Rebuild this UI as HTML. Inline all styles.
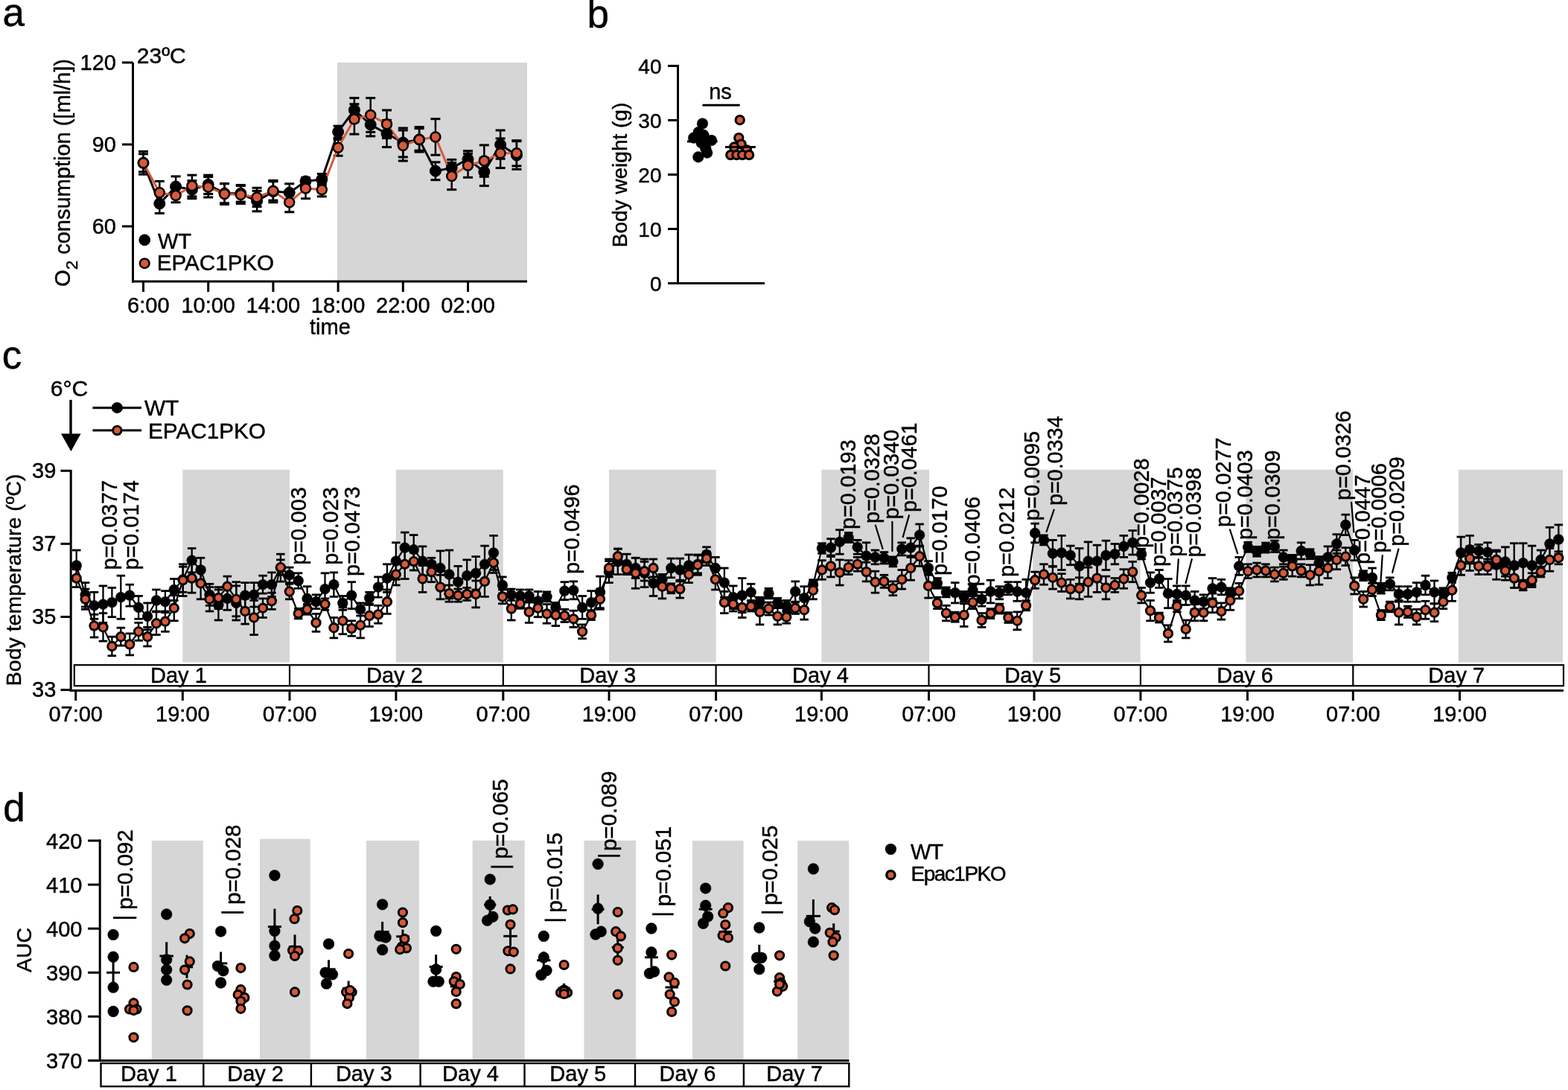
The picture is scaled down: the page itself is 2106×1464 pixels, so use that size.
<!DOCTYPE html>
<html><head><meta charset="utf-8"><title>Figure</title>
<style>
html,body{margin:0;padding:0;background:#fff;}
body{width:2106px;height:1464px;overflow:hidden;}
svg{display:block;}
svg text{font-family:'Liberation Sans', Arial, Helvetica, sans-serif;fill:#000;stroke:#000;stroke-width:0.45px;}
</style></head><body>
<svg width="2106" height="1464" viewBox="0 0 2106 1464">
<rect x="0" y="0" width="2106" height="1464" fill="#fff"/>
<text x="3.6" y="35.2" font-size="53" text-anchor="start">a</text>
<rect x="453.0" y="84.0" width="255.0" height="294.0" fill="#d6d6d6" stroke="none" stroke-width="0"/>
<line x1="178.5" y1="84.0" x2="178.5" y2="379.5" stroke="#000" stroke-width="3" stroke-linecap="butt"/>
<line x1="177.0" y1="378.0" x2="708.0" y2="378.0" stroke="#000" stroke-width="3" stroke-linecap="butt"/>
<line x1="164.0" y1="84.0" x2="178.5" y2="84.0" stroke="#000" stroke-width="3" stroke-linecap="butt"/>
<text x="156.0" y="94.0" font-size="29" text-anchor="end">120</text>
<line x1="164.0" y1="194.0" x2="178.5" y2="194.0" stroke="#000" stroke-width="3" stroke-linecap="butt"/>
<text x="156.0" y="204.0" font-size="29" text-anchor="end">90</text>
<line x1="164.0" y1="304.0" x2="178.5" y2="304.0" stroke="#000" stroke-width="3" stroke-linecap="butt"/>
<text x="156.0" y="314.0" font-size="29" text-anchor="end">60</text>
<line x1="192.5" y1="378.0" x2="192.5" y2="392.0" stroke="#000" stroke-width="3" stroke-linecap="butt"/>
<text x="199.3" y="420.0" font-size="29" text-anchor="middle">6:00</text>
<line x1="279.7" y1="378.0" x2="279.7" y2="392.0" stroke="#000" stroke-width="3" stroke-linecap="butt"/>
<text x="279.7" y="420.0" font-size="29" text-anchor="middle">10:00</text>
<line x1="366.9" y1="378.0" x2="366.9" y2="392.0" stroke="#000" stroke-width="3" stroke-linecap="butt"/>
<text x="366.9" y="420.0" font-size="29" text-anchor="middle">14:00</text>
<line x1="454.1" y1="378.0" x2="454.1" y2="392.0" stroke="#000" stroke-width="3" stroke-linecap="butt"/>
<text x="454.1" y="420.0" font-size="29" text-anchor="middle">18:00</text>
<line x1="541.3" y1="378.0" x2="541.3" y2="392.0" stroke="#000" stroke-width="3" stroke-linecap="butt"/>
<text x="541.3" y="420.0" font-size="29" text-anchor="middle">22:00</text>
<line x1="628.5" y1="378.0" x2="628.5" y2="392.0" stroke="#000" stroke-width="3" stroke-linecap="butt"/>
<text x="628.5" y="420.0" font-size="29" text-anchor="middle">02:00</text>
<text x="443.4" y="448.5" font-size="29" text-anchor="middle">time</text>
<text x="183.8" y="85.0" font-size="30" text-anchor="start">23ºC</text>
<text x="93.5" y="232" font-size="29" text-anchor="middle" transform="rotate(-90 93.5 232)">O<tspan font-size="22.5" dy="10">2</tspan><tspan dy="-10"> consumption ([ml/h])</tspan></text>
<line x1="192.5" y1="206.8" x2="192.5" y2="230.8" stroke="#000" stroke-width="2.5" stroke-linecap="butt"/><line x1="186.0" y1="206.8" x2="199.0" y2="206.8" stroke="#000" stroke-width="3.0" stroke-linecap="butt"/><line x1="186.0" y1="230.8" x2="199.0" y2="230.8" stroke="#000" stroke-width="3.0" stroke-linecap="butt"/>
<line x1="192.5" y1="203.4" x2="192.5" y2="234.2" stroke="#000" stroke-width="2.5" stroke-linecap="butt"/><line x1="186.0" y1="203.4" x2="199.0" y2="203.4" stroke="#000" stroke-width="3.0" stroke-linecap="butt"/><line x1="186.0" y1="234.2" x2="199.0" y2="234.2" stroke="#000" stroke-width="3.0" stroke-linecap="butt"/>
<line x1="214.3" y1="260.5" x2="214.3" y2="286.5" stroke="#000" stroke-width="2.5" stroke-linecap="butt"/><line x1="207.8" y1="260.5" x2="220.8" y2="260.5" stroke="#000" stroke-width="3.0" stroke-linecap="butt"/><line x1="207.8" y1="286.5" x2="220.8" y2="286.5" stroke="#000" stroke-width="3.0" stroke-linecap="butt"/>
<line x1="214.3" y1="243.4" x2="214.3" y2="274.2" stroke="#000" stroke-width="2.5" stroke-linecap="butt"/><line x1="207.8" y1="243.4" x2="220.8" y2="243.4" stroke="#000" stroke-width="3.0" stroke-linecap="butt"/><line x1="207.8" y1="274.2" x2="220.8" y2="274.2" stroke="#000" stroke-width="3.0" stroke-linecap="butt"/>
<line x1="236.1" y1="236.9" x2="236.1" y2="264.3" stroke="#000" stroke-width="2.5" stroke-linecap="butt"/><line x1="229.6" y1="236.9" x2="242.6" y2="236.9" stroke="#000" stroke-width="3.0" stroke-linecap="butt"/><line x1="229.6" y1="264.3" x2="242.6" y2="264.3" stroke="#000" stroke-width="3.0" stroke-linecap="butt"/>
<line x1="236.1" y1="253.3" x2="236.1" y2="271.8" stroke="#000" stroke-width="2.5" stroke-linecap="butt"/><line x1="229.6" y1="253.3" x2="242.6" y2="253.3" stroke="#000" stroke-width="3.0" stroke-linecap="butt"/><line x1="229.6" y1="271.8" x2="242.6" y2="271.8" stroke="#000" stroke-width="3.0" stroke-linecap="butt"/>
<line x1="257.9" y1="242.7" x2="257.9" y2="266.7" stroke="#000" stroke-width="2.5" stroke-linecap="butt"/><line x1="251.4" y1="242.7" x2="264.4" y2="242.7" stroke="#000" stroke-width="3.0" stroke-linecap="butt"/><line x1="251.4" y1="266.7" x2="264.4" y2="266.7" stroke="#000" stroke-width="3.0" stroke-linecap="butt"/>
<line x1="257.9" y1="235.2" x2="257.9" y2="263.9" stroke="#000" stroke-width="2.5" stroke-linecap="butt"/><line x1="251.4" y1="235.2" x2="264.4" y2="235.2" stroke="#000" stroke-width="3.0" stroke-linecap="butt"/><line x1="251.4" y1="263.9" x2="264.4" y2="263.9" stroke="#000" stroke-width="3.0" stroke-linecap="butt"/>
<line x1="279.7" y1="235.2" x2="279.7" y2="260.5" stroke="#000" stroke-width="2.5" stroke-linecap="butt"/><line x1="273.2" y1="235.2" x2="286.2" y2="235.2" stroke="#000" stroke-width="3.0" stroke-linecap="butt"/><line x1="273.2" y1="260.5" x2="286.2" y2="260.5" stroke="#000" stroke-width="3.0" stroke-linecap="butt"/>
<line x1="279.7" y1="237.6" x2="279.7" y2="265.0" stroke="#000" stroke-width="2.5" stroke-linecap="butt"/><line x1="273.2" y1="237.6" x2="286.2" y2="237.6" stroke="#000" stroke-width="3.0" stroke-linecap="butt"/><line x1="273.2" y1="265.0" x2="286.2" y2="265.0" stroke="#000" stroke-width="3.0" stroke-linecap="butt"/>
<line x1="301.5" y1="246.8" x2="301.5" y2="272.8" stroke="#000" stroke-width="2.5" stroke-linecap="butt"/><line x1="295.0" y1="246.8" x2="308.0" y2="246.8" stroke="#000" stroke-width="3.0" stroke-linecap="butt"/><line x1="295.0" y1="272.8" x2="308.0" y2="272.8" stroke="#000" stroke-width="3.0" stroke-linecap="butt"/>
<line x1="301.5" y1="246.5" x2="301.5" y2="274.5" stroke="#000" stroke-width="2.5" stroke-linecap="butt"/><line x1="295.0" y1="246.5" x2="308.0" y2="246.5" stroke="#000" stroke-width="3.0" stroke-linecap="butt"/><line x1="295.0" y1="274.5" x2="308.0" y2="274.5" stroke="#000" stroke-width="3.0" stroke-linecap="butt"/>
<line x1="323.3" y1="248.5" x2="323.3" y2="271.1" stroke="#000" stroke-width="2.5" stroke-linecap="butt"/><line x1="316.8" y1="248.5" x2="329.8" y2="248.5" stroke="#000" stroke-width="3.0" stroke-linecap="butt"/><line x1="316.8" y1="271.1" x2="329.8" y2="271.1" stroke="#000" stroke-width="3.0" stroke-linecap="butt"/>
<line x1="323.3" y1="249.6" x2="323.3" y2="273.5" stroke="#000" stroke-width="2.5" stroke-linecap="butt"/><line x1="316.8" y1="249.6" x2="329.8" y2="249.6" stroke="#000" stroke-width="3.0" stroke-linecap="butt"/><line x1="316.8" y1="273.5" x2="329.8" y2="273.5" stroke="#000" stroke-width="3.0" stroke-linecap="butt"/>
<line x1="345.1" y1="256.4" x2="345.1" y2="283.8" stroke="#000" stroke-width="2.5" stroke-linecap="butt"/><line x1="338.6" y1="256.4" x2="351.6" y2="256.4" stroke="#000" stroke-width="3.0" stroke-linecap="butt"/><line x1="338.6" y1="283.8" x2="351.6" y2="283.8" stroke="#000" stroke-width="3.0" stroke-linecap="butt"/>
<line x1="345.1" y1="252.3" x2="345.1" y2="277.6" stroke="#000" stroke-width="2.5" stroke-linecap="butt"/><line x1="338.6" y1="252.3" x2="351.6" y2="252.3" stroke="#000" stroke-width="3.0" stroke-linecap="butt"/><line x1="338.6" y1="277.6" x2="351.6" y2="277.6" stroke="#000" stroke-width="3.0" stroke-linecap="butt"/>
<line x1="366.9" y1="242.4" x2="366.9" y2="271.8" stroke="#000" stroke-width="2.5" stroke-linecap="butt"/><line x1="360.4" y1="242.4" x2="373.4" y2="242.4" stroke="#000" stroke-width="3.0" stroke-linecap="butt"/><line x1="360.4" y1="271.8" x2="373.4" y2="271.8" stroke="#000" stroke-width="3.0" stroke-linecap="butt"/>
<line x1="366.9" y1="243.8" x2="366.9" y2="269.1" stroke="#000" stroke-width="2.5" stroke-linecap="butt"/><line x1="360.4" y1="243.8" x2="373.4" y2="243.8" stroke="#000" stroke-width="3.0" stroke-linecap="butt"/><line x1="360.4" y1="269.1" x2="373.4" y2="269.1" stroke="#000" stroke-width="3.0" stroke-linecap="butt"/>
<line x1="388.7" y1="246.8" x2="388.7" y2="270.8" stroke="#000" stroke-width="2.5" stroke-linecap="butt"/><line x1="382.2" y1="246.8" x2="395.2" y2="246.8" stroke="#000" stroke-width="3.0" stroke-linecap="butt"/><line x1="382.2" y1="270.8" x2="395.2" y2="270.8" stroke="#000" stroke-width="3.0" stroke-linecap="butt"/>
<line x1="388.7" y1="258.8" x2="388.7" y2="284.8" stroke="#000" stroke-width="2.5" stroke-linecap="butt"/><line x1="382.2" y1="258.8" x2="395.2" y2="258.8" stroke="#000" stroke-width="3.0" stroke-linecap="butt"/><line x1="382.2" y1="284.8" x2="395.2" y2="284.8" stroke="#000" stroke-width="3.0" stroke-linecap="butt"/>
<line x1="410.5" y1="238.6" x2="410.5" y2="248.2" stroke="#000" stroke-width="2.5" stroke-linecap="butt"/><line x1="404.0" y1="238.6" x2="417.0" y2="238.6" stroke="#000" stroke-width="3.0" stroke-linecap="butt"/><line x1="404.0" y1="248.2" x2="417.0" y2="248.2" stroke="#000" stroke-width="3.0" stroke-linecap="butt"/>
<line x1="410.5" y1="239.3" x2="410.5" y2="266.7" stroke="#000" stroke-width="2.5" stroke-linecap="butt"/><line x1="404.0" y1="239.3" x2="417.0" y2="239.3" stroke="#000" stroke-width="3.0" stroke-linecap="butt"/><line x1="404.0" y1="266.7" x2="417.0" y2="266.7" stroke="#000" stroke-width="3.0" stroke-linecap="butt"/>
<line x1="432.3" y1="233.5" x2="432.3" y2="248.5" stroke="#000" stroke-width="2.5" stroke-linecap="butt"/><line x1="425.8" y1="233.5" x2="438.8" y2="233.5" stroke="#000" stroke-width="3.0" stroke-linecap="butt"/><line x1="425.8" y1="248.5" x2="438.8" y2="248.5" stroke="#000" stroke-width="3.0" stroke-linecap="butt"/>
<line x1="432.3" y1="245.5" x2="432.3" y2="263.9" stroke="#000" stroke-width="2.5" stroke-linecap="butt"/><line x1="425.8" y1="245.5" x2="438.8" y2="245.5" stroke="#000" stroke-width="3.0" stroke-linecap="butt"/><line x1="425.8" y1="263.9" x2="438.8" y2="263.9" stroke="#000" stroke-width="3.0" stroke-linecap="butt"/>
<line x1="454.1" y1="169.2" x2="454.1" y2="185.0" stroke="#000" stroke-width="2.5" stroke-linecap="butt"/><line x1="447.6" y1="169.2" x2="460.6" y2="169.2" stroke="#000" stroke-width="3.0" stroke-linecap="butt"/><line x1="447.6" y1="185.0" x2="460.6" y2="185.0" stroke="#000" stroke-width="3.0" stroke-linecap="butt"/>
<line x1="454.1" y1="187.4" x2="454.1" y2="209.2" stroke="#000" stroke-width="2.5" stroke-linecap="butt"/><line x1="447.6" y1="187.4" x2="460.6" y2="187.4" stroke="#000" stroke-width="3.0" stroke-linecap="butt"/><line x1="447.6" y1="209.2" x2="460.6" y2="209.2" stroke="#000" stroke-width="3.0" stroke-linecap="butt"/>
<line x1="475.9" y1="131.6" x2="475.9" y2="163.8" stroke="#000" stroke-width="2.5" stroke-linecap="butt"/><line x1="469.4" y1="131.6" x2="482.4" y2="131.6" stroke="#000" stroke-width="3.0" stroke-linecap="butt"/><line x1="469.4" y1="163.8" x2="482.4" y2="163.8" stroke="#000" stroke-width="3.0" stroke-linecap="butt"/>
<line x1="475.9" y1="139.8" x2="475.9" y2="180.2" stroke="#000" stroke-width="2.5" stroke-linecap="butt"/><line x1="469.4" y1="139.8" x2="482.4" y2="139.8" stroke="#000" stroke-width="3.0" stroke-linecap="butt"/><line x1="469.4" y1="180.2" x2="482.4" y2="180.2" stroke="#000" stroke-width="3.0" stroke-linecap="butt"/>
<line x1="497.7" y1="152.1" x2="497.7" y2="182.9" stroke="#000" stroke-width="2.5" stroke-linecap="butt"/><line x1="491.2" y1="152.1" x2="504.2" y2="152.1" stroke="#000" stroke-width="3.0" stroke-linecap="butt"/><line x1="491.2" y1="182.9" x2="504.2" y2="182.9" stroke="#000" stroke-width="3.0" stroke-linecap="butt"/>
<line x1="497.7" y1="131.6" x2="497.7" y2="177.4" stroke="#000" stroke-width="2.5" stroke-linecap="butt"/><line x1="491.2" y1="131.6" x2="504.2" y2="131.6" stroke="#000" stroke-width="3.0" stroke-linecap="butt"/><line x1="491.2" y1="177.4" x2="504.2" y2="177.4" stroke="#000" stroke-width="3.0" stroke-linecap="butt"/>
<line x1="519.5" y1="161.4" x2="519.5" y2="197.6" stroke="#000" stroke-width="2.5" stroke-linecap="butt"/><line x1="513.0" y1="161.4" x2="526.0" y2="161.4" stroke="#000" stroke-width="3.0" stroke-linecap="butt"/><line x1="513.0" y1="197.6" x2="526.0" y2="197.6" stroke="#000" stroke-width="3.0" stroke-linecap="butt"/>
<line x1="519.5" y1="148.0" x2="519.5" y2="185.6" stroke="#000" stroke-width="2.5" stroke-linecap="butt"/><line x1="513.0" y1="148.0" x2="526.0" y2="148.0" stroke="#000" stroke-width="3.0" stroke-linecap="butt"/><line x1="513.0" y1="185.6" x2="526.0" y2="185.6" stroke="#000" stroke-width="3.0" stroke-linecap="butt"/>
<line x1="541.3" y1="172.0" x2="541.3" y2="210.9" stroke="#000" stroke-width="2.5" stroke-linecap="butt"/><line x1="534.8" y1="172.0" x2="547.8" y2="172.0" stroke="#000" stroke-width="3.0" stroke-linecap="butt"/><line x1="534.8" y1="210.9" x2="547.8" y2="210.9" stroke="#000" stroke-width="3.0" stroke-linecap="butt"/>
<line x1="541.3" y1="175.0" x2="541.3" y2="216.1" stroke="#000" stroke-width="2.5" stroke-linecap="butt"/><line x1="534.8" y1="175.0" x2="547.8" y2="175.0" stroke="#000" stroke-width="3.0" stroke-linecap="butt"/><line x1="534.8" y1="216.1" x2="547.8" y2="216.1" stroke="#000" stroke-width="3.0" stroke-linecap="butt"/>
<line x1="563.1" y1="172.6" x2="563.1" y2="202.1" stroke="#000" stroke-width="2.5" stroke-linecap="butt"/><line x1="556.6" y1="172.6" x2="569.6" y2="172.6" stroke="#000" stroke-width="3.0" stroke-linecap="butt"/><line x1="556.6" y1="202.1" x2="569.6" y2="202.1" stroke="#000" stroke-width="3.0" stroke-linecap="butt"/>
<line x1="563.1" y1="170.6" x2="563.1" y2="204.1" stroke="#000" stroke-width="2.5" stroke-linecap="butt"/><line x1="556.6" y1="170.6" x2="569.6" y2="170.6" stroke="#000" stroke-width="3.0" stroke-linecap="butt"/><line x1="556.6" y1="204.1" x2="569.6" y2="204.1" stroke="#000" stroke-width="3.0" stroke-linecap="butt"/>
<line x1="584.9" y1="217.8" x2="584.9" y2="241.7" stroke="#000" stroke-width="2.5" stroke-linecap="butt"/><line x1="578.4" y1="217.8" x2="591.4" y2="217.8" stroke="#000" stroke-width="3.0" stroke-linecap="butt"/><line x1="578.4" y1="241.7" x2="591.4" y2="241.7" stroke="#000" stroke-width="3.0" stroke-linecap="butt"/>
<line x1="584.9" y1="159.7" x2="584.9" y2="208.2" stroke="#000" stroke-width="2.5" stroke-linecap="butt"/><line x1="578.4" y1="159.7" x2="591.4" y2="159.7" stroke="#000" stroke-width="3.0" stroke-linecap="butt"/><line x1="578.4" y1="208.2" x2="591.4" y2="208.2" stroke="#000" stroke-width="3.0" stroke-linecap="butt"/>
<line x1="606.7" y1="214.4" x2="606.7" y2="236.9" stroke="#000" stroke-width="2.5" stroke-linecap="butt"/><line x1="600.2" y1="214.4" x2="613.2" y2="214.4" stroke="#000" stroke-width="3.0" stroke-linecap="butt"/><line x1="600.2" y1="236.9" x2="613.2" y2="236.9" stroke="#000" stroke-width="3.0" stroke-linecap="butt"/>
<line x1="606.7" y1="218.5" x2="606.7" y2="254.7" stroke="#000" stroke-width="2.5" stroke-linecap="butt"/><line x1="600.2" y1="218.5" x2="613.2" y2="218.5" stroke="#000" stroke-width="3.0" stroke-linecap="butt"/><line x1="600.2" y1="254.7" x2="613.2" y2="254.7" stroke="#000" stroke-width="3.0" stroke-linecap="butt"/>
<line x1="628.5" y1="202.7" x2="628.5" y2="224.6" stroke="#000" stroke-width="2.5" stroke-linecap="butt"/><line x1="622.0" y1="202.7" x2="635.0" y2="202.7" stroke="#000" stroke-width="3.0" stroke-linecap="butt"/><line x1="622.0" y1="224.6" x2="635.0" y2="224.6" stroke="#000" stroke-width="3.0" stroke-linecap="butt"/>
<line x1="628.5" y1="206.2" x2="628.5" y2="238.3" stroke="#000" stroke-width="2.5" stroke-linecap="butt"/><line x1="622.0" y1="206.2" x2="635.0" y2="206.2" stroke="#000" stroke-width="3.0" stroke-linecap="butt"/><line x1="622.0" y1="238.3" x2="635.0" y2="238.3" stroke="#000" stroke-width="3.0" stroke-linecap="butt"/>
<line x1="650.3" y1="212.0" x2="650.3" y2="249.6" stroke="#000" stroke-width="2.5" stroke-linecap="butt"/><line x1="643.8" y1="212.0" x2="656.8" y2="212.0" stroke="#000" stroke-width="3.0" stroke-linecap="butt"/><line x1="643.8" y1="249.6" x2="656.8" y2="249.6" stroke="#000" stroke-width="3.0" stroke-linecap="butt"/>
<line x1="650.3" y1="194.9" x2="650.3" y2="237.3" stroke="#000" stroke-width="2.5" stroke-linecap="butt"/><line x1="643.8" y1="194.9" x2="656.8" y2="194.9" stroke="#000" stroke-width="3.0" stroke-linecap="butt"/><line x1="643.8" y1="237.3" x2="656.8" y2="237.3" stroke="#000" stroke-width="3.0" stroke-linecap="butt"/>
<line x1="672.1" y1="175.0" x2="672.1" y2="213.3" stroke="#000" stroke-width="2.5" stroke-linecap="butt"/><line x1="665.6" y1="175.0" x2="678.6" y2="175.0" stroke="#000" stroke-width="3.0" stroke-linecap="butt"/><line x1="665.6" y1="213.3" x2="678.6" y2="213.3" stroke="#000" stroke-width="3.0" stroke-linecap="butt"/>
<line x1="672.1" y1="186.0" x2="672.1" y2="225.6" stroke="#000" stroke-width="2.5" stroke-linecap="butt"/><line x1="665.6" y1="186.0" x2="678.6" y2="186.0" stroke="#000" stroke-width="3.0" stroke-linecap="butt"/><line x1="665.6" y1="225.6" x2="678.6" y2="225.6" stroke="#000" stroke-width="3.0" stroke-linecap="butt"/>
<line x1="693.9" y1="189.7" x2="693.9" y2="227.4" stroke="#000" stroke-width="2.5" stroke-linecap="butt"/><line x1="687.4" y1="189.7" x2="700.4" y2="189.7" stroke="#000" stroke-width="3.0" stroke-linecap="butt"/><line x1="687.4" y1="227.4" x2="700.4" y2="227.4" stroke="#000" stroke-width="3.0" stroke-linecap="butt"/>
<line x1="693.9" y1="188.7" x2="693.9" y2="222.9" stroke="#000" stroke-width="2.5" stroke-linecap="butt"/><line x1="687.4" y1="188.7" x2="700.4" y2="188.7" stroke="#000" stroke-width="3.0" stroke-linecap="butt"/><line x1="687.4" y1="222.9" x2="700.4" y2="222.9" stroke="#000" stroke-width="3.0" stroke-linecap="butt"/>
<polyline points="192.5,218.8 214.3,273.5 236.1,250.6 257.9,254.7 279.7,247.9 301.5,259.8 323.3,259.8 345.1,270.1 366.9,257.1 388.7,258.8 410.5,243.4 432.3,241.0 454.1,177.1 475.9,147.7 497.7,167.5 519.5,179.5 541.3,191.5 563.1,187.4 584.9,229.7 606.7,225.6 628.5,213.7 650.3,230.8 672.1,194.2 693.9,208.5" fill="none" stroke="#000" stroke-width="3" stroke-linejoin="round"/>
<polyline points="192.5,218.8 214.3,258.8 236.1,262.6 257.9,249.6 279.7,251.3 301.5,260.5 323.3,261.5 345.1,265.0 366.9,256.4 388.7,271.8 410.5,253.0 432.3,254.7 454.1,198.3 475.9,160.0 497.7,154.5 519.5,166.8 541.3,195.6 563.1,187.4 584.9,183.9 606.7,236.6 628.5,222.2 650.3,216.1 672.1,205.8 693.9,205.8" fill="none" stroke="#d65a3a" stroke-width="3" stroke-linejoin="round"/>
<circle cx="192.5" cy="218.8" r="7.5" fill="#000" stroke="#000" stroke-width="1"/>
<circle cx="214.3" cy="273.5" r="7.5" fill="#000" stroke="#000" stroke-width="1"/>
<circle cx="236.1" cy="250.6" r="7.5" fill="#000" stroke="#000" stroke-width="1"/>
<circle cx="257.9" cy="254.7" r="7.5" fill="#000" stroke="#000" stroke-width="1"/>
<circle cx="279.7" cy="247.9" r="7.5" fill="#000" stroke="#000" stroke-width="1"/>
<circle cx="301.5" cy="259.8" r="7.5" fill="#000" stroke="#000" stroke-width="1"/>
<circle cx="323.3" cy="259.8" r="7.5" fill="#000" stroke="#000" stroke-width="1"/>
<circle cx="345.1" cy="270.1" r="7.5" fill="#000" stroke="#000" stroke-width="1"/>
<circle cx="366.9" cy="257.1" r="7.5" fill="#000" stroke="#000" stroke-width="1"/>
<circle cx="388.7" cy="258.8" r="7.5" fill="#000" stroke="#000" stroke-width="1"/>
<circle cx="410.5" cy="243.4" r="7.5" fill="#000" stroke="#000" stroke-width="1"/>
<circle cx="432.3" cy="241.0" r="7.5" fill="#000" stroke="#000" stroke-width="1"/>
<circle cx="454.1" cy="177.1" r="7.5" fill="#000" stroke="#000" stroke-width="1"/>
<circle cx="475.9" cy="147.7" r="7.5" fill="#000" stroke="#000" stroke-width="1"/>
<circle cx="497.7" cy="167.5" r="7.5" fill="#000" stroke="#000" stroke-width="1"/>
<circle cx="519.5" cy="179.5" r="7.5" fill="#000" stroke="#000" stroke-width="1"/>
<circle cx="541.3" cy="191.5" r="7.5" fill="#000" stroke="#000" stroke-width="1"/>
<circle cx="563.1" cy="187.4" r="7.5" fill="#000" stroke="#000" stroke-width="1"/>
<circle cx="584.9" cy="229.7" r="7.5" fill="#000" stroke="#000" stroke-width="1"/>
<circle cx="606.7" cy="225.6" r="7.5" fill="#000" stroke="#000" stroke-width="1"/>
<circle cx="628.5" cy="213.7" r="7.5" fill="#000" stroke="#000" stroke-width="1"/>
<circle cx="650.3" cy="230.8" r="7.5" fill="#000" stroke="#000" stroke-width="1"/>
<circle cx="672.1" cy="194.2" r="7.5" fill="#000" stroke="#000" stroke-width="1"/>
<circle cx="693.9" cy="208.5" r="7.5" fill="#000" stroke="#000" stroke-width="1"/>
<circle cx="192.5" cy="218.8" r="6.5" fill="#d65a3a" stroke="#000" stroke-width="2.5"/>
<circle cx="214.3" cy="258.8" r="6.5" fill="#d65a3a" stroke="#000" stroke-width="2.5"/>
<circle cx="236.1" cy="262.6" r="6.5" fill="#d65a3a" stroke="#000" stroke-width="2.5"/>
<circle cx="257.9" cy="249.6" r="6.5" fill="#d65a3a" stroke="#000" stroke-width="2.5"/>
<circle cx="279.7" cy="251.3" r="6.5" fill="#d65a3a" stroke="#000" stroke-width="2.5"/>
<circle cx="301.5" cy="260.5" r="6.5" fill="#d65a3a" stroke="#000" stroke-width="2.5"/>
<circle cx="323.3" cy="261.5" r="6.5" fill="#d65a3a" stroke="#000" stroke-width="2.5"/>
<circle cx="345.1" cy="265.0" r="6.5" fill="#d65a3a" stroke="#000" stroke-width="2.5"/>
<circle cx="366.9" cy="256.4" r="6.5" fill="#d65a3a" stroke="#000" stroke-width="2.5"/>
<circle cx="388.7" cy="271.8" r="6.5" fill="#d65a3a" stroke="#000" stroke-width="2.5"/>
<circle cx="410.5" cy="253.0" r="6.5" fill="#d65a3a" stroke="#000" stroke-width="2.5"/>
<circle cx="432.3" cy="254.7" r="6.5" fill="#d65a3a" stroke="#000" stroke-width="2.5"/>
<circle cx="454.1" cy="198.3" r="6.5" fill="#d65a3a" stroke="#000" stroke-width="2.5"/>
<circle cx="475.9" cy="160.0" r="6.5" fill="#d65a3a" stroke="#000" stroke-width="2.5"/>
<circle cx="497.7" cy="154.5" r="6.5" fill="#d65a3a" stroke="#000" stroke-width="2.5"/>
<circle cx="519.5" cy="166.8" r="6.5" fill="#d65a3a" stroke="#000" stroke-width="2.5"/>
<circle cx="541.3" cy="195.6" r="6.5" fill="#d65a3a" stroke="#000" stroke-width="2.5"/>
<circle cx="563.1" cy="187.4" r="6.5" fill="#d65a3a" stroke="#000" stroke-width="2.5"/>
<circle cx="584.9" cy="183.9" r="6.5" fill="#d65a3a" stroke="#000" stroke-width="2.5"/>
<circle cx="606.7" cy="236.6" r="6.5" fill="#d65a3a" stroke="#000" stroke-width="2.5"/>
<circle cx="628.5" cy="222.2" r="6.5" fill="#d65a3a" stroke="#000" stroke-width="2.5"/>
<circle cx="650.3" cy="216.1" r="6.5" fill="#d65a3a" stroke="#000" stroke-width="2.5"/>
<circle cx="672.1" cy="205.8" r="6.5" fill="#d65a3a" stroke="#000" stroke-width="2.5"/>
<circle cx="693.9" cy="205.8" r="6.5" fill="#d65a3a" stroke="#000" stroke-width="2.5"/>
<circle cx="194.2" cy="322.3" r="7.4" fill="#000" stroke="#000" stroke-width="1"/>
<text x="212.0" y="333.7" font-size="29" text-anchor="start">WT</text>
<circle cx="194.2" cy="353.7" r="6.3" fill="#d65a3a" stroke="#000" stroke-width="2.5"/>
<text x="210.8" y="362.7" font-size="29.6" text-anchor="start">EPAC1PKO</text>
<text x="788.5" y="36.5" font-size="53" text-anchor="start">b</text>
<line x1="910.5" y1="87.0" x2="910.5" y2="381.5" stroke="#000" stroke-width="3" stroke-linecap="butt"/>
<line x1="909.0" y1="380.5" x2="1027.0" y2="380.5" stroke="#000" stroke-width="3" stroke-linecap="butt"/>
<line x1="897.0" y1="88.5" x2="910.5" y2="88.5" stroke="#000" stroke-width="3" stroke-linecap="butt"/>
<text x="888.5" y="98.5" font-size="28" text-anchor="end">40</text>
<line x1="897.0" y1="161.5" x2="910.5" y2="161.5" stroke="#000" stroke-width="3" stroke-linecap="butt"/>
<text x="888.5" y="171.5" font-size="28" text-anchor="end">30</text>
<line x1="897.0" y1="234.5" x2="910.5" y2="234.5" stroke="#000" stroke-width="3" stroke-linecap="butt"/>
<text x="888.5" y="244.5" font-size="28" text-anchor="end">20</text>
<line x1="897.0" y1="307.5" x2="910.5" y2="307.5" stroke="#000" stroke-width="3" stroke-linecap="butt"/>
<text x="888.5" y="317.5" font-size="28" text-anchor="end">10</text>
<line x1="897.0" y1="380.5" x2="910.5" y2="380.5" stroke="#000" stroke-width="3" stroke-linecap="butt"/>
<text x="888.5" y="390.5" font-size="28" text-anchor="end">0</text>
<text x="841.5" y="235.0" font-size="28" text-anchor="middle" transform="rotate(-90 841.5 235.0)">Body weight (g)</text>
<text x="967.5" y="133.0" font-size="29" text-anchor="middle">ns</text>
<line x1="943.5" y1="141.3" x2="993.7" y2="141.3" stroke="#000" stroke-width="3" stroke-linecap="butt"/>
<circle cx="943.5" cy="166.0" r="7.3" fill="#000" stroke="#000" stroke-width="0.5"/>
<circle cx="938.3" cy="177.5" r="7.3" fill="#000" stroke="#000" stroke-width="0.5"/>
<circle cx="944.9" cy="181.3" r="7.3" fill="#000" stroke="#000" stroke-width="0.5"/>
<circle cx="931.6" cy="185.1" r="7.3" fill="#000" stroke="#000" stroke-width="0.5"/>
<circle cx="955.5" cy="188.5" r="7.3" fill="#000" stroke="#000" stroke-width="0.5"/>
<circle cx="942.1" cy="191.8" r="7.3" fill="#000" stroke="#000" stroke-width="0.5"/>
<circle cx="947.8" cy="199.5" r="7.3" fill="#000" stroke="#000" stroke-width="0.5"/>
<circle cx="949.7" cy="205.2" r="7.3" fill="#000" stroke="#000" stroke-width="0.5"/>
<circle cx="937.8" cy="210.9" r="7.3" fill="#000" stroke="#000" stroke-width="0.5"/>
<line x1="923.0" y1="189.9" x2="963.6" y2="189.9" stroke="#000" stroke-width="3" stroke-linecap="butt"/>
<circle cx="993.7" cy="161.2" r="5.7" fill="#d65a3a" stroke="#000" stroke-width="3.0"/>
<circle cx="992.3" cy="185.1" r="5.7" fill="#d65a3a" stroke="#000" stroke-width="3.0"/>
<circle cx="995.6" cy="193.7" r="5.7" fill="#d65a3a" stroke="#000" stroke-width="3.0"/>
<circle cx="986.1" cy="197.5" r="5.7" fill="#d65a3a" stroke="#000" stroke-width="3.0"/>
<circle cx="1002.8" cy="201.4" r="5.7" fill="#d65a3a" stroke="#000" stroke-width="3.0"/>
<circle cx="981.3" cy="208.1" r="5.7" fill="#d65a3a" stroke="#000" stroke-width="3.0"/>
<circle cx="989.4" cy="208.1" r="5.7" fill="#d65a3a" stroke="#000" stroke-width="3.0"/>
<circle cx="997.1" cy="208.1" r="5.7" fill="#d65a3a" stroke="#000" stroke-width="3.0"/>
<circle cx="1006.1" cy="208.1" r="5.7" fill="#d65a3a" stroke="#000" stroke-width="3.0"/>
<line x1="974.0" y1="197.4" x2="1014.8" y2="197.4" stroke="#000" stroke-width="3" stroke-linecap="butt"/>
<text x="2.8" y="495.0" font-size="53" text-anchor="start">c</text>
<rect x="245.3" y="630.8" width="143.7" height="258.7" fill="#d6d6d6" stroke="none" stroke-width="0"/>
<rect x="531.9" y="630.8" width="143.9" height="258.7" fill="#d6d6d6" stroke="none" stroke-width="0"/>
<rect x="818.0" y="630.8" width="143.6" height="258.7" fill="#d6d6d6" stroke="none" stroke-width="0"/>
<rect x="1103.4" y="630.8" width="144.6" height="258.7" fill="#d6d6d6" stroke="none" stroke-width="0"/>
<rect x="1387.2" y="630.8" width="144.5" height="258.7" fill="#d6d6d6" stroke="none" stroke-width="0"/>
<rect x="1673.4" y="630.8" width="143.7" height="258.7" fill="#d6d6d6" stroke="none" stroke-width="0"/>
<rect x="1958.9" y="630.8" width="140.1" height="258.7" fill="#d6d6d6" stroke="none" stroke-width="0"/>
<line x1="95.2" y1="631.0" x2="95.2" y2="928.5" stroke="#000" stroke-width="3" stroke-linecap="butt"/>
<line x1="93.7" y1="927.4" x2="2100.0" y2="927.4" stroke="#000" stroke-width="3" stroke-linecap="butt"/>
<line x1="81.4" y1="632.3" x2="95.2" y2="632.3" stroke="#000" stroke-width="3" stroke-linecap="butt"/>
<text x="75.3" y="641.5" font-size="29" text-anchor="end">39</text>
<line x1="81.4" y1="730.4" x2="95.2" y2="730.4" stroke="#000" stroke-width="3" stroke-linecap="butt"/>
<text x="75.3" y="739.6" font-size="29" text-anchor="end">37</text>
<line x1="81.4" y1="828.5" x2="95.2" y2="828.5" stroke="#000" stroke-width="3" stroke-linecap="butt"/>
<text x="75.3" y="837.7" font-size="29" text-anchor="end">35</text>
<line x1="81.4" y1="926.6" x2="95.2" y2="926.6" stroke="#000" stroke-width="3" stroke-linecap="butt"/>
<text x="75.3" y="935.8" font-size="29" text-anchor="end">33</text>
<line x1="101.7" y1="927.4" x2="101.7" y2="941.0" stroke="#000" stroke-width="3" stroke-linecap="butt"/>
<text x="101.7" y="968.6" font-size="29" text-anchor="middle">07:00</text>
<line x1="245.3" y1="927.4" x2="245.3" y2="941.0" stroke="#000" stroke-width="3" stroke-linecap="butt"/>
<text x="245.3" y="968.6" font-size="29" text-anchor="middle">19:00</text>
<line x1="389.0" y1="927.4" x2="389.0" y2="941.0" stroke="#000" stroke-width="3" stroke-linecap="butt"/>
<text x="389.0" y="968.6" font-size="29" text-anchor="middle">07:00</text>
<line x1="531.9" y1="927.4" x2="531.9" y2="941.0" stroke="#000" stroke-width="3" stroke-linecap="butt"/>
<text x="531.9" y="968.6" font-size="29" text-anchor="middle">19:00</text>
<line x1="675.8" y1="927.4" x2="675.8" y2="941.0" stroke="#000" stroke-width="3" stroke-linecap="butt"/>
<text x="675.8" y="968.6" font-size="29" text-anchor="middle">07:00</text>
<line x1="818.0" y1="927.4" x2="818.0" y2="941.0" stroke="#000" stroke-width="3" stroke-linecap="butt"/>
<text x="818.0" y="968.6" font-size="29" text-anchor="middle">19:00</text>
<line x1="961.6" y1="927.4" x2="961.6" y2="941.0" stroke="#000" stroke-width="3" stroke-linecap="butt"/>
<text x="961.6" y="968.6" font-size="29" text-anchor="middle">07:00</text>
<line x1="1103.4" y1="927.4" x2="1103.4" y2="941.0" stroke="#000" stroke-width="3" stroke-linecap="butt"/>
<text x="1103.4" y="968.6" font-size="29" text-anchor="middle">19:00</text>
<line x1="1247.5" y1="927.4" x2="1247.5" y2="941.0" stroke="#000" stroke-width="3" stroke-linecap="butt"/>
<text x="1247.5" y="968.6" font-size="29" text-anchor="middle">07:00</text>
<line x1="1389.0" y1="927.4" x2="1389.0" y2="941.0" stroke="#000" stroke-width="3" stroke-linecap="butt"/>
<text x="1389.0" y="968.6" font-size="29" text-anchor="middle">19:00</text>
<line x1="1531.9" y1="927.4" x2="1531.9" y2="941.0" stroke="#000" stroke-width="3" stroke-linecap="butt"/>
<text x="1531.9" y="968.6" font-size="29" text-anchor="middle">07:00</text>
<line x1="1675.5" y1="927.4" x2="1675.5" y2="941.0" stroke="#000" stroke-width="3" stroke-linecap="butt"/>
<text x="1675.5" y="968.6" font-size="29" text-anchor="middle">19:00</text>
<line x1="1817.3" y1="927.4" x2="1817.3" y2="941.0" stroke="#000" stroke-width="3" stroke-linecap="butt"/>
<text x="1817.3" y="968.6" font-size="29" text-anchor="middle">07:00</text>
<line x1="1960.5" y1="927.4" x2="1960.5" y2="941.0" stroke="#000" stroke-width="3" stroke-linecap="butt"/>
<text x="1960.5" y="968.6" font-size="29" text-anchor="middle">19:00</text>
<rect x="99.8" y="893.2" width="2000.2" height="28" fill="#fff" stroke="#000" stroke-width="2.2"/>
<line x1="389.0" y1="893.2" x2="389.0" y2="921.2" stroke="#000" stroke-width="2.2" stroke-linecap="butt"/>
<line x1="675.8" y1="893.2" x2="675.8" y2="921.2" stroke="#000" stroke-width="2.2" stroke-linecap="butt"/>
<line x1="961.6" y1="893.2" x2="961.6" y2="921.2" stroke="#000" stroke-width="2.2" stroke-linecap="butt"/>
<line x1="1247.5" y1="893.2" x2="1247.5" y2="921.2" stroke="#000" stroke-width="2.2" stroke-linecap="butt"/>
<line x1="1531.9" y1="893.2" x2="1531.9" y2="921.2" stroke="#000" stroke-width="2.2" stroke-linecap="butt"/>
<line x1="1817.3" y1="893.2" x2="1817.3" y2="921.2" stroke="#000" stroke-width="2.2" stroke-linecap="butt"/>
<text x="239.9" y="916.6" font-size="29" text-anchor="middle">Day 1</text>
<text x="529.9" y="916.6" font-size="29" text-anchor="middle">Day 2</text>
<text x="816.2" y="916.6" font-size="29" text-anchor="middle">Day 3</text>
<text x="1102.0" y="916.6" font-size="29" text-anchor="middle">Day 4</text>
<text x="1387.2" y="916.6" font-size="29" text-anchor="middle">Day 5</text>
<text x="1672.1" y="916.6" font-size="29" text-anchor="middle">Day 6</text>
<text x="1956.2" y="916.6" font-size="29" text-anchor="middle">Day 7</text>
<text x="27.5" y="779.0" font-size="28.5" text-anchor="middle" transform="rotate(-90 27.5 779.0)">Body temperature (ºC)</text>
<text x="92.9" y="532.2" font-size="30" text-anchor="middle">6°C</text>
<line x1="95.0" y1="537.0" x2="95.0" y2="585.0" stroke="#000" stroke-width="3.4" stroke-linecap="butt"/>
<polygon points="82,582.5 108.6,582.5 95.3,606.2" fill="#000"/>
<line x1="124.4" y1="547.7" x2="190.0" y2="547.7" stroke="#000" stroke-width="3" stroke-linecap="butt"/>
<circle cx="157.3" cy="547.7" r="7.3" fill="#000" stroke="#000" stroke-width="0.5"/>
<text x="194.0" y="558.4" font-size="29.8" text-anchor="start">WT</text>
<line x1="124.4" y1="578.1" x2="190.0" y2="578.1" stroke="#000" stroke-width="3" stroke-linecap="butt"/>
<circle cx="157.3" cy="578.1" r="5.7" fill="#d65a3a" stroke="#000" stroke-width="2.9"/>
<text x="199.0" y="589.2" font-size="29.7" text-anchor="start">EPAC1PKO</text>
<line x1="102.7" y1="739.0" x2="102.7" y2="780.0" stroke="#000" stroke-width="2.3" stroke-linecap="butt"/><line x1="97.0" y1="739.0" x2="108.5" y2="739.0" stroke="#000" stroke-width="2.8" stroke-linecap="butt"/><line x1="97.0" y1="780.0" x2="108.5" y2="780.0" stroke="#000" stroke-width="2.8" stroke-linecap="butt"/><line x1="114.6" y1="782.6" x2="114.6" y2="815.0" stroke="#000" stroke-width="2.3" stroke-linecap="butt"/><line x1="108.9" y1="782.6" x2="120.4" y2="782.6" stroke="#000" stroke-width="2.8" stroke-linecap="butt"/><line x1="108.9" y1="815.0" x2="120.4" y2="815.0" stroke="#000" stroke-width="2.8" stroke-linecap="butt"/><line x1="126.5" y1="795.4" x2="126.5" y2="831.3" stroke="#000" stroke-width="2.3" stroke-linecap="butt"/><line x1="120.8" y1="795.4" x2="132.3" y2="795.4" stroke="#000" stroke-width="2.8" stroke-linecap="butt"/><line x1="120.8" y1="831.3" x2="132.3" y2="831.3" stroke="#000" stroke-width="2.8" stroke-linecap="butt"/><line x1="138.5" y1="786.9" x2="138.5" y2="836.4" stroke="#000" stroke-width="2.3" stroke-linecap="butt"/><line x1="132.7" y1="786.9" x2="144.2" y2="786.9" stroke="#000" stroke-width="2.8" stroke-linecap="butt"/><line x1="132.7" y1="836.4" x2="144.2" y2="836.4" stroke="#000" stroke-width="2.8" stroke-linecap="butt"/><line x1="150.4" y1="789.4" x2="150.4" y2="828.7" stroke="#000" stroke-width="2.3" stroke-linecap="butt"/><line x1="144.6" y1="789.4" x2="156.1" y2="789.4" stroke="#000" stroke-width="2.8" stroke-linecap="butt"/><line x1="144.6" y1="828.7" x2="156.1" y2="828.7" stroke="#000" stroke-width="2.8" stroke-linecap="butt"/><line x1="162.3" y1="773.2" x2="162.3" y2="831.3" stroke="#000" stroke-width="2.3" stroke-linecap="butt"/><line x1="156.6" y1="773.2" x2="168.1" y2="773.2" stroke="#000" stroke-width="2.8" stroke-linecap="butt"/><line x1="156.6" y1="831.3" x2="168.1" y2="831.3" stroke="#000" stroke-width="2.8" stroke-linecap="butt"/><line x1="174.2" y1="785.2" x2="174.2" y2="814.2" stroke="#000" stroke-width="2.3" stroke-linecap="butt"/><line x1="168.5" y1="785.2" x2="180.0" y2="785.2" stroke="#000" stroke-width="2.8" stroke-linecap="butt"/><line x1="168.5" y1="814.2" x2="180.0" y2="814.2" stroke="#000" stroke-width="2.8" stroke-linecap="butt"/><line x1="186.1" y1="800.5" x2="186.1" y2="831.3" stroke="#000" stroke-width="2.3" stroke-linecap="butt"/><line x1="180.4" y1="800.5" x2="191.9" y2="800.5" stroke="#000" stroke-width="2.8" stroke-linecap="butt"/><line x1="180.4" y1="831.3" x2="191.9" y2="831.3" stroke="#000" stroke-width="2.8" stroke-linecap="butt"/><line x1="198.1" y1="809.9" x2="198.1" y2="845.8" stroke="#000" stroke-width="2.3" stroke-linecap="butt"/><line x1="192.3" y1="809.9" x2="203.8" y2="809.9" stroke="#000" stroke-width="2.8" stroke-linecap="butt"/><line x1="192.3" y1="845.8" x2="203.8" y2="845.8" stroke="#000" stroke-width="2.8" stroke-linecap="butt"/><line x1="210.0" y1="792.0" x2="210.0" y2="821.0" stroke="#000" stroke-width="2.3" stroke-linecap="butt"/><line x1="204.2" y1="792.0" x2="215.7" y2="792.0" stroke="#000" stroke-width="2.8" stroke-linecap="butt"/><line x1="204.2" y1="821.0" x2="215.7" y2="821.0" stroke="#000" stroke-width="2.8" stroke-linecap="butt"/><line x1="221.9" y1="793.7" x2="221.9" y2="822.7" stroke="#000" stroke-width="2.3" stroke-linecap="butt"/><line x1="216.2" y1="793.7" x2="227.7" y2="793.7" stroke="#000" stroke-width="2.8" stroke-linecap="butt"/><line x1="216.2" y1="822.7" x2="227.7" y2="822.7" stroke="#000" stroke-width="2.8" stroke-linecap="butt"/><line x1="233.8" y1="777.5" x2="233.8" y2="806.5" stroke="#000" stroke-width="2.3" stroke-linecap="butt"/><line x1="228.1" y1="777.5" x2="239.6" y2="777.5" stroke="#000" stroke-width="2.8" stroke-linecap="butt"/><line x1="228.1" y1="806.5" x2="239.6" y2="806.5" stroke="#000" stroke-width="2.8" stroke-linecap="butt"/><line x1="245.7" y1="761.2" x2="245.7" y2="795.4" stroke="#000" stroke-width="2.3" stroke-linecap="butt"/><line x1="240.0" y1="761.2" x2="251.5" y2="761.2" stroke="#000" stroke-width="2.8" stroke-linecap="butt"/><line x1="240.0" y1="795.4" x2="251.5" y2="795.4" stroke="#000" stroke-width="2.8" stroke-linecap="butt"/><line x1="257.7" y1="736.5" x2="257.7" y2="768.9" stroke="#000" stroke-width="2.3" stroke-linecap="butt"/><line x1="251.9" y1="736.5" x2="263.4" y2="736.5" stroke="#000" stroke-width="2.8" stroke-linecap="butt"/><line x1="251.9" y1="768.9" x2="263.4" y2="768.9" stroke="#000" stroke-width="2.8" stroke-linecap="butt"/><line x1="269.6" y1="749.3" x2="269.6" y2="781.7" stroke="#000" stroke-width="2.3" stroke-linecap="butt"/><line x1="263.8" y1="749.3" x2="275.3" y2="749.3" stroke="#000" stroke-width="2.8" stroke-linecap="butt"/><line x1="263.8" y1="781.7" x2="275.3" y2="781.7" stroke="#000" stroke-width="2.8" stroke-linecap="butt"/><line x1="281.5" y1="784.3" x2="281.5" y2="813.3" stroke="#000" stroke-width="2.3" stroke-linecap="butt"/><line x1="275.8" y1="784.3" x2="287.2" y2="784.3" stroke="#000" stroke-width="2.8" stroke-linecap="butt"/><line x1="275.8" y1="813.3" x2="287.2" y2="813.3" stroke="#000" stroke-width="2.8" stroke-linecap="butt"/><line x1="293.4" y1="792.0" x2="293.4" y2="833.0" stroke="#000" stroke-width="2.3" stroke-linecap="butt"/><line x1="287.7" y1="792.0" x2="299.2" y2="792.0" stroke="#000" stroke-width="2.8" stroke-linecap="butt"/><line x1="287.7" y1="833.0" x2="299.2" y2="833.0" stroke="#000" stroke-width="2.8" stroke-linecap="butt"/><line x1="305.3" y1="788.6" x2="305.3" y2="819.3" stroke="#000" stroke-width="2.3" stroke-linecap="butt"/><line x1="299.6" y1="788.6" x2="311.1" y2="788.6" stroke="#000" stroke-width="2.8" stroke-linecap="butt"/><line x1="299.6" y1="819.3" x2="311.1" y2="819.3" stroke="#000" stroke-width="2.8" stroke-linecap="butt"/><line x1="317.3" y1="786.9" x2="317.3" y2="833.0" stroke="#000" stroke-width="2.3" stroke-linecap="butt"/><line x1="311.5" y1="786.9" x2="323.0" y2="786.9" stroke="#000" stroke-width="2.8" stroke-linecap="butt"/><line x1="311.5" y1="833.0" x2="323.0" y2="833.0" stroke="#000" stroke-width="2.8" stroke-linecap="butt"/><line x1="329.2" y1="782.6" x2="329.2" y2="816.7" stroke="#000" stroke-width="2.3" stroke-linecap="butt"/><line x1="323.4" y1="782.6" x2="334.9" y2="782.6" stroke="#000" stroke-width="2.8" stroke-linecap="butt"/><line x1="323.4" y1="816.7" x2="334.9" y2="816.7" stroke="#000" stroke-width="2.8" stroke-linecap="butt"/><line x1="341.1" y1="782.6" x2="341.1" y2="815.0" stroke="#000" stroke-width="2.3" stroke-linecap="butt"/><line x1="335.4" y1="782.6" x2="346.9" y2="782.6" stroke="#000" stroke-width="2.8" stroke-linecap="butt"/><line x1="335.4" y1="815.0" x2="346.9" y2="815.0" stroke="#000" stroke-width="2.8" stroke-linecap="butt"/><line x1="353.0" y1="773.2" x2="353.0" y2="797.1" stroke="#000" stroke-width="2.3" stroke-linecap="butt"/><line x1="347.3" y1="773.2" x2="358.8" y2="773.2" stroke="#000" stroke-width="2.8" stroke-linecap="butt"/><line x1="347.3" y1="797.1" x2="358.8" y2="797.1" stroke="#000" stroke-width="2.8" stroke-linecap="butt"/><line x1="364.9" y1="768.9" x2="364.9" y2="801.4" stroke="#000" stroke-width="2.3" stroke-linecap="butt"/><line x1="359.2" y1="768.9" x2="370.7" y2="768.9" stroke="#000" stroke-width="2.8" stroke-linecap="butt"/><line x1="359.2" y1="801.4" x2="370.7" y2="801.4" stroke="#000" stroke-width="2.8" stroke-linecap="butt"/><line x1="376.9" y1="744.2" x2="376.9" y2="781.1" stroke="#000" stroke-width="2.3" stroke-linecap="butt"/><line x1="371.1" y1="744.2" x2="382.6" y2="744.2" stroke="#000" stroke-width="2.8" stroke-linecap="butt"/><line x1="371.1" y1="781.1" x2="382.6" y2="781.1" stroke="#000" stroke-width="2.8" stroke-linecap="butt"/><line x1="388.8" y1="762.1" x2="388.8" y2="782.6" stroke="#000" stroke-width="2.3" stroke-linecap="butt"/><line x1="383.0" y1="762.1" x2="394.5" y2="762.1" stroke="#000" stroke-width="2.8" stroke-linecap="butt"/><line x1="383.0" y1="782.6" x2="394.5" y2="782.6" stroke="#000" stroke-width="2.8" stroke-linecap="butt"/><line x1="400.7" y1="769.8" x2="400.7" y2="790.3" stroke="#000" stroke-width="2.3" stroke-linecap="butt"/><line x1="394.9" y1="769.8" x2="406.4" y2="769.8" stroke="#000" stroke-width="2.8" stroke-linecap="butt"/><line x1="394.9" y1="790.3" x2="406.4" y2="790.3" stroke="#000" stroke-width="2.8" stroke-linecap="butt"/><line x1="412.6" y1="787.7" x2="412.6" y2="820.2" stroke="#000" stroke-width="2.3" stroke-linecap="butt"/><line x1="406.9" y1="787.7" x2="418.4" y2="787.7" stroke="#000" stroke-width="2.8" stroke-linecap="butt"/><line x1="406.9" y1="820.2" x2="418.4" y2="820.2" stroke="#000" stroke-width="2.8" stroke-linecap="butt"/><line x1="424.5" y1="798.8" x2="424.5" y2="817.6" stroke="#000" stroke-width="2.3" stroke-linecap="butt"/><line x1="418.8" y1="798.8" x2="430.3" y2="798.8" stroke="#000" stroke-width="2.8" stroke-linecap="butt"/><line x1="418.8" y1="817.6" x2="430.3" y2="817.6" stroke="#000" stroke-width="2.8" stroke-linecap="butt"/><line x1="436.5" y1="769.8" x2="436.5" y2="812.5" stroke="#000" stroke-width="2.3" stroke-linecap="butt"/><line x1="430.7" y1="769.8" x2="442.2" y2="769.8" stroke="#000" stroke-width="2.8" stroke-linecap="butt"/><line x1="430.7" y1="812.5" x2="442.2" y2="812.5" stroke="#000" stroke-width="2.8" stroke-linecap="butt"/><line x1="448.4" y1="768.9" x2="448.4" y2="801.4" stroke="#000" stroke-width="2.3" stroke-linecap="butt"/><line x1="442.6" y1="768.9" x2="454.1" y2="768.9" stroke="#000" stroke-width="2.8" stroke-linecap="butt"/><line x1="442.6" y1="801.4" x2="454.1" y2="801.4" stroke="#000" stroke-width="2.8" stroke-linecap="butt"/><line x1="460.3" y1="800.5" x2="460.3" y2="819.3" stroke="#000" stroke-width="2.3" stroke-linecap="butt"/><line x1="454.6" y1="800.5" x2="466.1" y2="800.5" stroke="#000" stroke-width="2.8" stroke-linecap="butt"/><line x1="454.6" y1="819.3" x2="466.1" y2="819.3" stroke="#000" stroke-width="2.8" stroke-linecap="butt"/><line x1="472.2" y1="781.7" x2="472.2" y2="817.6" stroke="#000" stroke-width="2.3" stroke-linecap="butt"/><line x1="466.5" y1="781.7" x2="478.0" y2="781.7" stroke="#000" stroke-width="2.8" stroke-linecap="butt"/><line x1="466.5" y1="817.6" x2="478.0" y2="817.6" stroke="#000" stroke-width="2.8" stroke-linecap="butt"/><line x1="484.1" y1="809.9" x2="484.1" y2="827.0" stroke="#000" stroke-width="2.3" stroke-linecap="butt"/><line x1="478.4" y1="809.9" x2="489.9" y2="809.9" stroke="#000" stroke-width="2.8" stroke-linecap="butt"/><line x1="478.4" y1="827.0" x2="489.9" y2="827.0" stroke="#000" stroke-width="2.8" stroke-linecap="butt"/><line x1="496.1" y1="795.4" x2="496.1" y2="810.8" stroke="#000" stroke-width="2.3" stroke-linecap="butt"/><line x1="490.3" y1="795.4" x2="501.8" y2="795.4" stroke="#000" stroke-width="2.8" stroke-linecap="butt"/><line x1="490.3" y1="810.8" x2="501.8" y2="810.8" stroke="#000" stroke-width="2.8" stroke-linecap="butt"/><line x1="508.0" y1="774.9" x2="508.0" y2="802.2" stroke="#000" stroke-width="2.3" stroke-linecap="butt"/><line x1="502.2" y1="774.9" x2="513.7" y2="774.9" stroke="#000" stroke-width="2.8" stroke-linecap="butt"/><line x1="502.2" y1="802.2" x2="513.7" y2="802.2" stroke="#000" stroke-width="2.8" stroke-linecap="butt"/><line x1="519.9" y1="757.8" x2="519.9" y2="795.4" stroke="#000" stroke-width="2.3" stroke-linecap="butt"/><line x1="514.1" y1="757.8" x2="525.6" y2="757.8" stroke="#000" stroke-width="2.8" stroke-linecap="butt"/><line x1="514.1" y1="795.4" x2="525.6" y2="795.4" stroke="#000" stroke-width="2.8" stroke-linecap="butt"/><line x1="531.8" y1="728.8" x2="531.8" y2="778.3" stroke="#000" stroke-width="2.3" stroke-linecap="butt"/><line x1="526.1" y1="728.8" x2="537.6" y2="728.8" stroke="#000" stroke-width="2.8" stroke-linecap="butt"/><line x1="526.1" y1="778.3" x2="537.6" y2="778.3" stroke="#000" stroke-width="2.8" stroke-linecap="butt"/><line x1="543.7" y1="715.1" x2="543.7" y2="756.1" stroke="#000" stroke-width="2.3" stroke-linecap="butt"/><line x1="538.0" y1="715.1" x2="549.5" y2="715.1" stroke="#000" stroke-width="2.8" stroke-linecap="butt"/><line x1="538.0" y1="756.1" x2="549.5" y2="756.1" stroke="#000" stroke-width="2.8" stroke-linecap="butt"/><line x1="555.7" y1="718.6" x2="555.7" y2="757.8" stroke="#000" stroke-width="2.3" stroke-linecap="butt"/><line x1="549.9" y1="718.6" x2="561.4" y2="718.6" stroke="#000" stroke-width="2.8" stroke-linecap="butt"/><line x1="549.9" y1="757.8" x2="561.4" y2="757.8" stroke="#000" stroke-width="2.8" stroke-linecap="butt"/><line x1="567.6" y1="733.9" x2="567.6" y2="773.2" stroke="#000" stroke-width="2.3" stroke-linecap="butt"/><line x1="561.8" y1="733.9" x2="573.3" y2="733.9" stroke="#000" stroke-width="2.8" stroke-linecap="butt"/><line x1="561.8" y1="773.2" x2="573.3" y2="773.2" stroke="#000" stroke-width="2.8" stroke-linecap="butt"/><line x1="579.5" y1="749.3" x2="579.5" y2="766.4" stroke="#000" stroke-width="2.3" stroke-linecap="butt"/><line x1="573.8" y1="749.3" x2="585.2" y2="749.3" stroke="#000" stroke-width="2.8" stroke-linecap="butt"/><line x1="573.8" y1="766.4" x2="585.2" y2="766.4" stroke="#000" stroke-width="2.8" stroke-linecap="butt"/><line x1="591.4" y1="739.9" x2="591.4" y2="786.0" stroke="#000" stroke-width="2.3" stroke-linecap="butt"/><line x1="585.7" y1="739.9" x2="597.2" y2="739.9" stroke="#000" stroke-width="2.8" stroke-linecap="butt"/><line x1="585.7" y1="786.0" x2="597.2" y2="786.0" stroke="#000" stroke-width="2.8" stroke-linecap="butt"/><line x1="603.3" y1="739.0" x2="603.3" y2="803.9" stroke="#000" stroke-width="2.3" stroke-linecap="butt"/><line x1="597.6" y1="739.0" x2="609.1" y2="739.0" stroke="#000" stroke-width="2.8" stroke-linecap="butt"/><line x1="597.6" y1="803.9" x2="609.1" y2="803.9" stroke="#000" stroke-width="2.8" stroke-linecap="butt"/><line x1="615.3" y1="760.4" x2="615.3" y2="803.1" stroke="#000" stroke-width="2.3" stroke-linecap="butt"/><line x1="609.5" y1="760.4" x2="621.0" y2="760.4" stroke="#000" stroke-width="2.8" stroke-linecap="butt"/><line x1="609.5" y1="803.1" x2="621.0" y2="803.1" stroke="#000" stroke-width="2.8" stroke-linecap="butt"/><line x1="627.2" y1="751.9" x2="627.2" y2="794.5" stroke="#000" stroke-width="2.3" stroke-linecap="butt"/><line x1="621.4" y1="751.9" x2="632.9" y2="751.9" stroke="#000" stroke-width="2.8" stroke-linecap="butt"/><line x1="621.4" y1="794.5" x2="632.9" y2="794.5" stroke="#000" stroke-width="2.8" stroke-linecap="butt"/><line x1="639.1" y1="747.6" x2="639.1" y2="792.0" stroke="#000" stroke-width="2.3" stroke-linecap="butt"/><line x1="633.4" y1="747.6" x2="644.9" y2="747.6" stroke="#000" stroke-width="2.8" stroke-linecap="butt"/><line x1="633.4" y1="792.0" x2="644.9" y2="792.0" stroke="#000" stroke-width="2.8" stroke-linecap="butt"/><line x1="651.0" y1="733.1" x2="651.0" y2="782.6" stroke="#000" stroke-width="2.3" stroke-linecap="butt"/><line x1="645.3" y1="733.1" x2="656.8" y2="733.1" stroke="#000" stroke-width="2.8" stroke-linecap="butt"/><line x1="645.3" y1="782.6" x2="656.8" y2="782.6" stroke="#000" stroke-width="2.8" stroke-linecap="butt"/><line x1="662.9" y1="719.4" x2="662.9" y2="765.5" stroke="#000" stroke-width="2.3" stroke-linecap="butt"/><line x1="657.2" y1="719.4" x2="668.7" y2="719.4" stroke="#000" stroke-width="2.8" stroke-linecap="butt"/><line x1="657.2" y1="765.5" x2="668.7" y2="765.5" stroke="#000" stroke-width="2.8" stroke-linecap="butt"/><line x1="674.9" y1="774.9" x2="674.9" y2="797.1" stroke="#000" stroke-width="2.3" stroke-linecap="butt"/><line x1="669.1" y1="774.9" x2="680.6" y2="774.9" stroke="#000" stroke-width="2.8" stroke-linecap="butt"/><line x1="669.1" y1="797.1" x2="680.6" y2="797.1" stroke="#000" stroke-width="2.8" stroke-linecap="butt"/><line x1="686.8" y1="791.1" x2="686.8" y2="806.5" stroke="#000" stroke-width="2.3" stroke-linecap="butt"/><line x1="681.0" y1="791.1" x2="692.5" y2="791.1" stroke="#000" stroke-width="2.8" stroke-linecap="butt"/><line x1="681.0" y1="806.5" x2="692.5" y2="806.5" stroke="#000" stroke-width="2.8" stroke-linecap="butt"/><line x1="698.7" y1="792.0" x2="698.7" y2="809.1" stroke="#000" stroke-width="2.3" stroke-linecap="butt"/><line x1="693.0" y1="792.0" x2="704.5" y2="792.0" stroke="#000" stroke-width="2.8" stroke-linecap="butt"/><line x1="693.0" y1="809.1" x2="704.5" y2="809.1" stroke="#000" stroke-width="2.8" stroke-linecap="butt"/><line x1="710.6" y1="792.0" x2="710.6" y2="809.1" stroke="#000" stroke-width="2.3" stroke-linecap="butt"/><line x1="704.9" y1="792.0" x2="716.4" y2="792.0" stroke="#000" stroke-width="2.8" stroke-linecap="butt"/><line x1="704.9" y1="809.1" x2="716.4" y2="809.1" stroke="#000" stroke-width="2.8" stroke-linecap="butt"/><line x1="722.5" y1="794.5" x2="722.5" y2="820.2" stroke="#000" stroke-width="2.3" stroke-linecap="butt"/><line x1="716.8" y1="794.5" x2="728.3" y2="794.5" stroke="#000" stroke-width="2.8" stroke-linecap="butt"/><line x1="716.8" y1="820.2" x2="728.3" y2="820.2" stroke="#000" stroke-width="2.8" stroke-linecap="butt"/><line x1="734.5" y1="794.9" x2="734.5" y2="807.9" stroke="#000" stroke-width="2.3" stroke-linecap="butt"/><line x1="728.7" y1="794.9" x2="740.2" y2="794.9" stroke="#000" stroke-width="2.8" stroke-linecap="butt"/><line x1="728.7" y1="807.9" x2="740.2" y2="807.9" stroke="#000" stroke-width="2.8" stroke-linecap="butt"/><line x1="746.4" y1="809.4" x2="746.4" y2="822.4" stroke="#000" stroke-width="2.3" stroke-linecap="butt"/><line x1="740.6" y1="809.4" x2="752.1" y2="809.4" stroke="#000" stroke-width="2.8" stroke-linecap="butt"/><line x1="740.6" y1="822.4" x2="752.1" y2="822.4" stroke="#000" stroke-width="2.8" stroke-linecap="butt"/><line x1="758.3" y1="781.7" x2="758.3" y2="805.6" stroke="#000" stroke-width="2.3" stroke-linecap="butt"/><line x1="752.6" y1="781.7" x2="764.1" y2="781.7" stroke="#000" stroke-width="2.8" stroke-linecap="butt"/><line x1="752.6" y1="805.6" x2="764.1" y2="805.6" stroke="#000" stroke-width="2.8" stroke-linecap="butt"/><line x1="770.2" y1="780.9" x2="770.2" y2="804.8" stroke="#000" stroke-width="2.3" stroke-linecap="butt"/><line x1="764.5" y1="780.9" x2="776.0" y2="780.9" stroke="#000" stroke-width="2.8" stroke-linecap="butt"/><line x1="764.5" y1="804.8" x2="776.0" y2="804.8" stroke="#000" stroke-width="2.8" stroke-linecap="butt"/><line x1="782.1" y1="800.5" x2="782.1" y2="831.3" stroke="#000" stroke-width="2.3" stroke-linecap="butt"/><line x1="776.4" y1="800.5" x2="787.9" y2="800.5" stroke="#000" stroke-width="2.8" stroke-linecap="butt"/><line x1="776.4" y1="831.3" x2="787.9" y2="831.3" stroke="#000" stroke-width="2.8" stroke-linecap="butt"/><line x1="794.1" y1="793.7" x2="794.1" y2="824.4" stroke="#000" stroke-width="2.3" stroke-linecap="butt"/><line x1="788.3" y1="793.7" x2="799.8" y2="793.7" stroke="#000" stroke-width="2.8" stroke-linecap="butt"/><line x1="788.3" y1="824.4" x2="799.8" y2="824.4" stroke="#000" stroke-width="2.8" stroke-linecap="butt"/><line x1="806.0" y1="774.1" x2="806.0" y2="816.7" stroke="#000" stroke-width="2.3" stroke-linecap="butt"/><line x1="800.2" y1="774.1" x2="811.7" y2="774.1" stroke="#000" stroke-width="2.8" stroke-linecap="butt"/><line x1="800.2" y1="816.7" x2="811.7" y2="816.7" stroke="#000" stroke-width="2.8" stroke-linecap="butt"/><line x1="817.9" y1="753.6" x2="817.9" y2="782.6" stroke="#000" stroke-width="2.3" stroke-linecap="butt"/><line x1="812.2" y1="753.6" x2="823.7" y2="753.6" stroke="#000" stroke-width="2.8" stroke-linecap="butt"/><line x1="812.2" y1="782.6" x2="823.7" y2="782.6" stroke="#000" stroke-width="2.8" stroke-linecap="butt"/><line x1="829.8" y1="737.3" x2="829.8" y2="771.5" stroke="#000" stroke-width="2.3" stroke-linecap="butt"/><line x1="824.1" y1="737.3" x2="835.6" y2="737.3" stroke="#000" stroke-width="2.8" stroke-linecap="butt"/><line x1="824.1" y1="771.5" x2="835.6" y2="771.5" stroke="#000" stroke-width="2.8" stroke-linecap="butt"/><line x1="841.7" y1="744.2" x2="841.7" y2="771.5" stroke="#000" stroke-width="2.3" stroke-linecap="butt"/><line x1="836.0" y1="744.2" x2="847.5" y2="744.2" stroke="#000" stroke-width="2.8" stroke-linecap="butt"/><line x1="836.0" y1="771.5" x2="847.5" y2="771.5" stroke="#000" stroke-width="2.8" stroke-linecap="butt"/><line x1="853.7" y1="749.3" x2="853.7" y2="776.6" stroke="#000" stroke-width="2.3" stroke-linecap="butt"/><line x1="847.9" y1="749.3" x2="859.4" y2="749.3" stroke="#000" stroke-width="2.8" stroke-linecap="butt"/><line x1="847.9" y1="776.6" x2="859.4" y2="776.6" stroke="#000" stroke-width="2.8" stroke-linecap="butt"/><line x1="865.6" y1="751.0" x2="865.6" y2="788.6" stroke="#000" stroke-width="2.3" stroke-linecap="butt"/><line x1="859.8" y1="751.0" x2="871.3" y2="751.0" stroke="#000" stroke-width="2.8" stroke-linecap="butt"/><line x1="859.8" y1="788.6" x2="871.3" y2="788.6" stroke="#000" stroke-width="2.8" stroke-linecap="butt"/><line x1="877.5" y1="766.4" x2="877.5" y2="800.5" stroke="#000" stroke-width="2.3" stroke-linecap="butt"/><line x1="871.8" y1="766.4" x2="883.2" y2="766.4" stroke="#000" stroke-width="2.8" stroke-linecap="butt"/><line x1="871.8" y1="800.5" x2="883.2" y2="800.5" stroke="#000" stroke-width="2.8" stroke-linecap="butt"/><line x1="889.4" y1="771.5" x2="889.4" y2="785.2" stroke="#000" stroke-width="2.3" stroke-linecap="butt"/><line x1="883.7" y1="771.5" x2="895.2" y2="771.5" stroke="#000" stroke-width="2.8" stroke-linecap="butt"/><line x1="883.7" y1="785.2" x2="895.2" y2="785.2" stroke="#000" stroke-width="2.8" stroke-linecap="butt"/><line x1="901.3" y1="750.1" x2="901.3" y2="775.8" stroke="#000" stroke-width="2.3" stroke-linecap="butt"/><line x1="895.6" y1="750.1" x2="907.1" y2="750.1" stroke="#000" stroke-width="2.8" stroke-linecap="butt"/><line x1="895.6" y1="775.8" x2="907.1" y2="775.8" stroke="#000" stroke-width="2.8" stroke-linecap="butt"/><line x1="913.3" y1="750.1" x2="913.3" y2="780.9" stroke="#000" stroke-width="2.3" stroke-linecap="butt"/><line x1="907.5" y1="750.1" x2="919.0" y2="750.1" stroke="#000" stroke-width="2.8" stroke-linecap="butt"/><line x1="907.5" y1="780.9" x2="919.0" y2="780.9" stroke="#000" stroke-width="2.8" stroke-linecap="butt"/><line x1="925.2" y1="745.0" x2="925.2" y2="774.1" stroke="#000" stroke-width="2.3" stroke-linecap="butt"/><line x1="919.4" y1="745.0" x2="930.9" y2="745.0" stroke="#000" stroke-width="2.8" stroke-linecap="butt"/><line x1="919.4" y1="774.1" x2="930.9" y2="774.1" stroke="#000" stroke-width="2.8" stroke-linecap="butt"/><line x1="937.1" y1="745.9" x2="937.1" y2="769.8" stroke="#000" stroke-width="2.3" stroke-linecap="butt"/><line x1="931.4" y1="745.9" x2="942.9" y2="745.9" stroke="#000" stroke-width="2.8" stroke-linecap="butt"/><line x1="931.4" y1="769.8" x2="942.9" y2="769.8" stroke="#000" stroke-width="2.8" stroke-linecap="butt"/><line x1="949.0" y1="734.8" x2="949.0" y2="755.3" stroke="#000" stroke-width="2.3" stroke-linecap="butt"/><line x1="943.3" y1="734.8" x2="954.8" y2="734.8" stroke="#000" stroke-width="2.8" stroke-linecap="butt"/><line x1="943.3" y1="755.3" x2="954.8" y2="755.3" stroke="#000" stroke-width="2.8" stroke-linecap="butt"/><line x1="960.9" y1="748.4" x2="960.9" y2="777.5" stroke="#000" stroke-width="2.3" stroke-linecap="butt"/><line x1="955.2" y1="748.4" x2="966.7" y2="748.4" stroke="#000" stroke-width="2.8" stroke-linecap="butt"/><line x1="955.2" y1="777.5" x2="966.7" y2="777.5" stroke="#000" stroke-width="2.8" stroke-linecap="butt"/><line x1="972.9" y1="763.0" x2="972.9" y2="802.2" stroke="#000" stroke-width="2.3" stroke-linecap="butt"/><line x1="967.1" y1="763.0" x2="978.6" y2="763.0" stroke="#000" stroke-width="2.8" stroke-linecap="butt"/><line x1="967.1" y1="802.2" x2="978.6" y2="802.2" stroke="#000" stroke-width="2.8" stroke-linecap="butt"/><line x1="984.8" y1="786.9" x2="984.8" y2="817.6" stroke="#000" stroke-width="2.3" stroke-linecap="butt"/><line x1="979.0" y1="786.9" x2="990.5" y2="786.9" stroke="#000" stroke-width="2.8" stroke-linecap="butt"/><line x1="979.0" y1="817.6" x2="990.5" y2="817.6" stroke="#000" stroke-width="2.8" stroke-linecap="butt"/><line x1="996.7" y1="776.6" x2="996.7" y2="822.7" stroke="#000" stroke-width="2.3" stroke-linecap="butt"/><line x1="991.0" y1="776.6" x2="1002.5" y2="776.6" stroke="#000" stroke-width="2.8" stroke-linecap="butt"/><line x1="991.0" y1="822.7" x2="1002.5" y2="822.7" stroke="#000" stroke-width="2.8" stroke-linecap="butt"/><line x1="1008.6" y1="784.3" x2="1008.6" y2="806.5" stroke="#000" stroke-width="2.3" stroke-linecap="butt"/><line x1="1002.9" y1="784.3" x2="1014.4" y2="784.3" stroke="#000" stroke-width="2.8" stroke-linecap="butt"/><line x1="1002.9" y1="806.5" x2="1014.4" y2="806.5" stroke="#000" stroke-width="2.8" stroke-linecap="butt"/><line x1="1020.5" y1="802.2" x2="1020.5" y2="815.9" stroke="#000" stroke-width="2.3" stroke-linecap="butt"/><line x1="1014.8" y1="802.2" x2="1026.3" y2="802.2" stroke="#000" stroke-width="2.8" stroke-linecap="butt"/><line x1="1014.8" y1="815.9" x2="1026.3" y2="815.9" stroke="#000" stroke-width="2.8" stroke-linecap="butt"/><line x1="1032.5" y1="790.3" x2="1032.5" y2="803.9" stroke="#000" stroke-width="2.3" stroke-linecap="butt"/><line x1="1026.7" y1="790.3" x2="1038.2" y2="790.3" stroke="#000" stroke-width="2.8" stroke-linecap="butt"/><line x1="1026.7" y1="803.9" x2="1038.2" y2="803.9" stroke="#000" stroke-width="2.8" stroke-linecap="butt"/><line x1="1044.4" y1="803.4" x2="1044.4" y2="816.4" stroke="#000" stroke-width="2.3" stroke-linecap="butt"/><line x1="1038.6" y1="803.4" x2="1050.1" y2="803.4" stroke="#000" stroke-width="2.8" stroke-linecap="butt"/><line x1="1038.6" y1="816.4" x2="1050.1" y2="816.4" stroke="#000" stroke-width="2.8" stroke-linecap="butt"/><line x1="1056.3" y1="806.5" x2="1056.3" y2="821.9" stroke="#000" stroke-width="2.3" stroke-linecap="butt"/><line x1="1050.5" y1="806.5" x2="1062.0" y2="806.5" stroke="#000" stroke-width="2.8" stroke-linecap="butt"/><line x1="1050.5" y1="821.9" x2="1062.0" y2="821.9" stroke="#000" stroke-width="2.8" stroke-linecap="butt"/><line x1="1068.2" y1="780.9" x2="1068.2" y2="808.2" stroke="#000" stroke-width="2.3" stroke-linecap="butt"/><line x1="1062.5" y1="780.9" x2="1074.0" y2="780.9" stroke="#000" stroke-width="2.8" stroke-linecap="butt"/><line x1="1062.5" y1="808.2" x2="1074.0" y2="808.2" stroke="#000" stroke-width="2.8" stroke-linecap="butt"/><line x1="1080.1" y1="787.7" x2="1080.1" y2="818.4" stroke="#000" stroke-width="2.3" stroke-linecap="butt"/><line x1="1074.4" y1="787.7" x2="1085.9" y2="787.7" stroke="#000" stroke-width="2.8" stroke-linecap="butt"/><line x1="1074.4" y1="818.4" x2="1085.9" y2="818.4" stroke="#000" stroke-width="2.8" stroke-linecap="butt"/><line x1="1092.1" y1="778.7" x2="1092.1" y2="791.6" stroke="#000" stroke-width="2.3" stroke-linecap="butt"/><line x1="1086.3" y1="778.7" x2="1097.8" y2="778.7" stroke="#000" stroke-width="2.8" stroke-linecap="butt"/><line x1="1086.3" y1="791.6" x2="1097.8" y2="791.6" stroke="#000" stroke-width="2.8" stroke-linecap="butt"/><line x1="1104.0" y1="729.7" x2="1104.0" y2="743.3" stroke="#000" stroke-width="2.3" stroke-linecap="butt"/><line x1="1098.2" y1="729.7" x2="1109.7" y2="729.7" stroke="#000" stroke-width="2.8" stroke-linecap="butt"/><line x1="1098.2" y1="743.3" x2="1109.7" y2="743.3" stroke="#000" stroke-width="2.8" stroke-linecap="butt"/><line x1="1115.9" y1="723.7" x2="1115.9" y2="747.6" stroke="#000" stroke-width="2.3" stroke-linecap="butt"/><line x1="1110.2" y1="723.7" x2="1121.7" y2="723.7" stroke="#000" stroke-width="2.8" stroke-linecap="butt"/><line x1="1110.2" y1="747.6" x2="1121.7" y2="747.6" stroke="#000" stroke-width="2.8" stroke-linecap="butt"/><line x1="1127.8" y1="711.7" x2="1127.8" y2="744.2" stroke="#000" stroke-width="2.3" stroke-linecap="butt"/><line x1="1122.1" y1="711.7" x2="1133.6" y2="711.7" stroke="#000" stroke-width="2.8" stroke-linecap="butt"/><line x1="1122.1" y1="744.2" x2="1133.6" y2="744.2" stroke="#000" stroke-width="2.8" stroke-linecap="butt"/><line x1="1139.7" y1="715.5" x2="1139.7" y2="728.5" stroke="#000" stroke-width="2.3" stroke-linecap="butt"/><line x1="1134.0" y1="715.5" x2="1145.5" y2="715.5" stroke="#000" stroke-width="2.8" stroke-linecap="butt"/><line x1="1134.0" y1="728.5" x2="1145.5" y2="728.5" stroke="#000" stroke-width="2.8" stroke-linecap="butt"/><line x1="1151.7" y1="725.4" x2="1151.7" y2="744.2" stroke="#000" stroke-width="2.3" stroke-linecap="butt"/><line x1="1145.9" y1="725.4" x2="1157.4" y2="725.4" stroke="#000" stroke-width="2.8" stroke-linecap="butt"/><line x1="1145.9" y1="744.2" x2="1157.4" y2="744.2" stroke="#000" stroke-width="2.8" stroke-linecap="butt"/><line x1="1163.6" y1="728.8" x2="1163.6" y2="764.7" stroke="#000" stroke-width="2.3" stroke-linecap="butt"/><line x1="1157.8" y1="728.8" x2="1169.3" y2="728.8" stroke="#000" stroke-width="2.8" stroke-linecap="butt"/><line x1="1157.8" y1="764.7" x2="1169.3" y2="764.7" stroke="#000" stroke-width="2.8" stroke-linecap="butt"/><line x1="1175.5" y1="739.0" x2="1175.5" y2="757.8" stroke="#000" stroke-width="2.3" stroke-linecap="butt"/><line x1="1169.8" y1="739.0" x2="1181.2" y2="739.0" stroke="#000" stroke-width="2.8" stroke-linecap="butt"/><line x1="1169.8" y1="757.8" x2="1181.2" y2="757.8" stroke="#000" stroke-width="2.8" stroke-linecap="butt"/><line x1="1187.4" y1="741.6" x2="1187.4" y2="757.0" stroke="#000" stroke-width="2.3" stroke-linecap="butt"/><line x1="1181.7" y1="741.6" x2="1193.2" y2="741.6" stroke="#000" stroke-width="2.8" stroke-linecap="butt"/><line x1="1181.7" y1="757.0" x2="1193.2" y2="757.0" stroke="#000" stroke-width="2.8" stroke-linecap="butt"/><line x1="1199.3" y1="747.9" x2="1199.3" y2="760.9" stroke="#000" stroke-width="2.3" stroke-linecap="butt"/><line x1="1193.6" y1="747.9" x2="1205.1" y2="747.9" stroke="#000" stroke-width="2.8" stroke-linecap="butt"/><line x1="1193.6" y1="760.9" x2="1205.1" y2="760.9" stroke="#000" stroke-width="2.8" stroke-linecap="butt"/><line x1="1211.3" y1="728.8" x2="1211.3" y2="745.9" stroke="#000" stroke-width="2.3" stroke-linecap="butt"/><line x1="1205.5" y1="728.8" x2="1217.0" y2="728.8" stroke="#000" stroke-width="2.8" stroke-linecap="butt"/><line x1="1205.5" y1="745.9" x2="1217.0" y2="745.9" stroke="#000" stroke-width="2.8" stroke-linecap="butt"/><line x1="1223.2" y1="722.8" x2="1223.2" y2="748.4" stroke="#000" stroke-width="2.3" stroke-linecap="butt"/><line x1="1217.4" y1="722.8" x2="1228.9" y2="722.8" stroke="#000" stroke-width="2.8" stroke-linecap="butt"/><line x1="1217.4" y1="748.4" x2="1228.9" y2="748.4" stroke="#000" stroke-width="2.8" stroke-linecap="butt"/><line x1="1235.1" y1="704.0" x2="1235.1" y2="733.1" stroke="#000" stroke-width="2.3" stroke-linecap="butt"/><line x1="1229.4" y1="704.0" x2="1240.9" y2="704.0" stroke="#000" stroke-width="2.8" stroke-linecap="butt"/><line x1="1229.4" y1="733.1" x2="1240.9" y2="733.1" stroke="#000" stroke-width="2.8" stroke-linecap="butt"/><line x1="1247.0" y1="753.6" x2="1247.0" y2="772.3" stroke="#000" stroke-width="2.3" stroke-linecap="butt"/><line x1="1241.3" y1="753.6" x2="1252.8" y2="753.6" stroke="#000" stroke-width="2.8" stroke-linecap="butt"/><line x1="1241.3" y1="772.3" x2="1252.8" y2="772.3" stroke="#000" stroke-width="2.8" stroke-linecap="butt"/><line x1="1258.9" y1="776.6" x2="1258.9" y2="790.3" stroke="#000" stroke-width="2.3" stroke-linecap="butt"/><line x1="1253.2" y1="776.6" x2="1264.7" y2="776.6" stroke="#000" stroke-width="2.8" stroke-linecap="butt"/><line x1="1253.2" y1="790.3" x2="1264.7" y2="790.3" stroke="#000" stroke-width="2.8" stroke-linecap="butt"/><line x1="1270.9" y1="788.9" x2="1270.9" y2="801.9" stroke="#000" stroke-width="2.3" stroke-linecap="butt"/><line x1="1265.1" y1="788.9" x2="1276.6" y2="788.9" stroke="#000" stroke-width="2.8" stroke-linecap="butt"/><line x1="1265.1" y1="801.9" x2="1276.6" y2="801.9" stroke="#000" stroke-width="2.8" stroke-linecap="butt"/><line x1="1282.8" y1="782.6" x2="1282.8" y2="809.9" stroke="#000" stroke-width="2.3" stroke-linecap="butt"/><line x1="1277.0" y1="782.6" x2="1288.5" y2="782.6" stroke="#000" stroke-width="2.8" stroke-linecap="butt"/><line x1="1277.0" y1="809.9" x2="1288.5" y2="809.9" stroke="#000" stroke-width="2.8" stroke-linecap="butt"/><line x1="1294.7" y1="794.5" x2="1294.7" y2="808.2" stroke="#000" stroke-width="2.3" stroke-linecap="butt"/><line x1="1289.0" y1="794.5" x2="1300.5" y2="794.5" stroke="#000" stroke-width="2.8" stroke-linecap="butt"/><line x1="1289.0" y1="808.2" x2="1300.5" y2="808.2" stroke="#000" stroke-width="2.8" stroke-linecap="butt"/><line x1="1306.6" y1="786.3" x2="1306.6" y2="799.3" stroke="#000" stroke-width="2.3" stroke-linecap="butt"/><line x1="1300.9" y1="786.3" x2="1312.4" y2="786.3" stroke="#000" stroke-width="2.8" stroke-linecap="butt"/><line x1="1300.9" y1="799.3" x2="1312.4" y2="799.3" stroke="#000" stroke-width="2.8" stroke-linecap="butt"/><line x1="1318.5" y1="795.4" x2="1318.5" y2="814.2" stroke="#000" stroke-width="2.3" stroke-linecap="butt"/><line x1="1312.8" y1="795.4" x2="1324.3" y2="795.4" stroke="#000" stroke-width="2.8" stroke-linecap="butt"/><line x1="1312.8" y1="814.2" x2="1324.3" y2="814.2" stroke="#000" stroke-width="2.8" stroke-linecap="butt"/><line x1="1330.5" y1="779.2" x2="1330.5" y2="809.9" stroke="#000" stroke-width="2.3" stroke-linecap="butt"/><line x1="1324.7" y1="779.2" x2="1336.2" y2="779.2" stroke="#000" stroke-width="2.8" stroke-linecap="butt"/><line x1="1324.7" y1="809.9" x2="1336.2" y2="809.9" stroke="#000" stroke-width="2.8" stroke-linecap="butt"/><line x1="1342.4" y1="787.7" x2="1342.4" y2="804.8" stroke="#000" stroke-width="2.3" stroke-linecap="butt"/><line x1="1336.6" y1="787.7" x2="1348.1" y2="787.7" stroke="#000" stroke-width="2.8" stroke-linecap="butt"/><line x1="1336.6" y1="804.8" x2="1348.1" y2="804.8" stroke="#000" stroke-width="2.8" stroke-linecap="butt"/><line x1="1354.3" y1="781.7" x2="1354.3" y2="798.8" stroke="#000" stroke-width="2.3" stroke-linecap="butt"/><line x1="1348.5" y1="781.7" x2="1360.0" y2="781.7" stroke="#000" stroke-width="2.8" stroke-linecap="butt"/><line x1="1348.5" y1="798.8" x2="1360.0" y2="798.8" stroke="#000" stroke-width="2.8" stroke-linecap="butt"/><line x1="1366.2" y1="781.7" x2="1366.2" y2="807.3" stroke="#000" stroke-width="2.3" stroke-linecap="butt"/><line x1="1360.5" y1="781.7" x2="1372.0" y2="781.7" stroke="#000" stroke-width="2.8" stroke-linecap="butt"/><line x1="1360.5" y1="807.3" x2="1372.0" y2="807.3" stroke="#000" stroke-width="2.8" stroke-linecap="butt"/><line x1="1378.1" y1="778.3" x2="1378.1" y2="814.2" stroke="#000" stroke-width="2.3" stroke-linecap="butt"/><line x1="1372.4" y1="778.3" x2="1383.9" y2="778.3" stroke="#000" stroke-width="2.8" stroke-linecap="butt"/><line x1="1372.4" y1="814.2" x2="1383.9" y2="814.2" stroke="#000" stroke-width="2.8" stroke-linecap="butt"/><line x1="1390.1" y1="703.2" x2="1390.1" y2="728.8" stroke="#000" stroke-width="2.3" stroke-linecap="butt"/><line x1="1384.3" y1="703.2" x2="1395.8" y2="703.2" stroke="#000" stroke-width="2.8" stroke-linecap="butt"/><line x1="1384.3" y1="728.8" x2="1395.8" y2="728.8" stroke="#000" stroke-width="2.8" stroke-linecap="butt"/><line x1="1402.0" y1="718.9" x2="1402.0" y2="731.9" stroke="#000" stroke-width="2.3" stroke-linecap="butt"/><line x1="1396.2" y1="718.9" x2="1407.7" y2="718.9" stroke="#000" stroke-width="2.8" stroke-linecap="butt"/><line x1="1396.2" y1="731.9" x2="1407.7" y2="731.9" stroke="#000" stroke-width="2.8" stroke-linecap="butt"/><line x1="1413.9" y1="725.4" x2="1413.9" y2="761.2" stroke="#000" stroke-width="2.3" stroke-linecap="butt"/><line x1="1408.2" y1="725.4" x2="1419.7" y2="725.4" stroke="#000" stroke-width="2.8" stroke-linecap="butt"/><line x1="1408.2" y1="761.2" x2="1419.7" y2="761.2" stroke="#000" stroke-width="2.8" stroke-linecap="butt"/><line x1="1425.8" y1="719.4" x2="1425.8" y2="765.5" stroke="#000" stroke-width="2.3" stroke-linecap="butt"/><line x1="1420.1" y1="719.4" x2="1431.6" y2="719.4" stroke="#000" stroke-width="2.8" stroke-linecap="butt"/><line x1="1420.1" y1="765.5" x2="1431.6" y2="765.5" stroke="#000" stroke-width="2.8" stroke-linecap="butt"/><line x1="1437.7" y1="733.1" x2="1437.7" y2="758.7" stroke="#000" stroke-width="2.3" stroke-linecap="butt"/><line x1="1432.0" y1="733.1" x2="1443.5" y2="733.1" stroke="#000" stroke-width="2.8" stroke-linecap="butt"/><line x1="1432.0" y1="758.7" x2="1443.5" y2="758.7" stroke="#000" stroke-width="2.8" stroke-linecap="butt"/><line x1="1449.7" y1="736.5" x2="1449.7" y2="784.3" stroke="#000" stroke-width="2.3" stroke-linecap="butt"/><line x1="1443.9" y1="736.5" x2="1455.4" y2="736.5" stroke="#000" stroke-width="2.8" stroke-linecap="butt"/><line x1="1443.9" y1="784.3" x2="1455.4" y2="784.3" stroke="#000" stroke-width="2.8" stroke-linecap="butt"/><line x1="1461.6" y1="727.9" x2="1461.6" y2="779.2" stroke="#000" stroke-width="2.3" stroke-linecap="butt"/><line x1="1455.8" y1="727.9" x2="1467.3" y2="727.9" stroke="#000" stroke-width="2.8" stroke-linecap="butt"/><line x1="1455.8" y1="779.2" x2="1467.3" y2="779.2" stroke="#000" stroke-width="2.8" stroke-linecap="butt"/><line x1="1473.5" y1="732.2" x2="1473.5" y2="774.9" stroke="#000" stroke-width="2.3" stroke-linecap="butt"/><line x1="1467.8" y1="732.2" x2="1479.2" y2="732.2" stroke="#000" stroke-width="2.8" stroke-linecap="butt"/><line x1="1467.8" y1="774.9" x2="1479.2" y2="774.9" stroke="#000" stroke-width="2.8" stroke-linecap="butt"/><line x1="1485.4" y1="726.2" x2="1485.4" y2="765.5" stroke="#000" stroke-width="2.3" stroke-linecap="butt"/><line x1="1479.7" y1="726.2" x2="1491.2" y2="726.2" stroke="#000" stroke-width="2.8" stroke-linecap="butt"/><line x1="1479.7" y1="765.5" x2="1491.2" y2="765.5" stroke="#000" stroke-width="2.8" stroke-linecap="butt"/><line x1="1497.3" y1="730.5" x2="1497.3" y2="757.8" stroke="#000" stroke-width="2.3" stroke-linecap="butt"/><line x1="1491.6" y1="730.5" x2="1503.1" y2="730.5" stroke="#000" stroke-width="2.8" stroke-linecap="butt"/><line x1="1491.6" y1="757.8" x2="1503.1" y2="757.8" stroke="#000" stroke-width="2.8" stroke-linecap="butt"/><line x1="1509.3" y1="719.4" x2="1509.3" y2="748.4" stroke="#000" stroke-width="2.3" stroke-linecap="butt"/><line x1="1503.5" y1="719.4" x2="1515.0" y2="719.4" stroke="#000" stroke-width="2.8" stroke-linecap="butt"/><line x1="1503.5" y1="748.4" x2="1515.0" y2="748.4" stroke="#000" stroke-width="2.8" stroke-linecap="butt"/><line x1="1521.2" y1="712.6" x2="1521.2" y2="745.0" stroke="#000" stroke-width="2.3" stroke-linecap="butt"/><line x1="1515.4" y1="712.6" x2="1526.9" y2="712.6" stroke="#000" stroke-width="2.8" stroke-linecap="butt"/><line x1="1515.4" y1="745.0" x2="1526.9" y2="745.0" stroke="#000" stroke-width="2.8" stroke-linecap="butt"/><line x1="1533.1" y1="737.3" x2="1533.1" y2="751.0" stroke="#000" stroke-width="2.3" stroke-linecap="butt"/><line x1="1527.4" y1="737.3" x2="1538.9" y2="737.3" stroke="#000" stroke-width="2.8" stroke-linecap="butt"/><line x1="1527.4" y1="751.0" x2="1538.9" y2="751.0" stroke="#000" stroke-width="2.8" stroke-linecap="butt"/><line x1="1545.0" y1="768.9" x2="1545.0" y2="796.2" stroke="#000" stroke-width="2.3" stroke-linecap="butt"/><line x1="1539.3" y1="768.9" x2="1550.8" y2="768.9" stroke="#000" stroke-width="2.8" stroke-linecap="butt"/><line x1="1539.3" y1="796.2" x2="1550.8" y2="796.2" stroke="#000" stroke-width="2.8" stroke-linecap="butt"/><line x1="1556.9" y1="765.5" x2="1556.9" y2="789.4" stroke="#000" stroke-width="2.3" stroke-linecap="butt"/><line x1="1551.2" y1="765.5" x2="1562.7" y2="765.5" stroke="#000" stroke-width="2.8" stroke-linecap="butt"/><line x1="1551.2" y1="789.4" x2="1562.7" y2="789.4" stroke="#000" stroke-width="2.8" stroke-linecap="butt"/><line x1="1568.9" y1="777.5" x2="1568.9" y2="816.7" stroke="#000" stroke-width="2.3" stroke-linecap="butt"/><line x1="1563.1" y1="777.5" x2="1574.6" y2="777.5" stroke="#000" stroke-width="2.8" stroke-linecap="butt"/><line x1="1563.1" y1="816.7" x2="1574.6" y2="816.7" stroke="#000" stroke-width="2.8" stroke-linecap="butt"/><line x1="1580.8" y1="786.9" x2="1580.8" y2="809.1" stroke="#000" stroke-width="2.3" stroke-linecap="butt"/><line x1="1575.0" y1="786.9" x2="1586.5" y2="786.9" stroke="#000" stroke-width="2.8" stroke-linecap="butt"/><line x1="1575.0" y1="809.1" x2="1586.5" y2="809.1" stroke="#000" stroke-width="2.8" stroke-linecap="butt"/><line x1="1592.7" y1="786.9" x2="1592.7" y2="812.5" stroke="#000" stroke-width="2.3" stroke-linecap="butt"/><line x1="1587.0" y1="786.9" x2="1598.5" y2="786.9" stroke="#000" stroke-width="2.8" stroke-linecap="butt"/><line x1="1587.0" y1="812.5" x2="1598.5" y2="812.5" stroke="#000" stroke-width="2.8" stroke-linecap="butt"/><line x1="1604.6" y1="794.5" x2="1604.6" y2="818.4" stroke="#000" stroke-width="2.3" stroke-linecap="butt"/><line x1="1598.9" y1="794.5" x2="1610.4" y2="794.5" stroke="#000" stroke-width="2.8" stroke-linecap="butt"/><line x1="1598.9" y1="818.4" x2="1610.4" y2="818.4" stroke="#000" stroke-width="2.8" stroke-linecap="butt"/><line x1="1616.5" y1="798.8" x2="1616.5" y2="817.6" stroke="#000" stroke-width="2.3" stroke-linecap="butt"/><line x1="1610.8" y1="798.8" x2="1622.3" y2="798.8" stroke="#000" stroke-width="2.8" stroke-linecap="butt"/><line x1="1610.8" y1="817.6" x2="1622.3" y2="817.6" stroke="#000" stroke-width="2.8" stroke-linecap="butt"/><line x1="1628.5" y1="776.6" x2="1628.5" y2="803.9" stroke="#000" stroke-width="2.3" stroke-linecap="butt"/><line x1="1622.7" y1="776.6" x2="1634.2" y2="776.6" stroke="#000" stroke-width="2.8" stroke-linecap="butt"/><line x1="1622.7" y1="803.9" x2="1634.2" y2="803.9" stroke="#000" stroke-width="2.8" stroke-linecap="butt"/><line x1="1640.4" y1="778.3" x2="1640.4" y2="798.8" stroke="#000" stroke-width="2.3" stroke-linecap="butt"/><line x1="1634.6" y1="778.3" x2="1646.1" y2="778.3" stroke="#000" stroke-width="2.8" stroke-linecap="butt"/><line x1="1634.6" y1="798.8" x2="1646.1" y2="798.8" stroke="#000" stroke-width="2.8" stroke-linecap="butt"/><line x1="1652.3" y1="789.8" x2="1652.3" y2="802.7" stroke="#000" stroke-width="2.3" stroke-linecap="butt"/><line x1="1646.5" y1="789.8" x2="1658.0" y2="789.8" stroke="#000" stroke-width="2.8" stroke-linecap="butt"/><line x1="1646.5" y1="802.7" x2="1658.0" y2="802.7" stroke="#000" stroke-width="2.8" stroke-linecap="butt"/><line x1="1664.2" y1="748.4" x2="1664.2" y2="772.3" stroke="#000" stroke-width="2.3" stroke-linecap="butt"/><line x1="1658.5" y1="748.4" x2="1670.0" y2="748.4" stroke="#000" stroke-width="2.8" stroke-linecap="butt"/><line x1="1658.5" y1="772.3" x2="1670.0" y2="772.3" stroke="#000" stroke-width="2.8" stroke-linecap="butt"/><line x1="1676.1" y1="728.3" x2="1676.1" y2="741.3" stroke="#000" stroke-width="2.3" stroke-linecap="butt"/><line x1="1670.4" y1="728.3" x2="1681.9" y2="728.3" stroke="#000" stroke-width="2.8" stroke-linecap="butt"/><line x1="1670.4" y1="741.3" x2="1681.9" y2="741.3" stroke="#000" stroke-width="2.8" stroke-linecap="butt"/><line x1="1688.1" y1="734.3" x2="1688.1" y2="747.2" stroke="#000" stroke-width="2.3" stroke-linecap="butt"/><line x1="1682.3" y1="734.3" x2="1693.8" y2="734.3" stroke="#000" stroke-width="2.8" stroke-linecap="butt"/><line x1="1682.3" y1="747.2" x2="1693.8" y2="747.2" stroke="#000" stroke-width="2.8" stroke-linecap="butt"/><line x1="1700.0" y1="729.1" x2="1700.0" y2="742.1" stroke="#000" stroke-width="2.3" stroke-linecap="butt"/><line x1="1694.2" y1="729.1" x2="1705.7" y2="729.1" stroke="#000" stroke-width="2.8" stroke-linecap="butt"/><line x1="1694.2" y1="742.1" x2="1705.7" y2="742.1" stroke="#000" stroke-width="2.8" stroke-linecap="butt"/><line x1="1711.9" y1="726.2" x2="1711.9" y2="741.6" stroke="#000" stroke-width="2.3" stroke-linecap="butt"/><line x1="1706.2" y1="726.2" x2="1717.7" y2="726.2" stroke="#000" stroke-width="2.8" stroke-linecap="butt"/><line x1="1706.2" y1="741.6" x2="1717.7" y2="741.6" stroke="#000" stroke-width="2.8" stroke-linecap="butt"/><line x1="1723.8" y1="739.0" x2="1723.8" y2="757.8" stroke="#000" stroke-width="2.3" stroke-linecap="butt"/><line x1="1718.1" y1="739.0" x2="1729.6" y2="739.0" stroke="#000" stroke-width="2.8" stroke-linecap="butt"/><line x1="1718.1" y1="757.8" x2="1729.6" y2="757.8" stroke="#000" stroke-width="2.8" stroke-linecap="butt"/><line x1="1735.7" y1="745.4" x2="1735.7" y2="758.3" stroke="#000" stroke-width="2.3" stroke-linecap="butt"/><line x1="1730.0" y1="745.4" x2="1741.5" y2="745.4" stroke="#000" stroke-width="2.8" stroke-linecap="butt"/><line x1="1730.0" y1="758.3" x2="1741.5" y2="758.3" stroke="#000" stroke-width="2.8" stroke-linecap="butt"/><line x1="1747.7" y1="728.8" x2="1747.7" y2="751.0" stroke="#000" stroke-width="2.3" stroke-linecap="butt"/><line x1="1741.9" y1="728.8" x2="1753.4" y2="728.8" stroke="#000" stroke-width="2.8" stroke-linecap="butt"/><line x1="1741.9" y1="751.0" x2="1753.4" y2="751.0" stroke="#000" stroke-width="2.8" stroke-linecap="butt"/><line x1="1759.6" y1="737.7" x2="1759.6" y2="750.7" stroke="#000" stroke-width="2.3" stroke-linecap="butt"/><line x1="1753.8" y1="737.7" x2="1765.3" y2="737.7" stroke="#000" stroke-width="2.8" stroke-linecap="butt"/><line x1="1753.8" y1="750.7" x2="1765.3" y2="750.7" stroke="#000" stroke-width="2.8" stroke-linecap="butt"/><line x1="1771.5" y1="747.6" x2="1771.5" y2="764.7" stroke="#000" stroke-width="2.3" stroke-linecap="butt"/><line x1="1765.8" y1="747.6" x2="1777.2" y2="747.6" stroke="#000" stroke-width="2.8" stroke-linecap="butt"/><line x1="1765.8" y1="764.7" x2="1777.2" y2="764.7" stroke="#000" stroke-width="2.8" stroke-linecap="butt"/><line x1="1783.4" y1="733.9" x2="1783.4" y2="763.0" stroke="#000" stroke-width="2.3" stroke-linecap="butt"/><line x1="1777.7" y1="733.9" x2="1789.2" y2="733.9" stroke="#000" stroke-width="2.8" stroke-linecap="butt"/><line x1="1777.7" y1="763.0" x2="1789.2" y2="763.0" stroke="#000" stroke-width="2.8" stroke-linecap="butt"/><line x1="1795.3" y1="717.7" x2="1795.3" y2="743.3" stroke="#000" stroke-width="2.3" stroke-linecap="butt"/><line x1="1789.6" y1="717.7" x2="1801.1" y2="717.7" stroke="#000" stroke-width="2.8" stroke-linecap="butt"/><line x1="1789.6" y1="743.3" x2="1801.1" y2="743.3" stroke="#000" stroke-width="2.8" stroke-linecap="butt"/><line x1="1807.3" y1="691.2" x2="1807.3" y2="718.6" stroke="#000" stroke-width="2.3" stroke-linecap="butt"/><line x1="1801.5" y1="691.2" x2="1813.0" y2="691.2" stroke="#000" stroke-width="2.8" stroke-linecap="butt"/><line x1="1801.5" y1="718.6" x2="1813.0" y2="718.6" stroke="#000" stroke-width="2.8" stroke-linecap="butt"/><line x1="1819.2" y1="725.4" x2="1819.2" y2="752.7" stroke="#000" stroke-width="2.3" stroke-linecap="butt"/><line x1="1813.4" y1="725.4" x2="1824.9" y2="725.4" stroke="#000" stroke-width="2.8" stroke-linecap="butt"/><line x1="1813.4" y1="752.7" x2="1824.9" y2="752.7" stroke="#000" stroke-width="2.8" stroke-linecap="butt"/><line x1="1831.1" y1="766.7" x2="1831.1" y2="779.7" stroke="#000" stroke-width="2.3" stroke-linecap="butt"/><line x1="1825.4" y1="766.7" x2="1836.9" y2="766.7" stroke="#000" stroke-width="2.8" stroke-linecap="butt"/><line x1="1825.4" y1="779.7" x2="1836.9" y2="779.7" stroke="#000" stroke-width="2.8" stroke-linecap="butt"/><line x1="1843.0" y1="763.0" x2="1843.0" y2="788.6" stroke="#000" stroke-width="2.3" stroke-linecap="butt"/><line x1="1837.3" y1="763.0" x2="1848.8" y2="763.0" stroke="#000" stroke-width="2.8" stroke-linecap="butt"/><line x1="1837.3" y1="788.6" x2="1848.8" y2="788.6" stroke="#000" stroke-width="2.8" stroke-linecap="butt"/><line x1="1854.9" y1="783.4" x2="1854.9" y2="797.1" stroke="#000" stroke-width="2.3" stroke-linecap="butt"/><line x1="1849.2" y1="783.4" x2="1860.7" y2="783.4" stroke="#000" stroke-width="2.8" stroke-linecap="butt"/><line x1="1849.2" y1="797.1" x2="1860.7" y2="797.1" stroke="#000" stroke-width="2.8" stroke-linecap="butt"/><line x1="1866.9" y1="775.8" x2="1866.9" y2="792.8" stroke="#000" stroke-width="2.3" stroke-linecap="butt"/><line x1="1861.1" y1="775.8" x2="1872.6" y2="775.8" stroke="#000" stroke-width="2.8" stroke-linecap="butt"/><line x1="1861.1" y1="792.8" x2="1872.6" y2="792.8" stroke="#000" stroke-width="2.8" stroke-linecap="butt"/><line x1="1878.8" y1="787.7" x2="1878.8" y2="808.2" stroke="#000" stroke-width="2.3" stroke-linecap="butt"/><line x1="1873.0" y1="787.7" x2="1884.5" y2="787.7" stroke="#000" stroke-width="2.8" stroke-linecap="butt"/><line x1="1873.0" y1="808.2" x2="1884.5" y2="808.2" stroke="#000" stroke-width="2.8" stroke-linecap="butt"/><line x1="1890.7" y1="787.7" x2="1890.7" y2="808.2" stroke="#000" stroke-width="2.3" stroke-linecap="butt"/><line x1="1885.0" y1="787.7" x2="1896.5" y2="787.7" stroke="#000" stroke-width="2.8" stroke-linecap="butt"/><line x1="1885.0" y1="808.2" x2="1896.5" y2="808.2" stroke="#000" stroke-width="2.8" stroke-linecap="butt"/><line x1="1902.6" y1="782.6" x2="1902.6" y2="808.2" stroke="#000" stroke-width="2.3" stroke-linecap="butt"/><line x1="1896.9" y1="782.6" x2="1908.4" y2="782.6" stroke="#000" stroke-width="2.8" stroke-linecap="butt"/><line x1="1896.9" y1="808.2" x2="1908.4" y2="808.2" stroke="#000" stroke-width="2.8" stroke-linecap="butt"/><line x1="1914.5" y1="773.2" x2="1914.5" y2="798.8" stroke="#000" stroke-width="2.3" stroke-linecap="butt"/><line x1="1908.8" y1="773.2" x2="1920.3" y2="773.2" stroke="#000" stroke-width="2.8" stroke-linecap="butt"/><line x1="1908.8" y1="798.8" x2="1920.3" y2="798.8" stroke="#000" stroke-width="2.8" stroke-linecap="butt"/><line x1="1926.5" y1="780.0" x2="1926.5" y2="810.8" stroke="#000" stroke-width="2.3" stroke-linecap="butt"/><line x1="1920.7" y1="780.0" x2="1932.2" y2="780.0" stroke="#000" stroke-width="2.8" stroke-linecap="butt"/><line x1="1920.7" y1="810.8" x2="1932.2" y2="810.8" stroke="#000" stroke-width="2.8" stroke-linecap="butt"/><line x1="1938.4" y1="789.8" x2="1938.4" y2="802.7" stroke="#000" stroke-width="2.3" stroke-linecap="butt"/><line x1="1932.6" y1="789.8" x2="1944.1" y2="789.8" stroke="#000" stroke-width="2.8" stroke-linecap="butt"/><line x1="1932.6" y1="802.7" x2="1944.1" y2="802.7" stroke="#000" stroke-width="2.8" stroke-linecap="butt"/><line x1="1950.3" y1="769.3" x2="1950.3" y2="782.2" stroke="#000" stroke-width="2.3" stroke-linecap="butt"/><line x1="1944.5" y1="769.3" x2="1956.0" y2="769.3" stroke="#000" stroke-width="2.8" stroke-linecap="butt"/><line x1="1944.5" y1="782.2" x2="1956.0" y2="782.2" stroke="#000" stroke-width="2.8" stroke-linecap="butt"/><line x1="1962.2" y1="721.1" x2="1962.2" y2="763.8" stroke="#000" stroke-width="2.3" stroke-linecap="butt"/><line x1="1956.5" y1="721.1" x2="1968.0" y2="721.1" stroke="#000" stroke-width="2.8" stroke-linecap="butt"/><line x1="1956.5" y1="763.8" x2="1968.0" y2="763.8" stroke="#000" stroke-width="2.8" stroke-linecap="butt"/><line x1="1974.1" y1="719.4" x2="1974.1" y2="757.0" stroke="#000" stroke-width="2.3" stroke-linecap="butt"/><line x1="1968.4" y1="719.4" x2="1979.9" y2="719.4" stroke="#000" stroke-width="2.8" stroke-linecap="butt"/><line x1="1968.4" y1="757.0" x2="1979.9" y2="757.0" stroke="#000" stroke-width="2.8" stroke-linecap="butt"/><line x1="1986.1" y1="731.4" x2="1986.1" y2="748.4" stroke="#000" stroke-width="2.3" stroke-linecap="butt"/><line x1="1980.3" y1="731.4" x2="1991.8" y2="731.4" stroke="#000" stroke-width="2.8" stroke-linecap="butt"/><line x1="1980.3" y1="748.4" x2="1991.8" y2="748.4" stroke="#000" stroke-width="2.8" stroke-linecap="butt"/><line x1="1998.0" y1="728.8" x2="1998.0" y2="754.4" stroke="#000" stroke-width="2.3" stroke-linecap="butt"/><line x1="1992.2" y1="728.8" x2="2003.7" y2="728.8" stroke="#000" stroke-width="2.8" stroke-linecap="butt"/><line x1="1992.2" y1="754.4" x2="2003.7" y2="754.4" stroke="#000" stroke-width="2.8" stroke-linecap="butt"/><line x1="2009.9" y1="739.0" x2="2009.9" y2="778.3" stroke="#000" stroke-width="2.3" stroke-linecap="butt"/><line x1="2004.2" y1="739.0" x2="2015.7" y2="739.0" stroke="#000" stroke-width="2.8" stroke-linecap="butt"/><line x1="2004.2" y1="778.3" x2="2015.7" y2="778.3" stroke="#000" stroke-width="2.8" stroke-linecap="butt"/><line x1="2021.8" y1="734.8" x2="2021.8" y2="774.1" stroke="#000" stroke-width="2.3" stroke-linecap="butt"/><line x1="2016.1" y1="734.8" x2="2027.6" y2="734.8" stroke="#000" stroke-width="2.8" stroke-linecap="butt"/><line x1="2016.1" y1="774.1" x2="2027.6" y2="774.1" stroke="#000" stroke-width="2.8" stroke-linecap="butt"/><line x1="2033.7" y1="729.7" x2="2033.7" y2="789.4" stroke="#000" stroke-width="2.3" stroke-linecap="butt"/><line x1="2028.0" y1="729.7" x2="2039.5" y2="729.7" stroke="#000" stroke-width="2.8" stroke-linecap="butt"/><line x1="2028.0" y1="789.4" x2="2039.5" y2="789.4" stroke="#000" stroke-width="2.8" stroke-linecap="butt"/><line x1="2045.7" y1="729.7" x2="2045.7" y2="782.6" stroke="#000" stroke-width="2.3" stroke-linecap="butt"/><line x1="2039.9" y1="729.7" x2="2051.4" y2="729.7" stroke="#000" stroke-width="2.8" stroke-linecap="butt"/><line x1="2039.9" y1="782.6" x2="2051.4" y2="782.6" stroke="#000" stroke-width="2.8" stroke-linecap="butt"/><line x1="2057.6" y1="733.1" x2="2057.6" y2="786.0" stroke="#000" stroke-width="2.3" stroke-linecap="butt"/><line x1="2051.8" y1="733.1" x2="2063.3" y2="733.1" stroke="#000" stroke-width="2.8" stroke-linecap="butt"/><line x1="2051.8" y1="786.0" x2="2063.3" y2="786.0" stroke="#000" stroke-width="2.8" stroke-linecap="butt"/><line x1="2069.5" y1="739.0" x2="2069.5" y2="764.7" stroke="#000" stroke-width="2.3" stroke-linecap="butt"/><line x1="2063.8" y1="739.0" x2="2075.2" y2="739.0" stroke="#000" stroke-width="2.8" stroke-linecap="butt"/><line x1="2063.8" y1="764.7" x2="2075.2" y2="764.7" stroke="#000" stroke-width="2.8" stroke-linecap="butt"/><line x1="2081.4" y1="708.3" x2="2081.4" y2="752.7" stroke="#000" stroke-width="2.3" stroke-linecap="butt"/><line x1="2075.7" y1="708.3" x2="2087.2" y2="708.3" stroke="#000" stroke-width="2.8" stroke-linecap="butt"/><line x1="2075.7" y1="752.7" x2="2087.2" y2="752.7" stroke="#000" stroke-width="2.8" stroke-linecap="butt"/><line x1="2093.3" y1="704.9" x2="2093.3" y2="744.2" stroke="#000" stroke-width="2.3" stroke-linecap="butt"/><line x1="2087.6" y1="704.9" x2="2099.1" y2="704.9" stroke="#000" stroke-width="2.8" stroke-linecap="butt"/><line x1="2087.6" y1="744.2" x2="2099.1" y2="744.2" stroke="#000" stroke-width="2.8" stroke-linecap="butt"/><line x1="102.7" y1="764.7" x2="102.7" y2="788.6" stroke="#000" stroke-width="2.3" stroke-linecap="butt"/><line x1="97.0" y1="764.7" x2="108.5" y2="764.7" stroke="#000" stroke-width="2.8" stroke-linecap="butt"/><line x1="97.0" y1="788.6" x2="108.5" y2="788.6" stroke="#000" stroke-width="2.8" stroke-linecap="butt"/><line x1="114.6" y1="791.1" x2="114.6" y2="818.4" stroke="#000" stroke-width="2.3" stroke-linecap="butt"/><line x1="108.9" y1="791.1" x2="120.4" y2="791.1" stroke="#000" stroke-width="2.8" stroke-linecap="butt"/><line x1="108.9" y1="818.4" x2="120.4" y2="818.4" stroke="#000" stroke-width="2.8" stroke-linecap="butt"/><line x1="126.5" y1="825.3" x2="126.5" y2="856.0" stroke="#000" stroke-width="2.3" stroke-linecap="butt"/><line x1="120.8" y1="825.3" x2="132.3" y2="825.3" stroke="#000" stroke-width="2.8" stroke-linecap="butt"/><line x1="120.8" y1="856.0" x2="132.3" y2="856.0" stroke="#000" stroke-width="2.8" stroke-linecap="butt"/><line x1="138.5" y1="823.6" x2="138.5" y2="861.1" stroke="#000" stroke-width="2.3" stroke-linecap="butt"/><line x1="132.7" y1="823.6" x2="144.2" y2="823.6" stroke="#000" stroke-width="2.8" stroke-linecap="butt"/><line x1="132.7" y1="861.1" x2="144.2" y2="861.1" stroke="#000" stroke-width="2.8" stroke-linecap="butt"/><line x1="150.4" y1="855.2" x2="150.4" y2="880.8" stroke="#000" stroke-width="2.3" stroke-linecap="butt"/><line x1="144.6" y1="855.2" x2="156.1" y2="855.2" stroke="#000" stroke-width="2.8" stroke-linecap="butt"/><line x1="144.6" y1="880.8" x2="156.1" y2="880.8" stroke="#000" stroke-width="2.8" stroke-linecap="butt"/><line x1="162.3" y1="843.2" x2="162.3" y2="867.1" stroke="#000" stroke-width="2.3" stroke-linecap="butt"/><line x1="156.6" y1="843.2" x2="168.1" y2="843.2" stroke="#000" stroke-width="2.8" stroke-linecap="butt"/><line x1="156.6" y1="867.1" x2="168.1" y2="867.1" stroke="#000" stroke-width="2.8" stroke-linecap="butt"/><line x1="174.2" y1="850.9" x2="174.2" y2="879.9" stroke="#000" stroke-width="2.3" stroke-linecap="butt"/><line x1="168.5" y1="850.9" x2="180.0" y2="850.9" stroke="#000" stroke-width="2.8" stroke-linecap="butt"/><line x1="168.5" y1="879.9" x2="180.0" y2="879.9" stroke="#000" stroke-width="2.8" stroke-linecap="butt"/><line x1="186.1" y1="836.4" x2="186.1" y2="860.3" stroke="#000" stroke-width="2.3" stroke-linecap="butt"/><line x1="180.4" y1="836.4" x2="191.9" y2="836.4" stroke="#000" stroke-width="2.8" stroke-linecap="butt"/><line x1="180.4" y1="860.3" x2="191.9" y2="860.3" stroke="#000" stroke-width="2.8" stroke-linecap="butt"/><line x1="198.1" y1="842.4" x2="198.1" y2="868.0" stroke="#000" stroke-width="2.3" stroke-linecap="butt"/><line x1="192.3" y1="842.4" x2="203.8" y2="842.4" stroke="#000" stroke-width="2.8" stroke-linecap="butt"/><line x1="192.3" y1="868.0" x2="203.8" y2="868.0" stroke="#000" stroke-width="2.8" stroke-linecap="butt"/><line x1="210.0" y1="821.9" x2="210.0" y2="852.6" stroke="#000" stroke-width="2.3" stroke-linecap="butt"/><line x1="204.2" y1="821.9" x2="215.7" y2="821.9" stroke="#000" stroke-width="2.8" stroke-linecap="butt"/><line x1="204.2" y1="852.6" x2="215.7" y2="852.6" stroke="#000" stroke-width="2.8" stroke-linecap="butt"/><line x1="221.9" y1="821.0" x2="221.9" y2="848.3" stroke="#000" stroke-width="2.3" stroke-linecap="butt"/><line x1="216.2" y1="821.0" x2="227.7" y2="821.0" stroke="#000" stroke-width="2.8" stroke-linecap="butt"/><line x1="216.2" y1="848.3" x2="227.7" y2="848.3" stroke="#000" stroke-width="2.8" stroke-linecap="butt"/><line x1="233.8" y1="799.7" x2="233.8" y2="833.8" stroke="#000" stroke-width="2.3" stroke-linecap="butt"/><line x1="228.1" y1="799.7" x2="239.6" y2="799.7" stroke="#000" stroke-width="2.8" stroke-linecap="butt"/><line x1="228.1" y1="833.8" x2="239.6" y2="833.8" stroke="#000" stroke-width="2.8" stroke-linecap="butt"/><line x1="245.7" y1="757.8" x2="245.7" y2="800.5" stroke="#000" stroke-width="2.3" stroke-linecap="butt"/><line x1="240.0" y1="757.8" x2="251.5" y2="757.8" stroke="#000" stroke-width="2.8" stroke-linecap="butt"/><line x1="240.0" y1="800.5" x2="251.5" y2="800.5" stroke="#000" stroke-width="2.8" stroke-linecap="butt"/><line x1="257.7" y1="757.0" x2="257.7" y2="796.2" stroke="#000" stroke-width="2.3" stroke-linecap="butt"/><line x1="251.9" y1="757.0" x2="263.4" y2="757.0" stroke="#000" stroke-width="2.8" stroke-linecap="butt"/><line x1="251.9" y1="796.2" x2="263.4" y2="796.2" stroke="#000" stroke-width="2.8" stroke-linecap="butt"/><line x1="269.6" y1="762.1" x2="269.6" y2="804.8" stroke="#000" stroke-width="2.3" stroke-linecap="butt"/><line x1="263.8" y1="762.1" x2="275.3" y2="762.1" stroke="#000" stroke-width="2.8" stroke-linecap="butt"/><line x1="263.8" y1="804.8" x2="275.3" y2="804.8" stroke="#000" stroke-width="2.8" stroke-linecap="butt"/><line x1="281.5" y1="788.6" x2="281.5" y2="821.0" stroke="#000" stroke-width="2.3" stroke-linecap="butt"/><line x1="275.8" y1="788.6" x2="287.2" y2="788.6" stroke="#000" stroke-width="2.8" stroke-linecap="butt"/><line x1="275.8" y1="821.0" x2="287.2" y2="821.0" stroke="#000" stroke-width="2.8" stroke-linecap="butt"/><line x1="293.4" y1="788.6" x2="293.4" y2="817.6" stroke="#000" stroke-width="2.3" stroke-linecap="butt"/><line x1="287.7" y1="788.6" x2="299.2" y2="788.6" stroke="#000" stroke-width="2.8" stroke-linecap="butt"/><line x1="287.7" y1="817.6" x2="299.2" y2="817.6" stroke="#000" stroke-width="2.8" stroke-linecap="butt"/><line x1="305.3" y1="774.1" x2="305.3" y2="801.4" stroke="#000" stroke-width="2.3" stroke-linecap="butt"/><line x1="299.6" y1="774.1" x2="311.1" y2="774.1" stroke="#000" stroke-width="2.8" stroke-linecap="butt"/><line x1="299.6" y1="801.4" x2="311.1" y2="801.4" stroke="#000" stroke-width="2.8" stroke-linecap="butt"/><line x1="317.3" y1="781.7" x2="317.3" y2="827.8" stroke="#000" stroke-width="2.3" stroke-linecap="butt"/><line x1="311.5" y1="781.7" x2="323.0" y2="781.7" stroke="#000" stroke-width="2.8" stroke-linecap="butt"/><line x1="311.5" y1="827.8" x2="323.0" y2="827.8" stroke="#000" stroke-width="2.8" stroke-linecap="butt"/><line x1="329.2" y1="803.9" x2="329.2" y2="838.1" stroke="#000" stroke-width="2.3" stroke-linecap="butt"/><line x1="323.4" y1="803.9" x2="334.9" y2="803.9" stroke="#000" stroke-width="2.8" stroke-linecap="butt"/><line x1="323.4" y1="838.1" x2="334.9" y2="838.1" stroke="#000" stroke-width="2.8" stroke-linecap="butt"/><line x1="341.1" y1="806.5" x2="341.1" y2="852.6" stroke="#000" stroke-width="2.3" stroke-linecap="butt"/><line x1="335.4" y1="806.5" x2="346.9" y2="806.5" stroke="#000" stroke-width="2.8" stroke-linecap="butt"/><line x1="335.4" y1="852.6" x2="346.9" y2="852.6" stroke="#000" stroke-width="2.8" stroke-linecap="butt"/><line x1="353.0" y1="803.9" x2="353.0" y2="829.5" stroke="#000" stroke-width="2.3" stroke-linecap="butt"/><line x1="347.3" y1="803.9" x2="358.8" y2="803.9" stroke="#000" stroke-width="2.8" stroke-linecap="butt"/><line x1="347.3" y1="829.5" x2="358.8" y2="829.5" stroke="#000" stroke-width="2.8" stroke-linecap="butt"/><line x1="364.9" y1="796.2" x2="364.9" y2="818.4" stroke="#000" stroke-width="2.3" stroke-linecap="butt"/><line x1="359.2" y1="796.2" x2="370.7" y2="796.2" stroke="#000" stroke-width="2.8" stroke-linecap="butt"/><line x1="359.2" y1="818.4" x2="370.7" y2="818.4" stroke="#000" stroke-width="2.8" stroke-linecap="butt"/><line x1="376.9" y1="751.9" x2="376.9" y2="772.3" stroke="#000" stroke-width="2.3" stroke-linecap="butt"/><line x1="371.1" y1="751.9" x2="382.6" y2="751.9" stroke="#000" stroke-width="2.8" stroke-linecap="butt"/><line x1="371.1" y1="772.3" x2="382.6" y2="772.3" stroke="#000" stroke-width="2.8" stroke-linecap="butt"/><line x1="388.8" y1="784.3" x2="388.8" y2="804.8" stroke="#000" stroke-width="2.3" stroke-linecap="butt"/><line x1="383.0" y1="784.3" x2="394.5" y2="784.3" stroke="#000" stroke-width="2.8" stroke-linecap="butt"/><line x1="383.0" y1="804.8" x2="394.5" y2="804.8" stroke="#000" stroke-width="2.8" stroke-linecap="butt"/><line x1="400.7" y1="817.3" x2="400.7" y2="830.9" stroke="#000" stroke-width="2.3" stroke-linecap="butt"/><line x1="394.9" y1="817.3" x2="406.4" y2="817.3" stroke="#000" stroke-width="2.8" stroke-linecap="butt"/><line x1="394.9" y1="830.9" x2="406.4" y2="830.9" stroke="#000" stroke-width="2.8" stroke-linecap="butt"/><line x1="412.6" y1="811.6" x2="412.6" y2="825.3" stroke="#000" stroke-width="2.3" stroke-linecap="butt"/><line x1="406.9" y1="811.6" x2="418.4" y2="811.6" stroke="#000" stroke-width="2.8" stroke-linecap="butt"/><line x1="406.9" y1="825.3" x2="418.4" y2="825.3" stroke="#000" stroke-width="2.8" stroke-linecap="butt"/><line x1="424.5" y1="824.4" x2="424.5" y2="848.3" stroke="#000" stroke-width="2.3" stroke-linecap="butt"/><line x1="418.8" y1="824.4" x2="430.3" y2="824.4" stroke="#000" stroke-width="2.8" stroke-linecap="butt"/><line x1="418.8" y1="848.3" x2="430.3" y2="848.3" stroke="#000" stroke-width="2.8" stroke-linecap="butt"/><line x1="436.5" y1="803.9" x2="436.5" y2="819.3" stroke="#000" stroke-width="2.3" stroke-linecap="butt"/><line x1="430.7" y1="803.9" x2="442.2" y2="803.9" stroke="#000" stroke-width="2.8" stroke-linecap="butt"/><line x1="430.7" y1="819.3" x2="442.2" y2="819.3" stroke="#000" stroke-width="2.8" stroke-linecap="butt"/><line x1="448.4" y1="829.5" x2="448.4" y2="856.9" stroke="#000" stroke-width="2.3" stroke-linecap="butt"/><line x1="442.6" y1="829.5" x2="454.1" y2="829.5" stroke="#000" stroke-width="2.8" stroke-linecap="butt"/><line x1="442.6" y1="856.9" x2="454.1" y2="856.9" stroke="#000" stroke-width="2.8" stroke-linecap="butt"/><line x1="460.3" y1="815.9" x2="460.3" y2="851.7" stroke="#000" stroke-width="2.3" stroke-linecap="butt"/><line x1="454.6" y1="815.9" x2="466.1" y2="815.9" stroke="#000" stroke-width="2.8" stroke-linecap="butt"/><line x1="454.6" y1="851.7" x2="466.1" y2="851.7" stroke="#000" stroke-width="2.8" stroke-linecap="butt"/><line x1="472.2" y1="833.8" x2="472.2" y2="854.3" stroke="#000" stroke-width="2.3" stroke-linecap="butt"/><line x1="466.5" y1="833.8" x2="478.0" y2="833.8" stroke="#000" stroke-width="2.8" stroke-linecap="butt"/><line x1="466.5" y1="854.3" x2="478.0" y2="854.3" stroke="#000" stroke-width="2.8" stroke-linecap="butt"/><line x1="484.1" y1="822.7" x2="484.1" y2="856.9" stroke="#000" stroke-width="2.3" stroke-linecap="butt"/><line x1="478.4" y1="822.7" x2="489.9" y2="822.7" stroke="#000" stroke-width="2.8" stroke-linecap="butt"/><line x1="478.4" y1="856.9" x2="489.9" y2="856.9" stroke="#000" stroke-width="2.8" stroke-linecap="butt"/><line x1="496.1" y1="812.5" x2="496.1" y2="841.5" stroke="#000" stroke-width="2.3" stroke-linecap="butt"/><line x1="490.3" y1="812.5" x2="501.8" y2="812.5" stroke="#000" stroke-width="2.8" stroke-linecap="butt"/><line x1="490.3" y1="841.5" x2="501.8" y2="841.5" stroke="#000" stroke-width="2.8" stroke-linecap="butt"/><line x1="508.0" y1="813.3" x2="508.0" y2="837.2" stroke="#000" stroke-width="2.3" stroke-linecap="butt"/><line x1="502.2" y1="813.3" x2="513.7" y2="813.3" stroke="#000" stroke-width="2.8" stroke-linecap="butt"/><line x1="502.2" y1="837.2" x2="513.7" y2="837.2" stroke="#000" stroke-width="2.8" stroke-linecap="butt"/><line x1="519.9" y1="792.0" x2="519.9" y2="824.4" stroke="#000" stroke-width="2.3" stroke-linecap="butt"/><line x1="514.1" y1="792.0" x2="525.6" y2="792.0" stroke="#000" stroke-width="2.8" stroke-linecap="butt"/><line x1="514.1" y1="824.4" x2="525.6" y2="824.4" stroke="#000" stroke-width="2.8" stroke-linecap="butt"/><line x1="531.8" y1="757.0" x2="531.8" y2="786.0" stroke="#000" stroke-width="2.3" stroke-linecap="butt"/><line x1="526.1" y1="757.0" x2="537.6" y2="757.0" stroke="#000" stroke-width="2.8" stroke-linecap="butt"/><line x1="526.1" y1="786.0" x2="537.6" y2="786.0" stroke="#000" stroke-width="2.8" stroke-linecap="butt"/><line x1="543.7" y1="738.2" x2="543.7" y2="777.5" stroke="#000" stroke-width="2.3" stroke-linecap="butt"/><line x1="538.0" y1="738.2" x2="549.5" y2="738.2" stroke="#000" stroke-width="2.8" stroke-linecap="butt"/><line x1="538.0" y1="777.5" x2="549.5" y2="777.5" stroke="#000" stroke-width="2.8" stroke-linecap="butt"/><line x1="555.7" y1="742.1" x2="555.7" y2="766.0" stroke="#000" stroke-width="2.3" stroke-linecap="butt"/><line x1="549.9" y1="742.1" x2="561.4" y2="742.1" stroke="#000" stroke-width="2.8" stroke-linecap="butt"/><line x1="549.9" y1="766.0" x2="561.4" y2="766.0" stroke="#000" stroke-width="2.8" stroke-linecap="butt"/><line x1="567.6" y1="759.5" x2="567.6" y2="795.4" stroke="#000" stroke-width="2.3" stroke-linecap="butt"/><line x1="561.8" y1="759.5" x2="573.3" y2="759.5" stroke="#000" stroke-width="2.8" stroke-linecap="butt"/><line x1="561.8" y1="795.4" x2="573.3" y2="795.4" stroke="#000" stroke-width="2.8" stroke-linecap="butt"/><line x1="579.5" y1="754.4" x2="579.5" y2="781.7" stroke="#000" stroke-width="2.3" stroke-linecap="butt"/><line x1="573.8" y1="754.4" x2="585.2" y2="754.4" stroke="#000" stroke-width="2.8" stroke-linecap="butt"/><line x1="573.8" y1="781.7" x2="585.2" y2="781.7" stroke="#000" stroke-width="2.8" stroke-linecap="butt"/><line x1="591.4" y1="772.3" x2="591.4" y2="804.8" stroke="#000" stroke-width="2.3" stroke-linecap="butt"/><line x1="585.7" y1="772.3" x2="597.2" y2="772.3" stroke="#000" stroke-width="2.8" stroke-linecap="butt"/><line x1="585.7" y1="804.8" x2="597.2" y2="804.8" stroke="#000" stroke-width="2.8" stroke-linecap="butt"/><line x1="603.3" y1="786.0" x2="603.3" y2="808.2" stroke="#000" stroke-width="2.3" stroke-linecap="butt"/><line x1="597.6" y1="786.0" x2="609.1" y2="786.0" stroke="#000" stroke-width="2.8" stroke-linecap="butt"/><line x1="597.6" y1="808.2" x2="609.1" y2="808.2" stroke="#000" stroke-width="2.8" stroke-linecap="butt"/><line x1="615.3" y1="791.1" x2="615.3" y2="808.2" stroke="#000" stroke-width="2.3" stroke-linecap="butt"/><line x1="609.5" y1="791.1" x2="621.0" y2="791.1" stroke="#000" stroke-width="2.8" stroke-linecap="butt"/><line x1="609.5" y1="808.2" x2="621.0" y2="808.2" stroke="#000" stroke-width="2.8" stroke-linecap="butt"/><line x1="627.2" y1="789.4" x2="627.2" y2="806.5" stroke="#000" stroke-width="2.3" stroke-linecap="butt"/><line x1="621.4" y1="789.4" x2="632.9" y2="789.4" stroke="#000" stroke-width="2.8" stroke-linecap="butt"/><line x1="621.4" y1="806.5" x2="632.9" y2="806.5" stroke="#000" stroke-width="2.8" stroke-linecap="butt"/><line x1="639.1" y1="780.0" x2="639.1" y2="815.9" stroke="#000" stroke-width="2.3" stroke-linecap="butt"/><line x1="633.4" y1="780.0" x2="644.9" y2="780.0" stroke="#000" stroke-width="2.8" stroke-linecap="butt"/><line x1="633.4" y1="815.9" x2="644.9" y2="815.9" stroke="#000" stroke-width="2.8" stroke-linecap="butt"/><line x1="651.0" y1="760.4" x2="651.0" y2="801.4" stroke="#000" stroke-width="2.3" stroke-linecap="butt"/><line x1="645.3" y1="760.4" x2="656.8" y2="760.4" stroke="#000" stroke-width="2.8" stroke-linecap="butt"/><line x1="645.3" y1="801.4" x2="656.8" y2="801.4" stroke="#000" stroke-width="2.8" stroke-linecap="butt"/><line x1="662.9" y1="742.1" x2="662.9" y2="769.4" stroke="#000" stroke-width="2.3" stroke-linecap="butt"/><line x1="657.2" y1="742.1" x2="668.7" y2="742.1" stroke="#000" stroke-width="2.8" stroke-linecap="butt"/><line x1="657.2" y1="769.4" x2="668.7" y2="769.4" stroke="#000" stroke-width="2.8" stroke-linecap="butt"/><line x1="674.9" y1="792.0" x2="674.9" y2="810.8" stroke="#000" stroke-width="2.3" stroke-linecap="butt"/><line x1="669.1" y1="792.0" x2="680.6" y2="792.0" stroke="#000" stroke-width="2.8" stroke-linecap="butt"/><line x1="669.1" y1="810.8" x2="680.6" y2="810.8" stroke="#000" stroke-width="2.8" stroke-linecap="butt"/><line x1="686.8" y1="802.2" x2="686.8" y2="833.0" stroke="#000" stroke-width="2.3" stroke-linecap="butt"/><line x1="681.0" y1="802.2" x2="692.5" y2="802.2" stroke="#000" stroke-width="2.8" stroke-linecap="butt"/><line x1="681.0" y1="833.0" x2="692.5" y2="833.0" stroke="#000" stroke-width="2.8" stroke-linecap="butt"/><line x1="698.7" y1="804.3" x2="698.7" y2="817.3" stroke="#000" stroke-width="2.3" stroke-linecap="butt"/><line x1="693.0" y1="804.3" x2="704.5" y2="804.3" stroke="#000" stroke-width="2.8" stroke-linecap="butt"/><line x1="693.0" y1="817.3" x2="704.5" y2="817.3" stroke="#000" stroke-width="2.8" stroke-linecap="butt"/><line x1="710.6" y1="807.3" x2="710.6" y2="836.4" stroke="#000" stroke-width="2.3" stroke-linecap="butt"/><line x1="704.9" y1="807.3" x2="716.4" y2="807.3" stroke="#000" stroke-width="2.8" stroke-linecap="butt"/><line x1="704.9" y1="836.4" x2="716.4" y2="836.4" stroke="#000" stroke-width="2.8" stroke-linecap="butt"/><line x1="722.5" y1="804.8" x2="722.5" y2="828.7" stroke="#000" stroke-width="2.3" stroke-linecap="butt"/><line x1="716.8" y1="804.8" x2="728.3" y2="804.8" stroke="#000" stroke-width="2.8" stroke-linecap="butt"/><line x1="716.8" y1="828.7" x2="728.3" y2="828.7" stroke="#000" stroke-width="2.8" stroke-linecap="butt"/><line x1="734.5" y1="811.6" x2="734.5" y2="837.2" stroke="#000" stroke-width="2.3" stroke-linecap="butt"/><line x1="728.7" y1="811.6" x2="740.2" y2="811.6" stroke="#000" stroke-width="2.8" stroke-linecap="butt"/><line x1="728.7" y1="837.2" x2="740.2" y2="837.2" stroke="#000" stroke-width="2.8" stroke-linecap="butt"/><line x1="746.4" y1="811.6" x2="746.4" y2="840.6" stroke="#000" stroke-width="2.3" stroke-linecap="butt"/><line x1="740.6" y1="811.6" x2="752.1" y2="811.6" stroke="#000" stroke-width="2.8" stroke-linecap="butt"/><line x1="740.6" y1="840.6" x2="752.1" y2="840.6" stroke="#000" stroke-width="2.8" stroke-linecap="butt"/><line x1="758.3" y1="818.4" x2="758.3" y2="835.5" stroke="#000" stroke-width="2.3" stroke-linecap="butt"/><line x1="752.6" y1="818.4" x2="764.1" y2="818.4" stroke="#000" stroke-width="2.8" stroke-linecap="butt"/><line x1="752.6" y1="835.5" x2="764.1" y2="835.5" stroke="#000" stroke-width="2.8" stroke-linecap="butt"/><line x1="770.2" y1="820.2" x2="770.2" y2="842.4" stroke="#000" stroke-width="2.3" stroke-linecap="butt"/><line x1="764.5" y1="820.2" x2="776.0" y2="820.2" stroke="#000" stroke-width="2.8" stroke-linecap="butt"/><line x1="764.5" y1="842.4" x2="776.0" y2="842.4" stroke="#000" stroke-width="2.8" stroke-linecap="butt"/><line x1="782.1" y1="838.9" x2="782.1" y2="857.7" stroke="#000" stroke-width="2.3" stroke-linecap="butt"/><line x1="776.4" y1="838.9" x2="787.9" y2="838.9" stroke="#000" stroke-width="2.8" stroke-linecap="butt"/><line x1="776.4" y1="857.7" x2="787.9" y2="857.7" stroke="#000" stroke-width="2.8" stroke-linecap="butt"/><line x1="794.1" y1="819.6" x2="794.1" y2="832.6" stroke="#000" stroke-width="2.3" stroke-linecap="butt"/><line x1="788.3" y1="819.6" x2="799.8" y2="819.6" stroke="#000" stroke-width="2.8" stroke-linecap="butt"/><line x1="788.3" y1="832.6" x2="799.8" y2="832.6" stroke="#000" stroke-width="2.8" stroke-linecap="butt"/><line x1="806.0" y1="791.1" x2="806.0" y2="818.4" stroke="#000" stroke-width="2.3" stroke-linecap="butt"/><line x1="800.2" y1="791.1" x2="811.7" y2="791.1" stroke="#000" stroke-width="2.8" stroke-linecap="butt"/><line x1="800.2" y1="818.4" x2="811.7" y2="818.4" stroke="#000" stroke-width="2.8" stroke-linecap="butt"/><line x1="817.9" y1="751.0" x2="817.9" y2="774.9" stroke="#000" stroke-width="2.3" stroke-linecap="butt"/><line x1="812.2" y1="751.0" x2="823.7" y2="751.0" stroke="#000" stroke-width="2.8" stroke-linecap="butt"/><line x1="812.2" y1="774.9" x2="823.7" y2="774.9" stroke="#000" stroke-width="2.8" stroke-linecap="butt"/><line x1="829.8" y1="737.0" x2="829.8" y2="757.5" stroke="#000" stroke-width="2.3" stroke-linecap="butt"/><line x1="824.1" y1="737.0" x2="835.6" y2="737.0" stroke="#000" stroke-width="2.8" stroke-linecap="butt"/><line x1="824.1" y1="757.5" x2="835.6" y2="757.5" stroke="#000" stroke-width="2.8" stroke-linecap="butt"/><line x1="841.7" y1="757.8" x2="841.7" y2="771.5" stroke="#000" stroke-width="2.3" stroke-linecap="butt"/><line x1="836.0" y1="757.8" x2="847.5" y2="757.8" stroke="#000" stroke-width="2.8" stroke-linecap="butt"/><line x1="836.0" y1="771.5" x2="847.5" y2="771.5" stroke="#000" stroke-width="2.8" stroke-linecap="butt"/><line x1="853.7" y1="749.3" x2="853.7" y2="790.3" stroke="#000" stroke-width="2.3" stroke-linecap="butt"/><line x1="847.9" y1="749.3" x2="859.4" y2="749.3" stroke="#000" stroke-width="2.8" stroke-linecap="butt"/><line x1="847.9" y1="790.3" x2="859.4" y2="790.3" stroke="#000" stroke-width="2.8" stroke-linecap="butt"/><line x1="865.6" y1="754.4" x2="865.6" y2="780.0" stroke="#000" stroke-width="2.3" stroke-linecap="butt"/><line x1="859.8" y1="754.4" x2="871.3" y2="754.4" stroke="#000" stroke-width="2.8" stroke-linecap="butt"/><line x1="859.8" y1="780.0" x2="871.3" y2="780.0" stroke="#000" stroke-width="2.8" stroke-linecap="butt"/><line x1="877.5" y1="751.0" x2="877.5" y2="774.9" stroke="#000" stroke-width="2.3" stroke-linecap="butt"/><line x1="871.8" y1="751.0" x2="883.2" y2="751.0" stroke="#000" stroke-width="2.8" stroke-linecap="butt"/><line x1="871.8" y1="774.9" x2="883.2" y2="774.9" stroke="#000" stroke-width="2.8" stroke-linecap="butt"/><line x1="889.4" y1="771.5" x2="889.4" y2="803.9" stroke="#000" stroke-width="2.3" stroke-linecap="butt"/><line x1="883.7" y1="771.5" x2="895.2" y2="771.5" stroke="#000" stroke-width="2.8" stroke-linecap="butt"/><line x1="883.7" y1="803.9" x2="895.2" y2="803.9" stroke="#000" stroke-width="2.8" stroke-linecap="butt"/><line x1="901.3" y1="783.8" x2="901.3" y2="796.8" stroke="#000" stroke-width="2.3" stroke-linecap="butt"/><line x1="895.6" y1="783.8" x2="907.1" y2="783.8" stroke="#000" stroke-width="2.8" stroke-linecap="butt"/><line x1="895.6" y1="796.8" x2="907.1" y2="796.8" stroke="#000" stroke-width="2.8" stroke-linecap="butt"/><line x1="913.3" y1="779.2" x2="913.3" y2="803.1" stroke="#000" stroke-width="2.3" stroke-linecap="butt"/><line x1="907.5" y1="779.2" x2="919.0" y2="779.2" stroke="#000" stroke-width="2.8" stroke-linecap="butt"/><line x1="907.5" y1="803.1" x2="919.0" y2="803.1" stroke="#000" stroke-width="2.8" stroke-linecap="butt"/><line x1="925.2" y1="760.4" x2="925.2" y2="782.6" stroke="#000" stroke-width="2.3" stroke-linecap="butt"/><line x1="919.4" y1="760.4" x2="930.9" y2="760.4" stroke="#000" stroke-width="2.8" stroke-linecap="butt"/><line x1="919.4" y1="782.6" x2="930.9" y2="782.6" stroke="#000" stroke-width="2.8" stroke-linecap="butt"/><line x1="937.1" y1="745.0" x2="937.1" y2="772.3" stroke="#000" stroke-width="2.3" stroke-linecap="butt"/><line x1="931.4" y1="745.0" x2="942.9" y2="745.0" stroke="#000" stroke-width="2.8" stroke-linecap="butt"/><line x1="931.4" y1="772.3" x2="942.9" y2="772.3" stroke="#000" stroke-width="2.8" stroke-linecap="butt"/><line x1="949.0" y1="740.8" x2="949.0" y2="759.5" stroke="#000" stroke-width="2.3" stroke-linecap="butt"/><line x1="943.3" y1="740.8" x2="954.8" y2="740.8" stroke="#000" stroke-width="2.8" stroke-linecap="butt"/><line x1="943.3" y1="759.5" x2="954.8" y2="759.5" stroke="#000" stroke-width="2.8" stroke-linecap="butt"/><line x1="960.9" y1="764.7" x2="960.9" y2="792.0" stroke="#000" stroke-width="2.3" stroke-linecap="butt"/><line x1="955.2" y1="764.7" x2="966.7" y2="764.7" stroke="#000" stroke-width="2.8" stroke-linecap="butt"/><line x1="955.2" y1="792.0" x2="966.7" y2="792.0" stroke="#000" stroke-width="2.8" stroke-linecap="butt"/><line x1="972.9" y1="794.5" x2="972.9" y2="823.6" stroke="#000" stroke-width="2.3" stroke-linecap="butt"/><line x1="967.1" y1="794.5" x2="978.6" y2="794.5" stroke="#000" stroke-width="2.8" stroke-linecap="butt"/><line x1="967.1" y1="823.6" x2="978.6" y2="823.6" stroke="#000" stroke-width="2.8" stroke-linecap="butt"/><line x1="984.8" y1="802.2" x2="984.8" y2="821.0" stroke="#000" stroke-width="2.3" stroke-linecap="butt"/><line x1="979.0" y1="802.2" x2="990.5" y2="802.2" stroke="#000" stroke-width="2.8" stroke-linecap="butt"/><line x1="979.0" y1="821.0" x2="990.5" y2="821.0" stroke="#000" stroke-width="2.8" stroke-linecap="butt"/><line x1="996.7" y1="802.2" x2="996.7" y2="829.5" stroke="#000" stroke-width="2.3" stroke-linecap="butt"/><line x1="991.0" y1="802.2" x2="1002.5" y2="802.2" stroke="#000" stroke-width="2.8" stroke-linecap="butt"/><line x1="991.0" y1="829.5" x2="1002.5" y2="829.5" stroke="#000" stroke-width="2.8" stroke-linecap="butt"/><line x1="1008.6" y1="807.3" x2="1008.6" y2="821.0" stroke="#000" stroke-width="2.3" stroke-linecap="butt"/><line x1="1002.9" y1="807.3" x2="1014.4" y2="807.3" stroke="#000" stroke-width="2.8" stroke-linecap="butt"/><line x1="1002.9" y1="821.0" x2="1014.4" y2="821.0" stroke="#000" stroke-width="2.8" stroke-linecap="butt"/><line x1="1020.5" y1="804.8" x2="1020.5" y2="838.9" stroke="#000" stroke-width="2.3" stroke-linecap="butt"/><line x1="1014.8" y1="804.8" x2="1026.3" y2="804.8" stroke="#000" stroke-width="2.8" stroke-linecap="butt"/><line x1="1014.8" y1="838.9" x2="1026.3" y2="838.9" stroke="#000" stroke-width="2.8" stroke-linecap="butt"/><line x1="1032.5" y1="809.1" x2="1032.5" y2="826.1" stroke="#000" stroke-width="2.3" stroke-linecap="butt"/><line x1="1026.7" y1="809.1" x2="1038.2" y2="809.1" stroke="#000" stroke-width="2.8" stroke-linecap="butt"/><line x1="1026.7" y1="826.1" x2="1038.2" y2="826.1" stroke="#000" stroke-width="2.8" stroke-linecap="butt"/><line x1="1044.4" y1="816.7" x2="1044.4" y2="838.9" stroke="#000" stroke-width="2.3" stroke-linecap="butt"/><line x1="1038.6" y1="816.7" x2="1050.1" y2="816.7" stroke="#000" stroke-width="2.8" stroke-linecap="butt"/><line x1="1038.6" y1="838.9" x2="1050.1" y2="838.9" stroke="#000" stroke-width="2.8" stroke-linecap="butt"/><line x1="1056.3" y1="820.2" x2="1056.3" y2="837.2" stroke="#000" stroke-width="2.3" stroke-linecap="butt"/><line x1="1050.5" y1="820.2" x2="1062.0" y2="820.2" stroke="#000" stroke-width="2.8" stroke-linecap="butt"/><line x1="1050.5" y1="837.2" x2="1062.0" y2="837.2" stroke="#000" stroke-width="2.8" stroke-linecap="butt"/><line x1="1068.2" y1="809.1" x2="1068.2" y2="824.4" stroke="#000" stroke-width="2.3" stroke-linecap="butt"/><line x1="1062.5" y1="809.1" x2="1074.0" y2="809.1" stroke="#000" stroke-width="2.8" stroke-linecap="butt"/><line x1="1062.5" y1="824.4" x2="1074.0" y2="824.4" stroke="#000" stroke-width="2.8" stroke-linecap="butt"/><line x1="1080.1" y1="806.5" x2="1080.1" y2="832.1" stroke="#000" stroke-width="2.3" stroke-linecap="butt"/><line x1="1074.4" y1="806.5" x2="1085.9" y2="806.5" stroke="#000" stroke-width="2.8" stroke-linecap="butt"/><line x1="1074.4" y1="832.1" x2="1085.9" y2="832.1" stroke="#000" stroke-width="2.8" stroke-linecap="butt"/><line x1="1092.1" y1="780.9" x2="1092.1" y2="804.8" stroke="#000" stroke-width="2.3" stroke-linecap="butt"/><line x1="1086.3" y1="780.9" x2="1097.8" y2="780.9" stroke="#000" stroke-width="2.8" stroke-linecap="butt"/><line x1="1086.3" y1="804.8" x2="1097.8" y2="804.8" stroke="#000" stroke-width="2.8" stroke-linecap="butt"/><line x1="1104.0" y1="752.7" x2="1104.0" y2="778.3" stroke="#000" stroke-width="2.3" stroke-linecap="butt"/><line x1="1098.2" y1="752.7" x2="1109.7" y2="752.7" stroke="#000" stroke-width="2.8" stroke-linecap="butt"/><line x1="1098.2" y1="778.3" x2="1109.7" y2="778.3" stroke="#000" stroke-width="2.8" stroke-linecap="butt"/><line x1="1115.9" y1="745.9" x2="1115.9" y2="774.9" stroke="#000" stroke-width="2.3" stroke-linecap="butt"/><line x1="1110.2" y1="745.9" x2="1121.7" y2="745.9" stroke="#000" stroke-width="2.8" stroke-linecap="butt"/><line x1="1110.2" y1="774.9" x2="1121.7" y2="774.9" stroke="#000" stroke-width="2.8" stroke-linecap="butt"/><line x1="1127.8" y1="751.9" x2="1127.8" y2="786.0" stroke="#000" stroke-width="2.3" stroke-linecap="butt"/><line x1="1122.1" y1="751.9" x2="1133.6" y2="751.9" stroke="#000" stroke-width="2.8" stroke-linecap="butt"/><line x1="1122.1" y1="786.0" x2="1133.6" y2="786.0" stroke="#000" stroke-width="2.8" stroke-linecap="butt"/><line x1="1139.7" y1="752.7" x2="1139.7" y2="771.5" stroke="#000" stroke-width="2.3" stroke-linecap="butt"/><line x1="1134.0" y1="752.7" x2="1145.5" y2="752.7" stroke="#000" stroke-width="2.8" stroke-linecap="butt"/><line x1="1134.0" y1="771.5" x2="1145.5" y2="771.5" stroke="#000" stroke-width="2.8" stroke-linecap="butt"/><line x1="1151.7" y1="748.4" x2="1151.7" y2="767.2" stroke="#000" stroke-width="2.3" stroke-linecap="butt"/><line x1="1145.9" y1="748.4" x2="1157.4" y2="748.4" stroke="#000" stroke-width="2.8" stroke-linecap="butt"/><line x1="1145.9" y1="767.2" x2="1157.4" y2="767.2" stroke="#000" stroke-width="2.8" stroke-linecap="butt"/><line x1="1163.6" y1="755.3" x2="1163.6" y2="780.9" stroke="#000" stroke-width="2.3" stroke-linecap="butt"/><line x1="1157.8" y1="755.3" x2="1169.3" y2="755.3" stroke="#000" stroke-width="2.8" stroke-linecap="butt"/><line x1="1157.8" y1="780.9" x2="1169.3" y2="780.9" stroke="#000" stroke-width="2.8" stroke-linecap="butt"/><line x1="1175.5" y1="767.2" x2="1175.5" y2="796.2" stroke="#000" stroke-width="2.3" stroke-linecap="butt"/><line x1="1169.8" y1="767.2" x2="1181.2" y2="767.2" stroke="#000" stroke-width="2.8" stroke-linecap="butt"/><line x1="1169.8" y1="796.2" x2="1181.2" y2="796.2" stroke="#000" stroke-width="2.8" stroke-linecap="butt"/><line x1="1187.4" y1="772.3" x2="1187.4" y2="789.4" stroke="#000" stroke-width="2.3" stroke-linecap="butt"/><line x1="1181.7" y1="772.3" x2="1193.2" y2="772.3" stroke="#000" stroke-width="2.8" stroke-linecap="butt"/><line x1="1181.7" y1="789.4" x2="1193.2" y2="789.4" stroke="#000" stroke-width="2.8" stroke-linecap="butt"/><line x1="1199.3" y1="780.9" x2="1199.3" y2="799.7" stroke="#000" stroke-width="2.3" stroke-linecap="butt"/><line x1="1193.6" y1="780.9" x2="1205.1" y2="780.9" stroke="#000" stroke-width="2.8" stroke-linecap="butt"/><line x1="1193.6" y1="799.7" x2="1205.1" y2="799.7" stroke="#000" stroke-width="2.8" stroke-linecap="butt"/><line x1="1211.3" y1="765.5" x2="1211.3" y2="791.1" stroke="#000" stroke-width="2.3" stroke-linecap="butt"/><line x1="1205.5" y1="765.5" x2="1217.0" y2="765.5" stroke="#000" stroke-width="2.8" stroke-linecap="butt"/><line x1="1205.5" y1="791.1" x2="1217.0" y2="791.1" stroke="#000" stroke-width="2.8" stroke-linecap="butt"/><line x1="1223.2" y1="746.7" x2="1223.2" y2="779.2" stroke="#000" stroke-width="2.3" stroke-linecap="butt"/><line x1="1217.4" y1="746.7" x2="1228.9" y2="746.7" stroke="#000" stroke-width="2.8" stroke-linecap="butt"/><line x1="1217.4" y1="779.2" x2="1228.9" y2="779.2" stroke="#000" stroke-width="2.8" stroke-linecap="butt"/><line x1="1235.1" y1="734.1" x2="1235.1" y2="760.4" stroke="#000" stroke-width="2.3" stroke-linecap="butt"/><line x1="1229.4" y1="734.1" x2="1240.9" y2="734.1" stroke="#000" stroke-width="2.8" stroke-linecap="butt"/><line x1="1229.4" y1="760.4" x2="1240.9" y2="760.4" stroke="#000" stroke-width="2.8" stroke-linecap="butt"/><line x1="1247.0" y1="770.6" x2="1247.0" y2="803.1" stroke="#000" stroke-width="2.3" stroke-linecap="butt"/><line x1="1241.3" y1="770.6" x2="1252.8" y2="770.6" stroke="#000" stroke-width="2.8" stroke-linecap="butt"/><line x1="1241.3" y1="803.1" x2="1252.8" y2="803.1" stroke="#000" stroke-width="2.8" stroke-linecap="butt"/><line x1="1258.9" y1="802.2" x2="1258.9" y2="817.6" stroke="#000" stroke-width="2.3" stroke-linecap="butt"/><line x1="1253.2" y1="802.2" x2="1264.7" y2="802.2" stroke="#000" stroke-width="2.8" stroke-linecap="butt"/><line x1="1253.2" y1="817.6" x2="1264.7" y2="817.6" stroke="#000" stroke-width="2.8" stroke-linecap="butt"/><line x1="1270.9" y1="813.3" x2="1270.9" y2="833.8" stroke="#000" stroke-width="2.3" stroke-linecap="butt"/><line x1="1265.1" y1="813.3" x2="1276.6" y2="813.3" stroke="#000" stroke-width="2.8" stroke-linecap="butt"/><line x1="1265.1" y1="833.8" x2="1276.6" y2="833.8" stroke="#000" stroke-width="2.8" stroke-linecap="butt"/><line x1="1282.8" y1="822.2" x2="1282.8" y2="835.2" stroke="#000" stroke-width="2.3" stroke-linecap="butt"/><line x1="1277.0" y1="822.2" x2="1288.5" y2="822.2" stroke="#000" stroke-width="2.8" stroke-linecap="butt"/><line x1="1277.0" y1="835.2" x2="1288.5" y2="835.2" stroke="#000" stroke-width="2.8" stroke-linecap="butt"/><line x1="1294.7" y1="810.8" x2="1294.7" y2="841.5" stroke="#000" stroke-width="2.3" stroke-linecap="butt"/><line x1="1289.0" y1="810.8" x2="1300.5" y2="810.8" stroke="#000" stroke-width="2.8" stroke-linecap="butt"/><line x1="1289.0" y1="841.5" x2="1300.5" y2="841.5" stroke="#000" stroke-width="2.8" stroke-linecap="butt"/><line x1="1306.6" y1="800.5" x2="1306.6" y2="817.6" stroke="#000" stroke-width="2.3" stroke-linecap="butt"/><line x1="1300.9" y1="800.5" x2="1312.4" y2="800.5" stroke="#000" stroke-width="2.8" stroke-linecap="butt"/><line x1="1300.9" y1="817.6" x2="1312.4" y2="817.6" stroke="#000" stroke-width="2.8" stroke-linecap="butt"/><line x1="1318.5" y1="823.6" x2="1318.5" y2="842.4" stroke="#000" stroke-width="2.3" stroke-linecap="butt"/><line x1="1312.8" y1="823.6" x2="1324.3" y2="823.6" stroke="#000" stroke-width="2.8" stroke-linecap="butt"/><line x1="1312.8" y1="842.4" x2="1324.3" y2="842.4" stroke="#000" stroke-width="2.8" stroke-linecap="butt"/><line x1="1330.5" y1="817.6" x2="1330.5" y2="830.6" stroke="#000" stroke-width="2.3" stroke-linecap="butt"/><line x1="1324.7" y1="817.6" x2="1336.2" y2="817.6" stroke="#000" stroke-width="2.8" stroke-linecap="butt"/><line x1="1324.7" y1="830.6" x2="1336.2" y2="830.6" stroke="#000" stroke-width="2.8" stroke-linecap="butt"/><line x1="1342.4" y1="811.1" x2="1342.4" y2="824.1" stroke="#000" stroke-width="2.3" stroke-linecap="butt"/><line x1="1336.6" y1="811.1" x2="1348.1" y2="811.1" stroke="#000" stroke-width="2.8" stroke-linecap="butt"/><line x1="1336.6" y1="824.1" x2="1348.1" y2="824.1" stroke="#000" stroke-width="2.8" stroke-linecap="butt"/><line x1="1354.3" y1="822.7" x2="1354.3" y2="836.4" stroke="#000" stroke-width="2.3" stroke-linecap="butt"/><line x1="1348.5" y1="822.7" x2="1360.0" y2="822.7" stroke="#000" stroke-width="2.8" stroke-linecap="butt"/><line x1="1348.5" y1="836.4" x2="1360.0" y2="836.4" stroke="#000" stroke-width="2.8" stroke-linecap="butt"/><line x1="1366.2" y1="821.9" x2="1366.2" y2="845.8" stroke="#000" stroke-width="2.3" stroke-linecap="butt"/><line x1="1360.5" y1="821.9" x2="1372.0" y2="821.9" stroke="#000" stroke-width="2.8" stroke-linecap="butt"/><line x1="1360.5" y1="845.8" x2="1372.0" y2="845.8" stroke="#000" stroke-width="2.8" stroke-linecap="butt"/><line x1="1378.1" y1="806.8" x2="1378.1" y2="819.8" stroke="#000" stroke-width="2.3" stroke-linecap="butt"/><line x1="1372.4" y1="806.8" x2="1383.9" y2="806.8" stroke="#000" stroke-width="2.8" stroke-linecap="butt"/><line x1="1372.4" y1="819.8" x2="1383.9" y2="819.8" stroke="#000" stroke-width="2.8" stroke-linecap="butt"/><line x1="1390.1" y1="768.1" x2="1390.1" y2="790.3" stroke="#000" stroke-width="2.3" stroke-linecap="butt"/><line x1="1384.3" y1="768.1" x2="1395.8" y2="768.1" stroke="#000" stroke-width="2.8" stroke-linecap="butt"/><line x1="1384.3" y1="790.3" x2="1395.8" y2="790.3" stroke="#000" stroke-width="2.8" stroke-linecap="butt"/><line x1="1402.0" y1="757.8" x2="1402.0" y2="785.2" stroke="#000" stroke-width="2.3" stroke-linecap="butt"/><line x1="1396.2" y1="757.8" x2="1407.7" y2="757.8" stroke="#000" stroke-width="2.8" stroke-linecap="butt"/><line x1="1396.2" y1="785.2" x2="1407.7" y2="785.2" stroke="#000" stroke-width="2.8" stroke-linecap="butt"/><line x1="1413.9" y1="760.4" x2="1413.9" y2="791.1" stroke="#000" stroke-width="2.3" stroke-linecap="butt"/><line x1="1408.2" y1="760.4" x2="1419.7" y2="760.4" stroke="#000" stroke-width="2.8" stroke-linecap="butt"/><line x1="1408.2" y1="791.1" x2="1419.7" y2="791.1" stroke="#000" stroke-width="2.8" stroke-linecap="butt"/><line x1="1425.8" y1="770.6" x2="1425.8" y2="794.5" stroke="#000" stroke-width="2.3" stroke-linecap="butt"/><line x1="1420.1" y1="770.6" x2="1431.6" y2="770.6" stroke="#000" stroke-width="2.8" stroke-linecap="butt"/><line x1="1420.1" y1="794.5" x2="1431.6" y2="794.5" stroke="#000" stroke-width="2.8" stroke-linecap="butt"/><line x1="1437.7" y1="778.3" x2="1437.7" y2="803.9" stroke="#000" stroke-width="2.3" stroke-linecap="butt"/><line x1="1432.0" y1="778.3" x2="1443.5" y2="778.3" stroke="#000" stroke-width="2.8" stroke-linecap="butt"/><line x1="1432.0" y1="803.9" x2="1443.5" y2="803.9" stroke="#000" stroke-width="2.8" stroke-linecap="butt"/><line x1="1449.7" y1="775.8" x2="1449.7" y2="804.8" stroke="#000" stroke-width="2.3" stroke-linecap="butt"/><line x1="1443.9" y1="775.8" x2="1455.4" y2="775.8" stroke="#000" stroke-width="2.8" stroke-linecap="butt"/><line x1="1443.9" y1="804.8" x2="1455.4" y2="804.8" stroke="#000" stroke-width="2.8" stroke-linecap="butt"/><line x1="1461.6" y1="762.1" x2="1461.6" y2="801.4" stroke="#000" stroke-width="2.3" stroke-linecap="butt"/><line x1="1455.8" y1="762.1" x2="1467.3" y2="762.1" stroke="#000" stroke-width="2.8" stroke-linecap="butt"/><line x1="1455.8" y1="801.4" x2="1467.3" y2="801.4" stroke="#000" stroke-width="2.8" stroke-linecap="butt"/><line x1="1473.5" y1="757.8" x2="1473.5" y2="795.4" stroke="#000" stroke-width="2.3" stroke-linecap="butt"/><line x1="1467.8" y1="757.8" x2="1479.2" y2="757.8" stroke="#000" stroke-width="2.8" stroke-linecap="butt"/><line x1="1467.8" y1="795.4" x2="1479.2" y2="795.4" stroke="#000" stroke-width="2.8" stroke-linecap="butt"/><line x1="1485.4" y1="774.1" x2="1485.4" y2="804.8" stroke="#000" stroke-width="2.3" stroke-linecap="butt"/><line x1="1479.7" y1="774.1" x2="1491.2" y2="774.1" stroke="#000" stroke-width="2.8" stroke-linecap="butt"/><line x1="1479.7" y1="804.8" x2="1491.2" y2="804.8" stroke="#000" stroke-width="2.8" stroke-linecap="butt"/><line x1="1497.3" y1="776.6" x2="1497.3" y2="795.4" stroke="#000" stroke-width="2.3" stroke-linecap="butt"/><line x1="1491.6" y1="776.6" x2="1503.1" y2="776.6" stroke="#000" stroke-width="2.8" stroke-linecap="butt"/><line x1="1491.6" y1="795.4" x2="1503.1" y2="795.4" stroke="#000" stroke-width="2.8" stroke-linecap="butt"/><line x1="1509.3" y1="764.7" x2="1509.3" y2="790.3" stroke="#000" stroke-width="2.3" stroke-linecap="butt"/><line x1="1503.5" y1="764.7" x2="1515.0" y2="764.7" stroke="#000" stroke-width="2.8" stroke-linecap="butt"/><line x1="1503.5" y1="790.3" x2="1515.0" y2="790.3" stroke="#000" stroke-width="2.8" stroke-linecap="butt"/><line x1="1521.2" y1="754.4" x2="1521.2" y2="781.7" stroke="#000" stroke-width="2.3" stroke-linecap="butt"/><line x1="1515.4" y1="754.4" x2="1526.9" y2="754.4" stroke="#000" stroke-width="2.8" stroke-linecap="butt"/><line x1="1515.4" y1="781.7" x2="1526.9" y2="781.7" stroke="#000" stroke-width="2.8" stroke-linecap="butt"/><line x1="1533.1" y1="789.4" x2="1533.1" y2="809.9" stroke="#000" stroke-width="2.3" stroke-linecap="butt"/><line x1="1527.4" y1="789.4" x2="1538.9" y2="789.4" stroke="#000" stroke-width="2.8" stroke-linecap="butt"/><line x1="1527.4" y1="809.9" x2="1538.9" y2="809.9" stroke="#000" stroke-width="2.8" stroke-linecap="butt"/><line x1="1545.0" y1="806.5" x2="1545.0" y2="833.8" stroke="#000" stroke-width="2.3" stroke-linecap="butt"/><line x1="1539.3" y1="806.5" x2="1550.8" y2="806.5" stroke="#000" stroke-width="2.8" stroke-linecap="butt"/><line x1="1539.3" y1="833.8" x2="1550.8" y2="833.8" stroke="#000" stroke-width="2.8" stroke-linecap="butt"/><line x1="1556.9" y1="823.1" x2="1556.9" y2="836.0" stroke="#000" stroke-width="2.3" stroke-linecap="butt"/><line x1="1551.2" y1="823.1" x2="1562.7" y2="823.1" stroke="#000" stroke-width="2.8" stroke-linecap="butt"/><line x1="1551.2" y1="836.0" x2="1562.7" y2="836.0" stroke="#000" stroke-width="2.8" stroke-linecap="butt"/><line x1="1568.9" y1="839.8" x2="1568.9" y2="862.0" stroke="#000" stroke-width="2.3" stroke-linecap="butt"/><line x1="1563.1" y1="839.8" x2="1574.6" y2="839.8" stroke="#000" stroke-width="2.8" stroke-linecap="butt"/><line x1="1563.1" y1="862.0" x2="1574.6" y2="862.0" stroke="#000" stroke-width="2.8" stroke-linecap="butt"/><line x1="1580.8" y1="806.5" x2="1580.8" y2="821.9" stroke="#000" stroke-width="2.3" stroke-linecap="butt"/><line x1="1575.0" y1="806.5" x2="1586.5" y2="806.5" stroke="#000" stroke-width="2.8" stroke-linecap="butt"/><line x1="1575.0" y1="821.9" x2="1586.5" y2="821.9" stroke="#000" stroke-width="2.8" stroke-linecap="butt"/><line x1="1592.7" y1="833.0" x2="1592.7" y2="856.9" stroke="#000" stroke-width="2.3" stroke-linecap="butt"/><line x1="1587.0" y1="833.0" x2="1598.5" y2="833.0" stroke="#000" stroke-width="2.8" stroke-linecap="butt"/><line x1="1587.0" y1="856.9" x2="1598.5" y2="856.9" stroke="#000" stroke-width="2.8" stroke-linecap="butt"/><line x1="1604.6" y1="811.6" x2="1604.6" y2="833.8" stroke="#000" stroke-width="2.3" stroke-linecap="butt"/><line x1="1598.9" y1="811.6" x2="1610.4" y2="811.6" stroke="#000" stroke-width="2.8" stroke-linecap="butt"/><line x1="1598.9" y1="833.8" x2="1610.4" y2="833.8" stroke="#000" stroke-width="2.8" stroke-linecap="butt"/><line x1="1616.5" y1="811.6" x2="1616.5" y2="833.8" stroke="#000" stroke-width="2.3" stroke-linecap="butt"/><line x1="1610.8" y1="811.6" x2="1622.3" y2="811.6" stroke="#000" stroke-width="2.8" stroke-linecap="butt"/><line x1="1610.8" y1="833.8" x2="1622.3" y2="833.8" stroke="#000" stroke-width="2.8" stroke-linecap="butt"/><line x1="1628.5" y1="797.1" x2="1628.5" y2="822.7" stroke="#000" stroke-width="2.3" stroke-linecap="butt"/><line x1="1622.7" y1="797.1" x2="1634.2" y2="797.1" stroke="#000" stroke-width="2.8" stroke-linecap="butt"/><line x1="1622.7" y1="822.7" x2="1634.2" y2="822.7" stroke="#000" stroke-width="2.8" stroke-linecap="butt"/><line x1="1640.4" y1="809.9" x2="1640.4" y2="832.1" stroke="#000" stroke-width="2.3" stroke-linecap="butt"/><line x1="1634.6" y1="809.9" x2="1646.1" y2="809.9" stroke="#000" stroke-width="2.8" stroke-linecap="butt"/><line x1="1634.6" y1="832.1" x2="1646.1" y2="832.1" stroke="#000" stroke-width="2.8" stroke-linecap="butt"/><line x1="1652.3" y1="793.7" x2="1652.3" y2="819.3" stroke="#000" stroke-width="2.3" stroke-linecap="butt"/><line x1="1646.5" y1="793.7" x2="1658.0" y2="793.7" stroke="#000" stroke-width="2.8" stroke-linecap="butt"/><line x1="1646.5" y1="819.3" x2="1658.0" y2="819.3" stroke="#000" stroke-width="2.8" stroke-linecap="butt"/><line x1="1664.2" y1="783.4" x2="1664.2" y2="803.9" stroke="#000" stroke-width="2.3" stroke-linecap="butt"/><line x1="1658.5" y1="783.4" x2="1670.0" y2="783.4" stroke="#000" stroke-width="2.8" stroke-linecap="butt"/><line x1="1658.5" y1="803.9" x2="1670.0" y2="803.9" stroke="#000" stroke-width="2.8" stroke-linecap="butt"/><line x1="1676.1" y1="757.8" x2="1676.1" y2="776.6" stroke="#000" stroke-width="2.3" stroke-linecap="butt"/><line x1="1670.4" y1="757.8" x2="1681.9" y2="757.8" stroke="#000" stroke-width="2.8" stroke-linecap="butt"/><line x1="1670.4" y1="776.6" x2="1681.9" y2="776.6" stroke="#000" stroke-width="2.8" stroke-linecap="butt"/><line x1="1688.1" y1="756.1" x2="1688.1" y2="774.9" stroke="#000" stroke-width="2.3" stroke-linecap="butt"/><line x1="1682.3" y1="756.1" x2="1693.8" y2="756.1" stroke="#000" stroke-width="2.8" stroke-linecap="butt"/><line x1="1682.3" y1="774.9" x2="1693.8" y2="774.9" stroke="#000" stroke-width="2.8" stroke-linecap="butt"/><line x1="1700.0" y1="757.8" x2="1700.0" y2="774.9" stroke="#000" stroke-width="2.3" stroke-linecap="butt"/><line x1="1694.2" y1="757.8" x2="1705.7" y2="757.8" stroke="#000" stroke-width="2.8" stroke-linecap="butt"/><line x1="1694.2" y1="774.9" x2="1705.7" y2="774.9" stroke="#000" stroke-width="2.8" stroke-linecap="butt"/><line x1="1711.9" y1="762.1" x2="1711.9" y2="780.9" stroke="#000" stroke-width="2.3" stroke-linecap="butt"/><line x1="1706.2" y1="762.1" x2="1717.7" y2="762.1" stroke="#000" stroke-width="2.8" stroke-linecap="butt"/><line x1="1706.2" y1="780.9" x2="1717.7" y2="780.9" stroke="#000" stroke-width="2.8" stroke-linecap="butt"/><line x1="1723.8" y1="761.2" x2="1723.8" y2="778.3" stroke="#000" stroke-width="2.3" stroke-linecap="butt"/><line x1="1718.1" y1="761.2" x2="1729.6" y2="761.2" stroke="#000" stroke-width="2.8" stroke-linecap="butt"/><line x1="1718.1" y1="778.3" x2="1729.6" y2="778.3" stroke="#000" stroke-width="2.8" stroke-linecap="butt"/><line x1="1735.7" y1="746.7" x2="1735.7" y2="774.1" stroke="#000" stroke-width="2.3" stroke-linecap="butt"/><line x1="1730.0" y1="746.7" x2="1741.5" y2="746.7" stroke="#000" stroke-width="2.8" stroke-linecap="butt"/><line x1="1730.0" y1="774.1" x2="1741.5" y2="774.1" stroke="#000" stroke-width="2.8" stroke-linecap="butt"/><line x1="1747.7" y1="757.8" x2="1747.7" y2="774.9" stroke="#000" stroke-width="2.3" stroke-linecap="butt"/><line x1="1741.9" y1="757.8" x2="1753.4" y2="757.8" stroke="#000" stroke-width="2.8" stroke-linecap="butt"/><line x1="1741.9" y1="774.9" x2="1753.4" y2="774.9" stroke="#000" stroke-width="2.8" stroke-linecap="butt"/><line x1="1759.6" y1="758.7" x2="1759.6" y2="786.0" stroke="#000" stroke-width="2.3" stroke-linecap="butt"/><line x1="1753.8" y1="758.7" x2="1765.3" y2="758.7" stroke="#000" stroke-width="2.8" stroke-linecap="butt"/><line x1="1753.8" y1="786.0" x2="1765.3" y2="786.0" stroke="#000" stroke-width="2.8" stroke-linecap="butt"/><line x1="1771.5" y1="749.3" x2="1771.5" y2="785.2" stroke="#000" stroke-width="2.3" stroke-linecap="butt"/><line x1="1765.8" y1="749.3" x2="1777.2" y2="749.3" stroke="#000" stroke-width="2.8" stroke-linecap="butt"/><line x1="1765.8" y1="785.2" x2="1777.2" y2="785.2" stroke="#000" stroke-width="2.8" stroke-linecap="butt"/><line x1="1783.4" y1="749.3" x2="1783.4" y2="776.6" stroke="#000" stroke-width="2.3" stroke-linecap="butt"/><line x1="1777.7" y1="749.3" x2="1789.2" y2="749.3" stroke="#000" stroke-width="2.8" stroke-linecap="butt"/><line x1="1777.7" y1="776.6" x2="1789.2" y2="776.6" stroke="#000" stroke-width="2.8" stroke-linecap="butt"/><line x1="1795.3" y1="739.0" x2="1795.3" y2="764.7" stroke="#000" stroke-width="2.3" stroke-linecap="butt"/><line x1="1789.6" y1="739.0" x2="1801.1" y2="739.0" stroke="#000" stroke-width="2.8" stroke-linecap="butt"/><line x1="1789.6" y1="764.7" x2="1801.1" y2="764.7" stroke="#000" stroke-width="2.8" stroke-linecap="butt"/><line x1="1807.3" y1="735.6" x2="1807.3" y2="759.5" stroke="#000" stroke-width="2.3" stroke-linecap="butt"/><line x1="1801.5" y1="735.6" x2="1813.0" y2="735.6" stroke="#000" stroke-width="2.8" stroke-linecap="butt"/><line x1="1801.5" y1="759.5" x2="1813.0" y2="759.5" stroke="#000" stroke-width="2.8" stroke-linecap="butt"/><line x1="1819.2" y1="775.8" x2="1819.2" y2="798.0" stroke="#000" stroke-width="2.3" stroke-linecap="butt"/><line x1="1813.4" y1="775.8" x2="1824.9" y2="775.8" stroke="#000" stroke-width="2.8" stroke-linecap="butt"/><line x1="1813.4" y1="798.0" x2="1824.9" y2="798.0" stroke="#000" stroke-width="2.8" stroke-linecap="butt"/><line x1="1831.1" y1="794.5" x2="1831.1" y2="815.0" stroke="#000" stroke-width="2.3" stroke-linecap="butt"/><line x1="1825.4" y1="794.5" x2="1836.9" y2="794.5" stroke="#000" stroke-width="2.8" stroke-linecap="butt"/><line x1="1825.4" y1="815.0" x2="1836.9" y2="815.0" stroke="#000" stroke-width="2.8" stroke-linecap="butt"/><line x1="1843.0" y1="783.4" x2="1843.0" y2="800.5" stroke="#000" stroke-width="2.3" stroke-linecap="butt"/><line x1="1837.3" y1="783.4" x2="1848.8" y2="783.4" stroke="#000" stroke-width="2.8" stroke-linecap="butt"/><line x1="1837.3" y1="800.5" x2="1848.8" y2="800.5" stroke="#000" stroke-width="2.8" stroke-linecap="butt"/><line x1="1854.9" y1="819.6" x2="1854.9" y2="832.6" stroke="#000" stroke-width="2.3" stroke-linecap="butt"/><line x1="1849.2" y1="819.6" x2="1860.7" y2="819.6" stroke="#000" stroke-width="2.8" stroke-linecap="butt"/><line x1="1849.2" y1="832.6" x2="1860.7" y2="832.6" stroke="#000" stroke-width="2.8" stroke-linecap="butt"/><line x1="1866.9" y1="808.2" x2="1866.9" y2="821.9" stroke="#000" stroke-width="2.3" stroke-linecap="butt"/><line x1="1861.1" y1="808.2" x2="1872.6" y2="808.2" stroke="#000" stroke-width="2.8" stroke-linecap="butt"/><line x1="1861.1" y1="821.9" x2="1872.6" y2="821.9" stroke="#000" stroke-width="2.8" stroke-linecap="butt"/><line x1="1878.8" y1="806.5" x2="1878.8" y2="838.9" stroke="#000" stroke-width="2.3" stroke-linecap="butt"/><line x1="1873.0" y1="806.5" x2="1884.5" y2="806.5" stroke="#000" stroke-width="2.8" stroke-linecap="butt"/><line x1="1873.0" y1="838.9" x2="1884.5" y2="838.9" stroke="#000" stroke-width="2.8" stroke-linecap="butt"/><line x1="1890.7" y1="814.2" x2="1890.7" y2="829.5" stroke="#000" stroke-width="2.3" stroke-linecap="butt"/><line x1="1885.0" y1="814.2" x2="1896.5" y2="814.2" stroke="#000" stroke-width="2.8" stroke-linecap="butt"/><line x1="1885.0" y1="829.5" x2="1896.5" y2="829.5" stroke="#000" stroke-width="2.8" stroke-linecap="butt"/><line x1="1902.6" y1="818.4" x2="1902.6" y2="838.9" stroke="#000" stroke-width="2.3" stroke-linecap="butt"/><line x1="1896.9" y1="818.4" x2="1908.4" y2="818.4" stroke="#000" stroke-width="2.8" stroke-linecap="butt"/><line x1="1896.9" y1="838.9" x2="1908.4" y2="838.9" stroke="#000" stroke-width="2.8" stroke-linecap="butt"/><line x1="1914.5" y1="807.3" x2="1914.5" y2="831.3" stroke="#000" stroke-width="2.3" stroke-linecap="butt"/><line x1="1908.8" y1="807.3" x2="1920.3" y2="807.3" stroke="#000" stroke-width="2.8" stroke-linecap="butt"/><line x1="1908.8" y1="831.3" x2="1920.3" y2="831.3" stroke="#000" stroke-width="2.8" stroke-linecap="butt"/><line x1="1926.5" y1="810.8" x2="1926.5" y2="834.7" stroke="#000" stroke-width="2.3" stroke-linecap="butt"/><line x1="1920.7" y1="810.8" x2="1932.2" y2="810.8" stroke="#000" stroke-width="2.8" stroke-linecap="butt"/><line x1="1920.7" y1="834.7" x2="1932.2" y2="834.7" stroke="#000" stroke-width="2.8" stroke-linecap="butt"/><line x1="1938.4" y1="798.8" x2="1938.4" y2="817.6" stroke="#000" stroke-width="2.3" stroke-linecap="butt"/><line x1="1932.6" y1="798.8" x2="1944.1" y2="798.8" stroke="#000" stroke-width="2.8" stroke-linecap="butt"/><line x1="1932.6" y1="817.6" x2="1944.1" y2="817.6" stroke="#000" stroke-width="2.8" stroke-linecap="butt"/><line x1="1950.3" y1="778.3" x2="1950.3" y2="807.3" stroke="#000" stroke-width="2.3" stroke-linecap="butt"/><line x1="1944.5" y1="778.3" x2="1956.0" y2="778.3" stroke="#000" stroke-width="2.8" stroke-linecap="butt"/><line x1="1944.5" y1="807.3" x2="1956.0" y2="807.3" stroke="#000" stroke-width="2.8" stroke-linecap="butt"/><line x1="1962.2" y1="746.7" x2="1962.2" y2="772.3" stroke="#000" stroke-width="2.3" stroke-linecap="butt"/><line x1="1956.5" y1="746.7" x2="1968.0" y2="746.7" stroke="#000" stroke-width="2.8" stroke-linecap="butt"/><line x1="1956.5" y1="772.3" x2="1968.0" y2="772.3" stroke="#000" stroke-width="2.8" stroke-linecap="butt"/><line x1="1974.1" y1="733.9" x2="1974.1" y2="766.4" stroke="#000" stroke-width="2.3" stroke-linecap="butt"/><line x1="1968.4" y1="733.9" x2="1979.9" y2="733.9" stroke="#000" stroke-width="2.8" stroke-linecap="butt"/><line x1="1968.4" y1="766.4" x2="1979.9" y2="766.4" stroke="#000" stroke-width="2.8" stroke-linecap="butt"/><line x1="1986.1" y1="749.3" x2="1986.1" y2="771.5" stroke="#000" stroke-width="2.3" stroke-linecap="butt"/><line x1="1980.3" y1="749.3" x2="1991.8" y2="749.3" stroke="#000" stroke-width="2.8" stroke-linecap="butt"/><line x1="1980.3" y1="771.5" x2="1991.8" y2="771.5" stroke="#000" stroke-width="2.8" stroke-linecap="butt"/><line x1="1998.0" y1="751.0" x2="1998.0" y2="771.5" stroke="#000" stroke-width="2.3" stroke-linecap="butt"/><line x1="1992.2" y1="751.0" x2="2003.7" y2="751.0" stroke="#000" stroke-width="2.8" stroke-linecap="butt"/><line x1="1992.2" y1="771.5" x2="2003.7" y2="771.5" stroke="#000" stroke-width="2.8" stroke-linecap="butt"/><line x1="2009.9" y1="740.8" x2="2009.9" y2="763.0" stroke="#000" stroke-width="2.3" stroke-linecap="butt"/><line x1="2004.2" y1="740.8" x2="2015.7" y2="740.8" stroke="#000" stroke-width="2.8" stroke-linecap="butt"/><line x1="2004.2" y1="763.0" x2="2015.7" y2="763.0" stroke="#000" stroke-width="2.8" stroke-linecap="butt"/><line x1="2021.8" y1="753.6" x2="2021.8" y2="779.2" stroke="#000" stroke-width="2.3" stroke-linecap="butt"/><line x1="2016.1" y1="753.6" x2="2027.6" y2="753.6" stroke="#000" stroke-width="2.8" stroke-linecap="butt"/><line x1="2016.1" y1="779.2" x2="2027.6" y2="779.2" stroke="#000" stroke-width="2.8" stroke-linecap="butt"/><line x1="2033.7" y1="763.8" x2="2033.7" y2="789.4" stroke="#000" stroke-width="2.3" stroke-linecap="butt"/><line x1="2028.0" y1="763.8" x2="2039.5" y2="763.8" stroke="#000" stroke-width="2.8" stroke-linecap="butt"/><line x1="2028.0" y1="789.4" x2="2039.5" y2="789.4" stroke="#000" stroke-width="2.8" stroke-linecap="butt"/><line x1="2045.7" y1="779.2" x2="2045.7" y2="792.8" stroke="#000" stroke-width="2.3" stroke-linecap="butt"/><line x1="2039.9" y1="779.2" x2="2051.4" y2="779.2" stroke="#000" stroke-width="2.8" stroke-linecap="butt"/><line x1="2039.9" y1="792.8" x2="2051.4" y2="792.8" stroke="#000" stroke-width="2.8" stroke-linecap="butt"/><line x1="2057.6" y1="769.8" x2="2057.6" y2="788.6" stroke="#000" stroke-width="2.3" stroke-linecap="butt"/><line x1="2051.8" y1="769.8" x2="2063.3" y2="769.8" stroke="#000" stroke-width="2.8" stroke-linecap="butt"/><line x1="2051.8" y1="788.6" x2="2063.3" y2="788.6" stroke="#000" stroke-width="2.8" stroke-linecap="butt"/><line x1="2069.5" y1="761.2" x2="2069.5" y2="774.9" stroke="#000" stroke-width="2.3" stroke-linecap="butt"/><line x1="2063.8" y1="761.2" x2="2075.2" y2="761.2" stroke="#000" stroke-width="2.8" stroke-linecap="butt"/><line x1="2063.8" y1="774.9" x2="2075.2" y2="774.9" stroke="#000" stroke-width="2.8" stroke-linecap="butt"/><line x1="2081.4" y1="736.5" x2="2081.4" y2="767.2" stroke="#000" stroke-width="2.3" stroke-linecap="butt"/><line x1="2075.7" y1="736.5" x2="2087.2" y2="736.5" stroke="#000" stroke-width="2.8" stroke-linecap="butt"/><line x1="2075.7" y1="767.2" x2="2087.2" y2="767.2" stroke="#000" stroke-width="2.8" stroke-linecap="butt"/><line x1="2093.3" y1="740.8" x2="2093.3" y2="757.8" stroke="#000" stroke-width="2.3" stroke-linecap="butt"/><line x1="2087.6" y1="740.8" x2="2099.1" y2="740.8" stroke="#000" stroke-width="2.8" stroke-linecap="butt"/><line x1="2087.6" y1="757.8" x2="2099.1" y2="757.8" stroke="#000" stroke-width="2.8" stroke-linecap="butt"/>
<polyline points="102.7,759.5 114.6,798.8 126.5,813.3 138.5,811.6 150.4,809.1 162.3,802.2 174.2,799.7 186.1,815.9 198.1,827.8 210.0,806.5 221.9,808.2 233.8,792.0 245.7,778.3 257.7,752.7 269.6,765.5 281.5,798.8 293.4,812.5 305.3,803.9 317.3,809.9 329.2,799.7 341.1,798.8 353.0,785.2 364.9,785.2 376.9,762.6 388.8,772.3 400.7,780.0 412.6,803.9 424.5,808.2 436.5,791.1 448.4,785.2 460.3,809.9 472.2,799.7 484.1,818.4 496.1,803.1 508.0,788.6 519.9,776.6 531.8,753.6 543.7,735.6 555.7,738.2 567.6,753.6 579.5,757.8 591.4,763.0 603.3,771.5 615.3,781.7 627.2,773.2 639.1,769.8 651.0,757.8 662.9,742.5 674.9,786.0 686.8,798.8 698.7,800.5 710.6,800.5 722.5,807.3 734.5,801.4 746.4,815.9 758.3,793.7 770.2,792.8 782.1,815.9 794.1,809.1 806.0,795.4 817.9,768.1 829.8,754.4 841.7,757.8 853.7,763.0 865.6,769.8 877.5,783.4 889.4,778.3 901.3,763.0 913.3,765.5 925.2,759.5 937.1,757.8 949.0,745.0 960.9,763.0 972.9,782.6 984.8,802.2 996.7,799.7 1008.6,795.4 1020.5,809.1 1032.5,797.1 1044.4,809.9 1056.3,814.2 1068.2,794.5 1080.1,803.1 1092.1,785.2 1104.0,736.5 1115.9,735.6 1127.8,727.9 1139.7,722.0 1151.7,734.8 1163.6,746.7 1175.5,748.4 1187.4,749.3 1199.3,754.4 1211.3,737.3 1223.2,735.6 1235.1,718.6 1247.0,763.0 1258.9,783.4 1270.9,795.4 1282.8,796.2 1294.7,801.4 1306.6,792.8 1318.5,804.8 1330.5,794.5 1342.4,796.2 1354.3,790.3 1366.2,794.5 1378.1,796.2 1390.1,716.0 1402.0,725.4 1413.9,743.3 1425.8,742.5 1437.7,745.9 1449.7,760.4 1461.6,753.6 1473.5,753.6 1485.4,745.9 1497.3,744.2 1509.3,733.9 1521.2,728.8 1533.1,744.2 1545.0,782.6 1556.9,777.5 1568.9,797.1 1580.8,798.0 1592.7,799.7 1604.6,806.5 1616.5,808.2 1628.5,790.3 1640.4,788.6 1652.3,796.2 1664.2,760.4 1676.1,734.8 1688.1,740.8 1700.0,735.6 1711.9,733.9 1723.8,748.4 1735.7,751.9 1747.7,739.9 1759.6,744.2 1771.5,756.1 1783.4,748.4 1795.3,730.5 1807.3,704.9 1819.2,739.0 1831.1,773.2 1843.0,775.8 1854.9,790.3 1866.9,784.3 1878.8,798.0 1890.7,798.0 1902.6,795.4 1914.5,786.0 1926.5,795.4 1938.4,796.2 1950.3,775.8 1962.2,742.5 1974.1,738.2 1986.1,739.9 1998.0,741.6 2009.9,758.7 2021.8,754.4 2033.7,759.5 2045.7,756.1 2057.6,759.5 2069.5,751.9 2081.4,730.5 2093.3,724.5" fill="none" stroke="#000" stroke-width="2.2" stroke-linejoin="round"/>
<polyline points="102.7,776.6 114.6,804.8 126.5,840.6 138.5,842.4 150.4,868.0 162.3,855.2 174.2,865.4 186.1,848.3 198.1,855.2 210.0,837.2 221.9,834.7 233.8,816.7 245.7,779.2 257.7,776.6 269.6,783.4 281.5,804.8 293.4,803.1 305.3,787.7 317.3,804.8 329.2,821.0 341.1,829.5 353.0,816.7 364.9,807.3 376.9,762.1 388.8,794.5 400.7,824.1 412.6,818.4 424.5,836.4 436.5,811.6 448.4,843.2 460.3,833.8 472.2,844.1 484.1,839.8 496.1,827.0 508.0,825.3 519.9,808.2 531.8,771.5 543.7,757.8 555.7,754.1 567.6,777.5 579.5,768.1 591.4,788.6 603.3,797.1 615.3,799.7 627.2,798.0 639.1,798.0 651.0,780.9 662.9,755.8 674.9,801.4 686.8,817.6 698.7,810.8 710.6,821.9 722.5,816.7 734.5,824.4 746.4,826.1 758.3,827.0 770.2,831.3 782.1,848.3 794.1,826.1 806.0,804.8 817.9,763.0 829.8,747.2 841.7,764.7 853.7,769.8 865.6,767.2 877.5,763.0 889.4,787.7 901.3,790.3 913.3,791.1 925.2,771.5 937.1,758.7 949.0,750.1 960.9,778.3 972.9,809.1 984.8,811.6 996.7,815.9 1008.6,814.2 1020.5,821.9 1032.5,817.6 1044.4,827.8 1056.3,828.7 1068.2,816.7 1080.1,819.3 1092.1,792.8 1104.0,765.5 1115.9,760.4 1127.8,768.9 1139.7,762.1 1151.7,757.8 1163.6,768.1 1175.5,781.7 1187.4,780.9 1199.3,790.3 1211.3,778.3 1223.2,763.0 1235.1,747.2 1247.0,786.9 1258.9,809.9 1270.9,823.6 1282.8,828.7 1294.7,826.1 1306.6,809.1 1318.5,833.0 1330.5,824.1 1342.4,817.6 1354.3,829.5 1366.2,833.8 1378.1,813.3 1390.1,779.2 1402.0,771.5 1413.9,775.8 1425.8,782.6 1437.7,791.1 1449.7,790.3 1461.6,781.7 1473.5,776.6 1485.4,789.4 1497.3,786.0 1509.3,777.5 1521.2,768.1 1533.1,799.7 1545.0,820.2 1556.9,829.5 1568.9,850.9 1580.8,814.2 1592.7,844.9 1604.6,822.7 1616.5,822.7 1628.5,809.9 1640.4,821.0 1652.3,806.5 1664.2,793.7 1676.1,767.2 1688.1,765.5 1700.0,766.4 1711.9,771.5 1723.8,769.8 1735.7,760.4 1747.7,766.4 1759.6,772.3 1771.5,767.2 1783.4,763.0 1795.3,751.9 1807.3,747.6 1819.2,786.9 1831.1,804.8 1843.0,792.0 1854.9,826.1 1866.9,815.0 1878.8,822.7 1890.7,821.9 1902.6,828.7 1914.5,819.3 1926.5,822.7 1938.4,808.2 1950.3,792.8 1962.2,759.5 1974.1,750.1 1986.1,760.4 1998.0,761.2 2009.9,751.9 2021.8,766.4 2033.7,776.6 2045.7,786.0 2057.6,779.2 2069.5,768.1 2081.4,751.9 2093.3,749.3" fill="none" stroke="#000" stroke-width="2.2" stroke-linejoin="round"/>
<circle cx="102.7" cy="759.5" r="6.9" fill="#000" stroke="#000" stroke-width="0.5"/><circle cx="114.6" cy="798.8" r="6.9" fill="#000" stroke="#000" stroke-width="0.5"/><circle cx="126.5" cy="813.3" r="6.9" fill="#000" stroke="#000" stroke-width="0.5"/><circle cx="138.5" cy="811.6" r="6.9" fill="#000" stroke="#000" stroke-width="0.5"/><circle cx="150.4" cy="809.1" r="6.9" fill="#000" stroke="#000" stroke-width="0.5"/><circle cx="162.3" cy="802.2" r="6.9" fill="#000" stroke="#000" stroke-width="0.5"/><circle cx="174.2" cy="799.7" r="6.9" fill="#000" stroke="#000" stroke-width="0.5"/><circle cx="186.1" cy="815.9" r="6.9" fill="#000" stroke="#000" stroke-width="0.5"/><circle cx="198.1" cy="827.8" r="6.9" fill="#000" stroke="#000" stroke-width="0.5"/><circle cx="210.0" cy="806.5" r="6.9" fill="#000" stroke="#000" stroke-width="0.5"/><circle cx="221.9" cy="808.2" r="6.9" fill="#000" stroke="#000" stroke-width="0.5"/><circle cx="233.8" cy="792.0" r="6.9" fill="#000" stroke="#000" stroke-width="0.5"/><circle cx="245.7" cy="778.3" r="6.9" fill="#000" stroke="#000" stroke-width="0.5"/><circle cx="257.7" cy="752.7" r="6.9" fill="#000" stroke="#000" stroke-width="0.5"/><circle cx="269.6" cy="765.5" r="6.9" fill="#000" stroke="#000" stroke-width="0.5"/><circle cx="281.5" cy="798.8" r="6.9" fill="#000" stroke="#000" stroke-width="0.5"/><circle cx="293.4" cy="812.5" r="6.9" fill="#000" stroke="#000" stroke-width="0.5"/><circle cx="305.3" cy="803.9" r="6.9" fill="#000" stroke="#000" stroke-width="0.5"/><circle cx="317.3" cy="809.9" r="6.9" fill="#000" stroke="#000" stroke-width="0.5"/><circle cx="329.2" cy="799.7" r="6.9" fill="#000" stroke="#000" stroke-width="0.5"/><circle cx="341.1" cy="798.8" r="6.9" fill="#000" stroke="#000" stroke-width="0.5"/><circle cx="353.0" cy="785.2" r="6.9" fill="#000" stroke="#000" stroke-width="0.5"/><circle cx="364.9" cy="785.2" r="6.9" fill="#000" stroke="#000" stroke-width="0.5"/><circle cx="376.9" cy="762.6" r="6.9" fill="#000" stroke="#000" stroke-width="0.5"/><circle cx="388.8" cy="772.3" r="6.9" fill="#000" stroke="#000" stroke-width="0.5"/><circle cx="400.7" cy="780.0" r="6.9" fill="#000" stroke="#000" stroke-width="0.5"/><circle cx="412.6" cy="803.9" r="6.9" fill="#000" stroke="#000" stroke-width="0.5"/><circle cx="424.5" cy="808.2" r="6.9" fill="#000" stroke="#000" stroke-width="0.5"/><circle cx="436.5" cy="791.1" r="6.9" fill="#000" stroke="#000" stroke-width="0.5"/><circle cx="448.4" cy="785.2" r="6.9" fill="#000" stroke="#000" stroke-width="0.5"/><circle cx="460.3" cy="809.9" r="6.9" fill="#000" stroke="#000" stroke-width="0.5"/><circle cx="472.2" cy="799.7" r="6.9" fill="#000" stroke="#000" stroke-width="0.5"/><circle cx="484.1" cy="818.4" r="6.9" fill="#000" stroke="#000" stroke-width="0.5"/><circle cx="496.1" cy="803.1" r="6.9" fill="#000" stroke="#000" stroke-width="0.5"/><circle cx="508.0" cy="788.6" r="6.9" fill="#000" stroke="#000" stroke-width="0.5"/><circle cx="519.9" cy="776.6" r="6.9" fill="#000" stroke="#000" stroke-width="0.5"/><circle cx="531.8" cy="753.6" r="6.9" fill="#000" stroke="#000" stroke-width="0.5"/><circle cx="543.7" cy="735.6" r="6.9" fill="#000" stroke="#000" stroke-width="0.5"/><circle cx="555.7" cy="738.2" r="6.9" fill="#000" stroke="#000" stroke-width="0.5"/><circle cx="567.6" cy="753.6" r="6.9" fill="#000" stroke="#000" stroke-width="0.5"/><circle cx="579.5" cy="757.8" r="6.9" fill="#000" stroke="#000" stroke-width="0.5"/><circle cx="591.4" cy="763.0" r="6.9" fill="#000" stroke="#000" stroke-width="0.5"/><circle cx="603.3" cy="771.5" r="6.9" fill="#000" stroke="#000" stroke-width="0.5"/><circle cx="615.3" cy="781.7" r="6.9" fill="#000" stroke="#000" stroke-width="0.5"/><circle cx="627.2" cy="773.2" r="6.9" fill="#000" stroke="#000" stroke-width="0.5"/><circle cx="639.1" cy="769.8" r="6.9" fill="#000" stroke="#000" stroke-width="0.5"/><circle cx="651.0" cy="757.8" r="6.9" fill="#000" stroke="#000" stroke-width="0.5"/><circle cx="662.9" cy="742.5" r="6.9" fill="#000" stroke="#000" stroke-width="0.5"/><circle cx="674.9" cy="786.0" r="6.9" fill="#000" stroke="#000" stroke-width="0.5"/><circle cx="686.8" cy="798.8" r="6.9" fill="#000" stroke="#000" stroke-width="0.5"/><circle cx="698.7" cy="800.5" r="6.9" fill="#000" stroke="#000" stroke-width="0.5"/><circle cx="710.6" cy="800.5" r="6.9" fill="#000" stroke="#000" stroke-width="0.5"/><circle cx="722.5" cy="807.3" r="6.9" fill="#000" stroke="#000" stroke-width="0.5"/><circle cx="734.5" cy="801.4" r="6.9" fill="#000" stroke="#000" stroke-width="0.5"/><circle cx="746.4" cy="815.9" r="6.9" fill="#000" stroke="#000" stroke-width="0.5"/><circle cx="758.3" cy="793.7" r="6.9" fill="#000" stroke="#000" stroke-width="0.5"/><circle cx="770.2" cy="792.8" r="6.9" fill="#000" stroke="#000" stroke-width="0.5"/><circle cx="782.1" cy="815.9" r="6.9" fill="#000" stroke="#000" stroke-width="0.5"/><circle cx="794.1" cy="809.1" r="6.9" fill="#000" stroke="#000" stroke-width="0.5"/><circle cx="806.0" cy="795.4" r="6.9" fill="#000" stroke="#000" stroke-width="0.5"/><circle cx="817.9" cy="768.1" r="6.9" fill="#000" stroke="#000" stroke-width="0.5"/><circle cx="829.8" cy="754.4" r="6.9" fill="#000" stroke="#000" stroke-width="0.5"/><circle cx="841.7" cy="757.8" r="6.9" fill="#000" stroke="#000" stroke-width="0.5"/><circle cx="853.7" cy="763.0" r="6.9" fill="#000" stroke="#000" stroke-width="0.5"/><circle cx="865.6" cy="769.8" r="6.9" fill="#000" stroke="#000" stroke-width="0.5"/><circle cx="877.5" cy="783.4" r="6.9" fill="#000" stroke="#000" stroke-width="0.5"/><circle cx="889.4" cy="778.3" r="6.9" fill="#000" stroke="#000" stroke-width="0.5"/><circle cx="901.3" cy="763.0" r="6.9" fill="#000" stroke="#000" stroke-width="0.5"/><circle cx="913.3" cy="765.5" r="6.9" fill="#000" stroke="#000" stroke-width="0.5"/><circle cx="925.2" cy="759.5" r="6.9" fill="#000" stroke="#000" stroke-width="0.5"/><circle cx="937.1" cy="757.8" r="6.9" fill="#000" stroke="#000" stroke-width="0.5"/><circle cx="949.0" cy="745.0" r="6.9" fill="#000" stroke="#000" stroke-width="0.5"/><circle cx="960.9" cy="763.0" r="6.9" fill="#000" stroke="#000" stroke-width="0.5"/><circle cx="972.9" cy="782.6" r="6.9" fill="#000" stroke="#000" stroke-width="0.5"/><circle cx="984.8" cy="802.2" r="6.9" fill="#000" stroke="#000" stroke-width="0.5"/><circle cx="996.7" cy="799.7" r="6.9" fill="#000" stroke="#000" stroke-width="0.5"/><circle cx="1008.6" cy="795.4" r="6.9" fill="#000" stroke="#000" stroke-width="0.5"/><circle cx="1020.5" cy="809.1" r="6.9" fill="#000" stroke="#000" stroke-width="0.5"/><circle cx="1032.5" cy="797.1" r="6.9" fill="#000" stroke="#000" stroke-width="0.5"/><circle cx="1044.4" cy="809.9" r="6.9" fill="#000" stroke="#000" stroke-width="0.5"/><circle cx="1056.3" cy="814.2" r="6.9" fill="#000" stroke="#000" stroke-width="0.5"/><circle cx="1068.2" cy="794.5" r="6.9" fill="#000" stroke="#000" stroke-width="0.5"/><circle cx="1080.1" cy="803.1" r="6.9" fill="#000" stroke="#000" stroke-width="0.5"/><circle cx="1092.1" cy="785.2" r="6.9" fill="#000" stroke="#000" stroke-width="0.5"/><circle cx="1104.0" cy="736.5" r="6.9" fill="#000" stroke="#000" stroke-width="0.5"/><circle cx="1115.9" cy="735.6" r="6.9" fill="#000" stroke="#000" stroke-width="0.5"/><circle cx="1127.8" cy="727.9" r="6.9" fill="#000" stroke="#000" stroke-width="0.5"/><circle cx="1139.7" cy="722.0" r="6.9" fill="#000" stroke="#000" stroke-width="0.5"/><circle cx="1151.7" cy="734.8" r="6.9" fill="#000" stroke="#000" stroke-width="0.5"/><circle cx="1163.6" cy="746.7" r="6.9" fill="#000" stroke="#000" stroke-width="0.5"/><circle cx="1175.5" cy="748.4" r="6.9" fill="#000" stroke="#000" stroke-width="0.5"/><circle cx="1187.4" cy="749.3" r="6.9" fill="#000" stroke="#000" stroke-width="0.5"/><circle cx="1199.3" cy="754.4" r="6.9" fill="#000" stroke="#000" stroke-width="0.5"/><circle cx="1211.3" cy="737.3" r="6.9" fill="#000" stroke="#000" stroke-width="0.5"/><circle cx="1223.2" cy="735.6" r="6.9" fill="#000" stroke="#000" stroke-width="0.5"/><circle cx="1235.1" cy="718.6" r="6.9" fill="#000" stroke="#000" stroke-width="0.5"/><circle cx="1247.0" cy="763.0" r="6.9" fill="#000" stroke="#000" stroke-width="0.5"/><circle cx="1258.9" cy="783.4" r="6.9" fill="#000" stroke="#000" stroke-width="0.5"/><circle cx="1270.9" cy="795.4" r="6.9" fill="#000" stroke="#000" stroke-width="0.5"/><circle cx="1282.8" cy="796.2" r="6.9" fill="#000" stroke="#000" stroke-width="0.5"/><circle cx="1294.7" cy="801.4" r="6.9" fill="#000" stroke="#000" stroke-width="0.5"/><circle cx="1306.6" cy="792.8" r="6.9" fill="#000" stroke="#000" stroke-width="0.5"/><circle cx="1318.5" cy="804.8" r="6.9" fill="#000" stroke="#000" stroke-width="0.5"/><circle cx="1330.5" cy="794.5" r="6.9" fill="#000" stroke="#000" stroke-width="0.5"/><circle cx="1342.4" cy="796.2" r="6.9" fill="#000" stroke="#000" stroke-width="0.5"/><circle cx="1354.3" cy="790.3" r="6.9" fill="#000" stroke="#000" stroke-width="0.5"/><circle cx="1366.2" cy="794.5" r="6.9" fill="#000" stroke="#000" stroke-width="0.5"/><circle cx="1378.1" cy="796.2" r="6.9" fill="#000" stroke="#000" stroke-width="0.5"/><circle cx="1390.1" cy="716.0" r="6.9" fill="#000" stroke="#000" stroke-width="0.5"/><circle cx="1402.0" cy="725.4" r="6.9" fill="#000" stroke="#000" stroke-width="0.5"/><circle cx="1413.9" cy="743.3" r="6.9" fill="#000" stroke="#000" stroke-width="0.5"/><circle cx="1425.8" cy="742.5" r="6.9" fill="#000" stroke="#000" stroke-width="0.5"/><circle cx="1437.7" cy="745.9" r="6.9" fill="#000" stroke="#000" stroke-width="0.5"/><circle cx="1449.7" cy="760.4" r="6.9" fill="#000" stroke="#000" stroke-width="0.5"/><circle cx="1461.6" cy="753.6" r="6.9" fill="#000" stroke="#000" stroke-width="0.5"/><circle cx="1473.5" cy="753.6" r="6.9" fill="#000" stroke="#000" stroke-width="0.5"/><circle cx="1485.4" cy="745.9" r="6.9" fill="#000" stroke="#000" stroke-width="0.5"/><circle cx="1497.3" cy="744.2" r="6.9" fill="#000" stroke="#000" stroke-width="0.5"/><circle cx="1509.3" cy="733.9" r="6.9" fill="#000" stroke="#000" stroke-width="0.5"/><circle cx="1521.2" cy="728.8" r="6.9" fill="#000" stroke="#000" stroke-width="0.5"/><circle cx="1533.1" cy="744.2" r="6.9" fill="#000" stroke="#000" stroke-width="0.5"/><circle cx="1545.0" cy="782.6" r="6.9" fill="#000" stroke="#000" stroke-width="0.5"/><circle cx="1556.9" cy="777.5" r="6.9" fill="#000" stroke="#000" stroke-width="0.5"/><circle cx="1568.9" cy="797.1" r="6.9" fill="#000" stroke="#000" stroke-width="0.5"/><circle cx="1580.8" cy="798.0" r="6.9" fill="#000" stroke="#000" stroke-width="0.5"/><circle cx="1592.7" cy="799.7" r="6.9" fill="#000" stroke="#000" stroke-width="0.5"/><circle cx="1604.6" cy="806.5" r="6.9" fill="#000" stroke="#000" stroke-width="0.5"/><circle cx="1616.5" cy="808.2" r="6.9" fill="#000" stroke="#000" stroke-width="0.5"/><circle cx="1628.5" cy="790.3" r="6.9" fill="#000" stroke="#000" stroke-width="0.5"/><circle cx="1640.4" cy="788.6" r="6.9" fill="#000" stroke="#000" stroke-width="0.5"/><circle cx="1652.3" cy="796.2" r="6.9" fill="#000" stroke="#000" stroke-width="0.5"/><circle cx="1664.2" cy="760.4" r="6.9" fill="#000" stroke="#000" stroke-width="0.5"/><circle cx="1676.1" cy="734.8" r="6.9" fill="#000" stroke="#000" stroke-width="0.5"/><circle cx="1688.1" cy="740.8" r="6.9" fill="#000" stroke="#000" stroke-width="0.5"/><circle cx="1700.0" cy="735.6" r="6.9" fill="#000" stroke="#000" stroke-width="0.5"/><circle cx="1711.9" cy="733.9" r="6.9" fill="#000" stroke="#000" stroke-width="0.5"/><circle cx="1723.8" cy="748.4" r="6.9" fill="#000" stroke="#000" stroke-width="0.5"/><circle cx="1735.7" cy="751.9" r="6.9" fill="#000" stroke="#000" stroke-width="0.5"/><circle cx="1747.7" cy="739.9" r="6.9" fill="#000" stroke="#000" stroke-width="0.5"/><circle cx="1759.6" cy="744.2" r="6.9" fill="#000" stroke="#000" stroke-width="0.5"/><circle cx="1771.5" cy="756.1" r="6.9" fill="#000" stroke="#000" stroke-width="0.5"/><circle cx="1783.4" cy="748.4" r="6.9" fill="#000" stroke="#000" stroke-width="0.5"/><circle cx="1795.3" cy="730.5" r="6.9" fill="#000" stroke="#000" stroke-width="0.5"/><circle cx="1807.3" cy="704.9" r="6.9" fill="#000" stroke="#000" stroke-width="0.5"/><circle cx="1819.2" cy="739.0" r="6.9" fill="#000" stroke="#000" stroke-width="0.5"/><circle cx="1831.1" cy="773.2" r="6.9" fill="#000" stroke="#000" stroke-width="0.5"/><circle cx="1843.0" cy="775.8" r="6.9" fill="#000" stroke="#000" stroke-width="0.5"/><circle cx="1854.9" cy="790.3" r="6.9" fill="#000" stroke="#000" stroke-width="0.5"/><circle cx="1866.9" cy="784.3" r="6.9" fill="#000" stroke="#000" stroke-width="0.5"/><circle cx="1878.8" cy="798.0" r="6.9" fill="#000" stroke="#000" stroke-width="0.5"/><circle cx="1890.7" cy="798.0" r="6.9" fill="#000" stroke="#000" stroke-width="0.5"/><circle cx="1902.6" cy="795.4" r="6.9" fill="#000" stroke="#000" stroke-width="0.5"/><circle cx="1914.5" cy="786.0" r="6.9" fill="#000" stroke="#000" stroke-width="0.5"/><circle cx="1926.5" cy="795.4" r="6.9" fill="#000" stroke="#000" stroke-width="0.5"/><circle cx="1938.4" cy="796.2" r="6.9" fill="#000" stroke="#000" stroke-width="0.5"/><circle cx="1950.3" cy="775.8" r="6.9" fill="#000" stroke="#000" stroke-width="0.5"/><circle cx="1962.2" cy="742.5" r="6.9" fill="#000" stroke="#000" stroke-width="0.5"/><circle cx="1974.1" cy="738.2" r="6.9" fill="#000" stroke="#000" stroke-width="0.5"/><circle cx="1986.1" cy="739.9" r="6.9" fill="#000" stroke="#000" stroke-width="0.5"/><circle cx="1998.0" cy="741.6" r="6.9" fill="#000" stroke="#000" stroke-width="0.5"/><circle cx="2009.9" cy="758.7" r="6.9" fill="#000" stroke="#000" stroke-width="0.5"/><circle cx="2021.8" cy="754.4" r="6.9" fill="#000" stroke="#000" stroke-width="0.5"/><circle cx="2033.7" cy="759.5" r="6.9" fill="#000" stroke="#000" stroke-width="0.5"/><circle cx="2045.7" cy="756.1" r="6.9" fill="#000" stroke="#000" stroke-width="0.5"/><circle cx="2057.6" cy="759.5" r="6.9" fill="#000" stroke="#000" stroke-width="0.5"/><circle cx="2069.5" cy="751.9" r="6.9" fill="#000" stroke="#000" stroke-width="0.5"/><circle cx="2081.4" cy="730.5" r="6.9" fill="#000" stroke="#000" stroke-width="0.5"/><circle cx="2093.3" cy="724.5" r="6.9" fill="#000" stroke="#000" stroke-width="0.5"/>
<circle cx="102.7" cy="776.6" r="5.7" fill="#d65a3a" stroke="#000" stroke-width="2.9"/><circle cx="114.6" cy="804.8" r="5.7" fill="#d65a3a" stroke="#000" stroke-width="2.9"/><circle cx="126.5" cy="840.6" r="5.7" fill="#d65a3a" stroke="#000" stroke-width="2.9"/><circle cx="138.5" cy="842.4" r="5.7" fill="#d65a3a" stroke="#000" stroke-width="2.9"/><circle cx="150.4" cy="868.0" r="5.7" fill="#d65a3a" stroke="#000" stroke-width="2.9"/><circle cx="162.3" cy="855.2" r="5.7" fill="#d65a3a" stroke="#000" stroke-width="2.9"/><circle cx="174.2" cy="865.4" r="5.7" fill="#d65a3a" stroke="#000" stroke-width="2.9"/><circle cx="186.1" cy="848.3" r="5.7" fill="#d65a3a" stroke="#000" stroke-width="2.9"/><circle cx="198.1" cy="855.2" r="5.7" fill="#d65a3a" stroke="#000" stroke-width="2.9"/><circle cx="210.0" cy="837.2" r="5.7" fill="#d65a3a" stroke="#000" stroke-width="2.9"/><circle cx="221.9" cy="834.7" r="5.7" fill="#d65a3a" stroke="#000" stroke-width="2.9"/><circle cx="233.8" cy="816.7" r="5.7" fill="#d65a3a" stroke="#000" stroke-width="2.9"/><circle cx="245.7" cy="779.2" r="5.7" fill="#d65a3a" stroke="#000" stroke-width="2.9"/><circle cx="257.7" cy="776.6" r="5.7" fill="#d65a3a" stroke="#000" stroke-width="2.9"/><circle cx="269.6" cy="783.4" r="5.7" fill="#d65a3a" stroke="#000" stroke-width="2.9"/><circle cx="281.5" cy="804.8" r="5.7" fill="#d65a3a" stroke="#000" stroke-width="2.9"/><circle cx="293.4" cy="803.1" r="5.7" fill="#d65a3a" stroke="#000" stroke-width="2.9"/><circle cx="305.3" cy="787.7" r="5.7" fill="#d65a3a" stroke="#000" stroke-width="2.9"/><circle cx="317.3" cy="804.8" r="5.7" fill="#d65a3a" stroke="#000" stroke-width="2.9"/><circle cx="329.2" cy="821.0" r="5.7" fill="#d65a3a" stroke="#000" stroke-width="2.9"/><circle cx="341.1" cy="829.5" r="5.7" fill="#d65a3a" stroke="#000" stroke-width="2.9"/><circle cx="353.0" cy="816.7" r="5.7" fill="#d65a3a" stroke="#000" stroke-width="2.9"/><circle cx="364.9" cy="807.3" r="5.7" fill="#d65a3a" stroke="#000" stroke-width="2.9"/><circle cx="376.9" cy="762.1" r="5.7" fill="#d65a3a" stroke="#000" stroke-width="2.9"/><circle cx="388.8" cy="794.5" r="5.7" fill="#d65a3a" stroke="#000" stroke-width="2.9"/><circle cx="400.7" cy="824.1" r="5.7" fill="#d65a3a" stroke="#000" stroke-width="2.9"/><circle cx="412.6" cy="818.4" r="5.7" fill="#d65a3a" stroke="#000" stroke-width="2.9"/><circle cx="424.5" cy="836.4" r="5.7" fill="#d65a3a" stroke="#000" stroke-width="2.9"/><circle cx="436.5" cy="811.6" r="5.7" fill="#d65a3a" stroke="#000" stroke-width="2.9"/><circle cx="448.4" cy="843.2" r="5.7" fill="#d65a3a" stroke="#000" stroke-width="2.9"/><circle cx="460.3" cy="833.8" r="5.7" fill="#d65a3a" stroke="#000" stroke-width="2.9"/><circle cx="472.2" cy="844.1" r="5.7" fill="#d65a3a" stroke="#000" stroke-width="2.9"/><circle cx="484.1" cy="839.8" r="5.7" fill="#d65a3a" stroke="#000" stroke-width="2.9"/><circle cx="496.1" cy="827.0" r="5.7" fill="#d65a3a" stroke="#000" stroke-width="2.9"/><circle cx="508.0" cy="825.3" r="5.7" fill="#d65a3a" stroke="#000" stroke-width="2.9"/><circle cx="519.9" cy="808.2" r="5.7" fill="#d65a3a" stroke="#000" stroke-width="2.9"/><circle cx="531.8" cy="771.5" r="5.7" fill="#d65a3a" stroke="#000" stroke-width="2.9"/><circle cx="543.7" cy="757.8" r="5.7" fill="#d65a3a" stroke="#000" stroke-width="2.9"/><circle cx="555.7" cy="754.1" r="5.7" fill="#d65a3a" stroke="#000" stroke-width="2.9"/><circle cx="567.6" cy="777.5" r="5.7" fill="#d65a3a" stroke="#000" stroke-width="2.9"/><circle cx="579.5" cy="768.1" r="5.7" fill="#d65a3a" stroke="#000" stroke-width="2.9"/><circle cx="591.4" cy="788.6" r="5.7" fill="#d65a3a" stroke="#000" stroke-width="2.9"/><circle cx="603.3" cy="797.1" r="5.7" fill="#d65a3a" stroke="#000" stroke-width="2.9"/><circle cx="615.3" cy="799.7" r="5.7" fill="#d65a3a" stroke="#000" stroke-width="2.9"/><circle cx="627.2" cy="798.0" r="5.7" fill="#d65a3a" stroke="#000" stroke-width="2.9"/><circle cx="639.1" cy="798.0" r="5.7" fill="#d65a3a" stroke="#000" stroke-width="2.9"/><circle cx="651.0" cy="780.9" r="5.7" fill="#d65a3a" stroke="#000" stroke-width="2.9"/><circle cx="662.9" cy="755.8" r="5.7" fill="#d65a3a" stroke="#000" stroke-width="2.9"/><circle cx="674.9" cy="801.4" r="5.7" fill="#d65a3a" stroke="#000" stroke-width="2.9"/><circle cx="686.8" cy="817.6" r="5.7" fill="#d65a3a" stroke="#000" stroke-width="2.9"/><circle cx="698.7" cy="810.8" r="5.7" fill="#d65a3a" stroke="#000" stroke-width="2.9"/><circle cx="710.6" cy="821.9" r="5.7" fill="#d65a3a" stroke="#000" stroke-width="2.9"/><circle cx="722.5" cy="816.7" r="5.7" fill="#d65a3a" stroke="#000" stroke-width="2.9"/><circle cx="734.5" cy="824.4" r="5.7" fill="#d65a3a" stroke="#000" stroke-width="2.9"/><circle cx="746.4" cy="826.1" r="5.7" fill="#d65a3a" stroke="#000" stroke-width="2.9"/><circle cx="758.3" cy="827.0" r="5.7" fill="#d65a3a" stroke="#000" stroke-width="2.9"/><circle cx="770.2" cy="831.3" r="5.7" fill="#d65a3a" stroke="#000" stroke-width="2.9"/><circle cx="782.1" cy="848.3" r="5.7" fill="#d65a3a" stroke="#000" stroke-width="2.9"/><circle cx="794.1" cy="826.1" r="5.7" fill="#d65a3a" stroke="#000" stroke-width="2.9"/><circle cx="806.0" cy="804.8" r="5.7" fill="#d65a3a" stroke="#000" stroke-width="2.9"/><circle cx="817.9" cy="763.0" r="5.7" fill="#d65a3a" stroke="#000" stroke-width="2.9"/><circle cx="829.8" cy="747.2" r="5.7" fill="#d65a3a" stroke="#000" stroke-width="2.9"/><circle cx="841.7" cy="764.7" r="5.7" fill="#d65a3a" stroke="#000" stroke-width="2.9"/><circle cx="853.7" cy="769.8" r="5.7" fill="#d65a3a" stroke="#000" stroke-width="2.9"/><circle cx="865.6" cy="767.2" r="5.7" fill="#d65a3a" stroke="#000" stroke-width="2.9"/><circle cx="877.5" cy="763.0" r="5.7" fill="#d65a3a" stroke="#000" stroke-width="2.9"/><circle cx="889.4" cy="787.7" r="5.7" fill="#d65a3a" stroke="#000" stroke-width="2.9"/><circle cx="901.3" cy="790.3" r="5.7" fill="#d65a3a" stroke="#000" stroke-width="2.9"/><circle cx="913.3" cy="791.1" r="5.7" fill="#d65a3a" stroke="#000" stroke-width="2.9"/><circle cx="925.2" cy="771.5" r="5.7" fill="#d65a3a" stroke="#000" stroke-width="2.9"/><circle cx="937.1" cy="758.7" r="5.7" fill="#d65a3a" stroke="#000" stroke-width="2.9"/><circle cx="949.0" cy="750.1" r="5.7" fill="#d65a3a" stroke="#000" stroke-width="2.9"/><circle cx="960.9" cy="778.3" r="5.7" fill="#d65a3a" stroke="#000" stroke-width="2.9"/><circle cx="972.9" cy="809.1" r="5.7" fill="#d65a3a" stroke="#000" stroke-width="2.9"/><circle cx="984.8" cy="811.6" r="5.7" fill="#d65a3a" stroke="#000" stroke-width="2.9"/><circle cx="996.7" cy="815.9" r="5.7" fill="#d65a3a" stroke="#000" stroke-width="2.9"/><circle cx="1008.6" cy="814.2" r="5.7" fill="#d65a3a" stroke="#000" stroke-width="2.9"/><circle cx="1020.5" cy="821.9" r="5.7" fill="#d65a3a" stroke="#000" stroke-width="2.9"/><circle cx="1032.5" cy="817.6" r="5.7" fill="#d65a3a" stroke="#000" stroke-width="2.9"/><circle cx="1044.4" cy="827.8" r="5.7" fill="#d65a3a" stroke="#000" stroke-width="2.9"/><circle cx="1056.3" cy="828.7" r="5.7" fill="#d65a3a" stroke="#000" stroke-width="2.9"/><circle cx="1068.2" cy="816.7" r="5.7" fill="#d65a3a" stroke="#000" stroke-width="2.9"/><circle cx="1080.1" cy="819.3" r="5.7" fill="#d65a3a" stroke="#000" stroke-width="2.9"/><circle cx="1092.1" cy="792.8" r="5.7" fill="#d65a3a" stroke="#000" stroke-width="2.9"/><circle cx="1104.0" cy="765.5" r="5.7" fill="#d65a3a" stroke="#000" stroke-width="2.9"/><circle cx="1115.9" cy="760.4" r="5.7" fill="#d65a3a" stroke="#000" stroke-width="2.9"/><circle cx="1127.8" cy="768.9" r="5.7" fill="#d65a3a" stroke="#000" stroke-width="2.9"/><circle cx="1139.7" cy="762.1" r="5.7" fill="#d65a3a" stroke="#000" stroke-width="2.9"/><circle cx="1151.7" cy="757.8" r="5.7" fill="#d65a3a" stroke="#000" stroke-width="2.9"/><circle cx="1163.6" cy="768.1" r="5.7" fill="#d65a3a" stroke="#000" stroke-width="2.9"/><circle cx="1175.5" cy="781.7" r="5.7" fill="#d65a3a" stroke="#000" stroke-width="2.9"/><circle cx="1187.4" cy="780.9" r="5.7" fill="#d65a3a" stroke="#000" stroke-width="2.9"/><circle cx="1199.3" cy="790.3" r="5.7" fill="#d65a3a" stroke="#000" stroke-width="2.9"/><circle cx="1211.3" cy="778.3" r="5.7" fill="#d65a3a" stroke="#000" stroke-width="2.9"/><circle cx="1223.2" cy="763.0" r="5.7" fill="#d65a3a" stroke="#000" stroke-width="2.9"/><circle cx="1235.1" cy="747.2" r="5.7" fill="#d65a3a" stroke="#000" stroke-width="2.9"/><circle cx="1247.0" cy="786.9" r="5.7" fill="#d65a3a" stroke="#000" stroke-width="2.9"/><circle cx="1258.9" cy="809.9" r="5.7" fill="#d65a3a" stroke="#000" stroke-width="2.9"/><circle cx="1270.9" cy="823.6" r="5.7" fill="#d65a3a" stroke="#000" stroke-width="2.9"/><circle cx="1282.8" cy="828.7" r="5.7" fill="#d65a3a" stroke="#000" stroke-width="2.9"/><circle cx="1294.7" cy="826.1" r="5.7" fill="#d65a3a" stroke="#000" stroke-width="2.9"/><circle cx="1306.6" cy="809.1" r="5.7" fill="#d65a3a" stroke="#000" stroke-width="2.9"/><circle cx="1318.5" cy="833.0" r="5.7" fill="#d65a3a" stroke="#000" stroke-width="2.9"/><circle cx="1330.5" cy="824.1" r="5.7" fill="#d65a3a" stroke="#000" stroke-width="2.9"/><circle cx="1342.4" cy="817.6" r="5.7" fill="#d65a3a" stroke="#000" stroke-width="2.9"/><circle cx="1354.3" cy="829.5" r="5.7" fill="#d65a3a" stroke="#000" stroke-width="2.9"/><circle cx="1366.2" cy="833.8" r="5.7" fill="#d65a3a" stroke="#000" stroke-width="2.9"/><circle cx="1378.1" cy="813.3" r="5.7" fill="#d65a3a" stroke="#000" stroke-width="2.9"/><circle cx="1390.1" cy="779.2" r="5.7" fill="#d65a3a" stroke="#000" stroke-width="2.9"/><circle cx="1402.0" cy="771.5" r="5.7" fill="#d65a3a" stroke="#000" stroke-width="2.9"/><circle cx="1413.9" cy="775.8" r="5.7" fill="#d65a3a" stroke="#000" stroke-width="2.9"/><circle cx="1425.8" cy="782.6" r="5.7" fill="#d65a3a" stroke="#000" stroke-width="2.9"/><circle cx="1437.7" cy="791.1" r="5.7" fill="#d65a3a" stroke="#000" stroke-width="2.9"/><circle cx="1449.7" cy="790.3" r="5.7" fill="#d65a3a" stroke="#000" stroke-width="2.9"/><circle cx="1461.6" cy="781.7" r="5.7" fill="#d65a3a" stroke="#000" stroke-width="2.9"/><circle cx="1473.5" cy="776.6" r="5.7" fill="#d65a3a" stroke="#000" stroke-width="2.9"/><circle cx="1485.4" cy="789.4" r="5.7" fill="#d65a3a" stroke="#000" stroke-width="2.9"/><circle cx="1497.3" cy="786.0" r="5.7" fill="#d65a3a" stroke="#000" stroke-width="2.9"/><circle cx="1509.3" cy="777.5" r="5.7" fill="#d65a3a" stroke="#000" stroke-width="2.9"/><circle cx="1521.2" cy="768.1" r="5.7" fill="#d65a3a" stroke="#000" stroke-width="2.9"/><circle cx="1533.1" cy="799.7" r="5.7" fill="#d65a3a" stroke="#000" stroke-width="2.9"/><circle cx="1545.0" cy="820.2" r="5.7" fill="#d65a3a" stroke="#000" stroke-width="2.9"/><circle cx="1556.9" cy="829.5" r="5.7" fill="#d65a3a" stroke="#000" stroke-width="2.9"/><circle cx="1568.9" cy="850.9" r="5.7" fill="#d65a3a" stroke="#000" stroke-width="2.9"/><circle cx="1580.8" cy="814.2" r="5.7" fill="#d65a3a" stroke="#000" stroke-width="2.9"/><circle cx="1592.7" cy="844.9" r="5.7" fill="#d65a3a" stroke="#000" stroke-width="2.9"/><circle cx="1604.6" cy="822.7" r="5.7" fill="#d65a3a" stroke="#000" stroke-width="2.9"/><circle cx="1616.5" cy="822.7" r="5.7" fill="#d65a3a" stroke="#000" stroke-width="2.9"/><circle cx="1628.5" cy="809.9" r="5.7" fill="#d65a3a" stroke="#000" stroke-width="2.9"/><circle cx="1640.4" cy="821.0" r="5.7" fill="#d65a3a" stroke="#000" stroke-width="2.9"/><circle cx="1652.3" cy="806.5" r="5.7" fill="#d65a3a" stroke="#000" stroke-width="2.9"/><circle cx="1664.2" cy="793.7" r="5.7" fill="#d65a3a" stroke="#000" stroke-width="2.9"/><circle cx="1676.1" cy="767.2" r="5.7" fill="#d65a3a" stroke="#000" stroke-width="2.9"/><circle cx="1688.1" cy="765.5" r="5.7" fill="#d65a3a" stroke="#000" stroke-width="2.9"/><circle cx="1700.0" cy="766.4" r="5.7" fill="#d65a3a" stroke="#000" stroke-width="2.9"/><circle cx="1711.9" cy="771.5" r="5.7" fill="#d65a3a" stroke="#000" stroke-width="2.9"/><circle cx="1723.8" cy="769.8" r="5.7" fill="#d65a3a" stroke="#000" stroke-width="2.9"/><circle cx="1735.7" cy="760.4" r="5.7" fill="#d65a3a" stroke="#000" stroke-width="2.9"/><circle cx="1747.7" cy="766.4" r="5.7" fill="#d65a3a" stroke="#000" stroke-width="2.9"/><circle cx="1759.6" cy="772.3" r="5.7" fill="#d65a3a" stroke="#000" stroke-width="2.9"/><circle cx="1771.5" cy="767.2" r="5.7" fill="#d65a3a" stroke="#000" stroke-width="2.9"/><circle cx="1783.4" cy="763.0" r="5.7" fill="#d65a3a" stroke="#000" stroke-width="2.9"/><circle cx="1795.3" cy="751.9" r="5.7" fill="#d65a3a" stroke="#000" stroke-width="2.9"/><circle cx="1807.3" cy="747.6" r="5.7" fill="#d65a3a" stroke="#000" stroke-width="2.9"/><circle cx="1819.2" cy="786.9" r="5.7" fill="#d65a3a" stroke="#000" stroke-width="2.9"/><circle cx="1831.1" cy="804.8" r="5.7" fill="#d65a3a" stroke="#000" stroke-width="2.9"/><circle cx="1843.0" cy="792.0" r="5.7" fill="#d65a3a" stroke="#000" stroke-width="2.9"/><circle cx="1854.9" cy="826.1" r="5.7" fill="#d65a3a" stroke="#000" stroke-width="2.9"/><circle cx="1866.9" cy="815.0" r="5.7" fill="#d65a3a" stroke="#000" stroke-width="2.9"/><circle cx="1878.8" cy="822.7" r="5.7" fill="#d65a3a" stroke="#000" stroke-width="2.9"/><circle cx="1890.7" cy="821.9" r="5.7" fill="#d65a3a" stroke="#000" stroke-width="2.9"/><circle cx="1902.6" cy="828.7" r="5.7" fill="#d65a3a" stroke="#000" stroke-width="2.9"/><circle cx="1914.5" cy="819.3" r="5.7" fill="#d65a3a" stroke="#000" stroke-width="2.9"/><circle cx="1926.5" cy="822.7" r="5.7" fill="#d65a3a" stroke="#000" stroke-width="2.9"/><circle cx="1938.4" cy="808.2" r="5.7" fill="#d65a3a" stroke="#000" stroke-width="2.9"/><circle cx="1950.3" cy="792.8" r="5.7" fill="#d65a3a" stroke="#000" stroke-width="2.9"/><circle cx="1962.2" cy="759.5" r="5.7" fill="#d65a3a" stroke="#000" stroke-width="2.9"/><circle cx="1974.1" cy="750.1" r="5.7" fill="#d65a3a" stroke="#000" stroke-width="2.9"/><circle cx="1986.1" cy="760.4" r="5.7" fill="#d65a3a" stroke="#000" stroke-width="2.9"/><circle cx="1998.0" cy="761.2" r="5.7" fill="#d65a3a" stroke="#000" stroke-width="2.9"/><circle cx="2009.9" cy="751.9" r="5.7" fill="#d65a3a" stroke="#000" stroke-width="2.9"/><circle cx="2021.8" cy="766.4" r="5.7" fill="#d65a3a" stroke="#000" stroke-width="2.9"/><circle cx="2033.7" cy="776.6" r="5.7" fill="#d65a3a" stroke="#000" stroke-width="2.9"/><circle cx="2045.7" cy="786.0" r="5.7" fill="#d65a3a" stroke="#000" stroke-width="2.9"/><circle cx="2057.6" cy="779.2" r="5.7" fill="#d65a3a" stroke="#000" stroke-width="2.9"/><circle cx="2069.5" cy="768.1" r="5.7" fill="#d65a3a" stroke="#000" stroke-width="2.9"/><circle cx="2081.4" cy="751.9" r="5.7" fill="#d65a3a" stroke="#000" stroke-width="2.9"/><circle cx="2093.3" cy="749.3" r="5.7" fill="#d65a3a" stroke="#000" stroke-width="2.9"/>
<text x="157.0" y="765.5" font-size="28.7" text-anchor="start" transform="rotate(-90 157.0 765.5)">p=0.0377</text>
<text x="185.5" y="765.5" font-size="28.7" text-anchor="start" transform="rotate(-90 185.5 765.5)">p=0.0174</text>
<text x="410.6" y="758.8" font-size="28.7" text-anchor="start" transform="rotate(-90 410.6 758.8)">p=0.003</text>
<text x="454.3" y="758.8" font-size="28.7" text-anchor="start" transform="rotate(-90 454.3 758.8)">p=0.023</text>
<text x="482.8" y="774.0" font-size="28.7" text-anchor="start" transform="rotate(-90 482.8 774.0)">p=0.0473</text>
<text x="778.0" y="771.0" font-size="28.7" text-anchor="start" transform="rotate(-90 778.0 771.0)">p=0.0496</text>
<text x="1148.9" y="711.0" font-size="28.7" text-anchor="start" transform="rotate(-90 1148.9 711.0)">p=0.0193</text>
<text x="1180.8" y="703.0" font-size="28.7" text-anchor="start" transform="rotate(-90 1180.8 703.0)">p=0.0328</text>
<text x="1207.0" y="697.5" font-size="28.7" text-anchor="start" transform="rotate(-90 1207.0 697.5)">p=0.0340</text>
<text x="1231.4" y="688.0" font-size="28.7" text-anchor="start" transform="rotate(-90 1231.4 688.0)">p=0.0461</text>
<text x="1272.2" y="773.0" font-size="28.7" text-anchor="start" transform="rotate(-90 1272.2 773.0)">p=0.0170</text>
<text x="1316.4" y="787.5" font-size="28.7" text-anchor="start" transform="rotate(-90 1316.4 787.5)">p=0.0406</text>
<text x="1362.0" y="775.0" font-size="28.7" text-anchor="start" transform="rotate(-90 1362.0 775.0)">p=0.0212</text>
<text x="1396.3" y="699.5" font-size="28.7" text-anchor="start" transform="rotate(-90 1396.3 699.5)">p=0.0095</text>
<text x="1427.4" y="679.0" font-size="28.7" text-anchor="start" transform="rotate(-90 1427.4 679.0)">p=0.0334</text>
<text x="1542.8" y="736.0" font-size="28.7" text-anchor="start" transform="rotate(-90 1542.8 736.0)">p=0.0028</text>
<text x="1566.4" y="761.0" font-size="28.7" text-anchor="start" transform="rotate(-90 1566.4 761.0)">p=0.0037</text>
<text x="1588.4" y="747.8" font-size="28.7" text-anchor="start" transform="rotate(-90 1588.4 747.8)">p=0.0375</text>
<text x="1613.5" y="748.6" font-size="28.7" text-anchor="start" transform="rotate(-90 1613.5 748.6)">p=0.0398</text>
<text x="1652.5" y="708.0" font-size="28.7" text-anchor="start" transform="rotate(-90 1652.5 708.0)">p=0.0277</text>
<text x="1681.8" y="725.0" font-size="28.7" text-anchor="start" transform="rotate(-90 1681.8 725.0)">p=0.0403</text>
<text x="1719.2" y="725.0" font-size="28.7" text-anchor="start" transform="rotate(-90 1719.2 725.0)">p=0.0309</text>
<text x="1814.2" y="672.0" font-size="28.7" text-anchor="start" transform="rotate(-90 1814.2 672.0)">p=0.0326</text>
<text x="1840.3" y="758.0" font-size="28.7" text-anchor="start" transform="rotate(-90 1840.3 758.0)">p=0.0447</text>
<text x="1862.0" y="742.4" font-size="28.7" text-anchor="start" transform="rotate(-90 1862.0 742.4)">p=0.0006</text>
<text x="1885.6" y="733.7" font-size="28.7" text-anchor="start" transform="rotate(-90 1885.6 733.7)">p=0.0209</text>
<line x1="1175.6" y1="704.7" x2="1185.8" y2="737.7" stroke="#000" stroke-width="2.2" stroke-linecap="butt"/>
<line x1="1198.4" y1="700.0" x2="1198.4" y2="740.9" stroke="#000" stroke-width="2.2" stroke-linecap="butt"/>
<line x1="1221.2" y1="691.4" x2="1212.5" y2="722.0" stroke="#000" stroke-width="2.2" stroke-linecap="butt"/>
<line x1="1415.9" y1="683.9" x2="1405.2" y2="715.0" stroke="#000" stroke-width="2.2" stroke-linecap="butt"/>
<line x1="1582.9" y1="750.3" x2="1580.5" y2="784.8" stroke="#000" stroke-width="2.2" stroke-linecap="butt"/>
<line x1="1601.0" y1="750.3" x2="1592.3" y2="784.0" stroke="#000" stroke-width="2.2" stroke-linecap="butt"/>
<line x1="1651.7" y1="710.5" x2="1662.4" y2="744.0" stroke="#000" stroke-width="2.2" stroke-linecap="butt"/>
<line x1="1815.0" y1="673.9" x2="1818.5" y2="715.7" stroke="#000" stroke-width="2.2" stroke-linecap="butt"/>
<line x1="1856.8" y1="745.3" x2="1854.2" y2="785.3" stroke="#000" stroke-width="2.2" stroke-linecap="butt"/>
<line x1="1878.6" y1="736.6" x2="1869.9" y2="769.7" stroke="#000" stroke-width="2.2" stroke-linecap="butt"/>
<text x="4.3" y="1103.0" font-size="53" text-anchor="start">d</text>
<rect x="203.8" y="1129.1" width="68.9" height="295.3" fill="#d6d6d6" stroke="none" stroke-width="0"/>
<rect x="349.0" y="1126.8" width="67.7" height="297.6" fill="#d6d6d6" stroke="none" stroke-width="0"/>
<rect x="492.0" y="1129.1" width="70.8" height="295.3" fill="#d6d6d6" stroke="none" stroke-width="0"/>
<rect x="634.6" y="1128.9" width="70.1" height="295.5" fill="#d6d6d6" stroke="none" stroke-width="0"/>
<rect x="784.5" y="1128.9" width="69.6" height="295.5" fill="#d6d6d6" stroke="none" stroke-width="0"/>
<rect x="930.0" y="1129.2" width="68.6" height="295.2" fill="#d6d6d6" stroke="none" stroke-width="0"/>
<rect x="1071.2" y="1129.2" width="69.1" height="295.2" fill="#d6d6d6" stroke="none" stroke-width="0"/>
<line x1="134.2" y1="1127.6" x2="134.2" y2="1425.9" stroke="#000" stroke-width="3" stroke-linecap="butt"/>
<line x1="118.0" y1="1424.4" x2="1140.3" y2="1424.4" stroke="#000" stroke-width="3" stroke-linecap="butt"/>
<line x1="118.0" y1="1129.1" x2="134.2" y2="1129.1" stroke="#000" stroke-width="3" stroke-linecap="butt"/>
<text x="110.5" y="1139.6" font-size="29" text-anchor="end">420</text>
<line x1="118.0" y1="1188.2" x2="134.2" y2="1188.2" stroke="#000" stroke-width="3" stroke-linecap="butt"/>
<text x="110.5" y="1198.7" font-size="29" text-anchor="end">410</text>
<line x1="118.0" y1="1247.2" x2="134.2" y2="1247.2" stroke="#000" stroke-width="3" stroke-linecap="butt"/>
<text x="110.5" y="1257.7" font-size="29" text-anchor="end">400</text>
<line x1="118.0" y1="1306.3" x2="134.2" y2="1306.3" stroke="#000" stroke-width="3" stroke-linecap="butt"/>
<text x="110.5" y="1316.8" font-size="29" text-anchor="end">390</text>
<line x1="118.0" y1="1365.3" x2="134.2" y2="1365.3" stroke="#000" stroke-width="3" stroke-linecap="butt"/>
<text x="110.5" y="1375.8" font-size="29" text-anchor="end">380</text>
<line x1="118.0" y1="1424.4" x2="134.2" y2="1424.4" stroke="#000" stroke-width="3" stroke-linecap="butt"/>
<text x="110.5" y="1434.9" font-size="29" text-anchor="end">370</text>
<text x="42.3" y="1276.0" font-size="28.5" text-anchor="middle" transform="rotate(-90 42.3 1276.0)">AUC</text>
<rect x="135.5" y="1428.1" width="1004.8" height="31.1" fill="#fff" stroke="#000" stroke-width="2.4"/>
<line x1="273.3" y1="1428.1" x2="273.3" y2="1459.2" stroke="#000" stroke-width="2.4" stroke-linecap="butt"/>
<line x1="417.9" y1="1428.1" x2="417.9" y2="1459.2" stroke="#000" stroke-width="2.4" stroke-linecap="butt"/>
<line x1="564.6" y1="1428.1" x2="564.6" y2="1459.2" stroke="#000" stroke-width="2.4" stroke-linecap="butt"/>
<line x1="704.5" y1="1428.1" x2="704.5" y2="1459.2" stroke="#000" stroke-width="2.4" stroke-linecap="butt"/>
<line x1="853.0" y1="1428.1" x2="853.0" y2="1459.2" stroke="#000" stroke-width="2.4" stroke-linecap="butt"/>
<line x1="998.9" y1="1428.1" x2="998.9" y2="1459.2" stroke="#000" stroke-width="2.4" stroke-linecap="butt"/>
<text x="199.9" y="1451.5" font-size="29" text-anchor="middle">Day 1</text>
<text x="343.1" y="1451.5" font-size="29" text-anchor="middle">Day 2</text>
<text x="488.8" y="1451.5" font-size="29" text-anchor="middle">Day 3</text>
<text x="632.0" y="1451.5" font-size="29" text-anchor="middle">Day 4</text>
<text x="776.2" y="1451.5" font-size="29" text-anchor="middle">Day 5</text>
<text x="923.5" y="1451.5" font-size="29" text-anchor="middle">Day 6</text>
<text x="1067.1" y="1451.5" font-size="29" text-anchor="middle">Day 7</text>
<line x1="143.1" y1="1306.3" x2="161.1" y2="1306.3" stroke="#000" stroke-width="3" stroke-linecap="butt"/>
<line x1="152.1" y1="1291.4" x2="152.1" y2="1321.2" stroke="#000" stroke-width="3" stroke-linecap="butt"/>
<circle cx="152.1" cy="1255.4" r="7.4" fill="#000" stroke="#000" stroke-width="0.4"/>
<circle cx="152.1" cy="1285.2" r="7.4" fill="#000" stroke="#000" stroke-width="0.4"/>
<circle cx="152.1" cy="1326.2" r="7.4" fill="#000" stroke="#000" stroke-width="0.4"/>
<circle cx="152.1" cy="1358.5" r="7.4" fill="#000" stroke="#000" stroke-width="0.4"/>
<line x1="171.5" y1="1352.0" x2="187.5" y2="1352.0" stroke="#000" stroke-width="3" stroke-linecap="butt"/>
<line x1="179.5" y1="1340.0" x2="179.5" y2="1364.0" stroke="#000" stroke-width="3" stroke-linecap="butt"/>
<circle cx="179.5" cy="1298.9" r="5.6" fill="#d65a3a" stroke="#000" stroke-width="3.0"/>
<circle cx="179.5" cy="1347.3" r="5.6" fill="#d65a3a" stroke="#000" stroke-width="3.0"/>
<circle cx="174.0" cy="1355.5" r="5.6" fill="#d65a3a" stroke="#000" stroke-width="3.0"/>
<circle cx="183.5" cy="1355.5" r="5.6" fill="#d65a3a" stroke="#000" stroke-width="3.0"/>
<circle cx="179.5" cy="1357.0" r="5.6" fill="#d65a3a" stroke="#000" stroke-width="3.0"/>
<circle cx="179.5" cy="1393.3" r="5.6" fill="#d65a3a" stroke="#000" stroke-width="3.0"/>
<line x1="214.4" y1="1284.0" x2="233.0" y2="1284.0" stroke="#000" stroke-width="3" stroke-linecap="butt"/>
<line x1="223.7" y1="1265.3" x2="223.7" y2="1298.9" stroke="#000" stroke-width="3" stroke-linecap="butt"/>
<circle cx="223.7" cy="1228.0" r="7.4" fill="#000" stroke="#000" stroke-width="0.4"/>
<circle cx="223.7" cy="1288.9" r="7.4" fill="#000" stroke="#000" stroke-width="0.4"/>
<circle cx="223.7" cy="1302.6" r="7.4" fill="#000" stroke="#000" stroke-width="0.4"/>
<circle cx="223.7" cy="1316.3" r="7.4" fill="#000" stroke="#000" stroke-width="0.4"/>
<line x1="242.9" y1="1298.9" x2="259.1" y2="1298.9" stroke="#000" stroke-width="3" stroke-linecap="butt"/>
<line x1="251.0" y1="1282.7" x2="251.0" y2="1313.8" stroke="#000" stroke-width="3" stroke-linecap="butt"/>
<circle cx="254.8" cy="1254.1" r="5.6" fill="#d65a3a" stroke="#000" stroke-width="3.0"/>
<circle cx="248.1" cy="1260.3" r="5.6" fill="#d65a3a" stroke="#000" stroke-width="3.0"/>
<circle cx="254.8" cy="1291.4" r="5.6" fill="#d65a3a" stroke="#000" stroke-width="3.0"/>
<circle cx="248.1" cy="1302.6" r="5.6" fill="#d65a3a" stroke="#000" stroke-width="3.0"/>
<circle cx="251.6" cy="1322.5" r="5.6" fill="#d65a3a" stroke="#000" stroke-width="3.0"/>
<circle cx="251.6" cy="1357.3" r="5.6" fill="#d65a3a" stroke="#000" stroke-width="3.0"/>
<line x1="287.9" y1="1293.9" x2="305.3" y2="1293.9" stroke="#000" stroke-width="3" stroke-linecap="butt"/>
<line x1="296.6" y1="1278.5" x2="296.6" y2="1309.0" stroke="#000" stroke-width="3" stroke-linecap="butt"/>
<circle cx="296.6" cy="1251.1" r="7.4" fill="#000" stroke="#000" stroke-width="0.4"/>
<circle cx="292.4" cy="1297.6" r="7.4" fill="#000" stroke="#000" stroke-width="0.4"/>
<circle cx="299.8" cy="1303.8" r="7.4" fill="#000" stroke="#000" stroke-width="0.4"/>
<circle cx="296.6" cy="1320.0" r="7.4" fill="#000" stroke="#000" stroke-width="0.4"/>
<line x1="315.4" y1="1336.0" x2="331.4" y2="1336.0" stroke="#000" stroke-width="3" stroke-linecap="butt"/>
<line x1="323.4" y1="1327.0" x2="323.4" y2="1345.0" stroke="#000" stroke-width="3" stroke-linecap="butt"/>
<circle cx="323.4" cy="1300.1" r="5.6" fill="#d65a3a" stroke="#000" stroke-width="3.0"/>
<circle cx="323.4" cy="1329.2" r="5.6" fill="#d65a3a" stroke="#000" stroke-width="3.0"/>
<circle cx="319.7" cy="1336.1" r="5.6" fill="#d65a3a" stroke="#000" stroke-width="3.0"/>
<circle cx="328.4" cy="1339.9" r="5.6" fill="#d65a3a" stroke="#000" stroke-width="3.0"/>
<circle cx="323.4" cy="1344.8" r="5.6" fill="#d65a3a" stroke="#000" stroke-width="3.0"/>
<circle cx="323.4" cy="1354.8" r="5.6" fill="#d65a3a" stroke="#000" stroke-width="3.0"/>
<line x1="359.9" y1="1244.7" x2="377.9" y2="1244.7" stroke="#000" stroke-width="3" stroke-linecap="butt"/>
<line x1="368.9" y1="1220.6" x2="368.9" y2="1268.8" stroke="#000" stroke-width="3" stroke-linecap="butt"/>
<circle cx="368.9" cy="1175.8" r="7.4" fill="#000" stroke="#000" stroke-width="0.4"/>
<circle cx="368.9" cy="1250.4" r="7.4" fill="#000" stroke="#000" stroke-width="0.4"/>
<circle cx="368.9" cy="1270.3" r="7.4" fill="#000" stroke="#000" stroke-width="0.4"/>
<circle cx="368.9" cy="1283.4" r="7.4" fill="#000" stroke="#000" stroke-width="0.4"/>
<line x1="387.9" y1="1271.5" x2="404.1" y2="1271.5" stroke="#000" stroke-width="3" stroke-linecap="butt"/>
<line x1="396.0" y1="1255.4" x2="396.0" y2="1287.6" stroke="#000" stroke-width="3" stroke-linecap="butt"/>
<circle cx="399.3" cy="1223.0" r="5.6" fill="#d65a3a" stroke="#000" stroke-width="3.0"/>
<circle cx="395.5" cy="1234.2" r="5.6" fill="#d65a3a" stroke="#000" stroke-width="3.0"/>
<circle cx="393.0" cy="1276.5" r="5.6" fill="#d65a3a" stroke="#000" stroke-width="3.0"/>
<circle cx="400.5" cy="1277.0" r="5.6" fill="#d65a3a" stroke="#000" stroke-width="3.0"/>
<circle cx="396.0" cy="1284.0" r="5.6" fill="#d65a3a" stroke="#000" stroke-width="3.0"/>
<circle cx="396.0" cy="1332.4" r="5.6" fill="#d65a3a" stroke="#000" stroke-width="3.0"/>
<line x1="432.4" y1="1301.8" x2="450.6" y2="1301.8" stroke="#000" stroke-width="3" stroke-linecap="butt"/>
<line x1="441.5" y1="1289.4" x2="441.5" y2="1314.2" stroke="#000" stroke-width="3" stroke-linecap="butt"/>
<circle cx="441.5" cy="1267.8" r="7.4" fill="#000" stroke="#000" stroke-width="0.4"/>
<circle cx="437.0" cy="1306.3" r="7.4" fill="#000" stroke="#000" stroke-width="0.4"/>
<circle cx="446.5" cy="1308.8" r="7.4" fill="#000" stroke="#000" stroke-width="0.4"/>
<circle cx="438.5" cy="1321.2" r="7.4" fill="#000" stroke="#000" stroke-width="0.4"/>
<line x1="460.1" y1="1327.4" x2="476.1" y2="1327.4" stroke="#000" stroke-width="3" stroke-linecap="butt"/>
<line x1="468.1" y1="1317.5" x2="468.1" y2="1337.3" stroke="#000" stroke-width="3" stroke-linecap="butt"/>
<circle cx="468.1" cy="1281.0" r="5.6" fill="#d65a3a" stroke="#000" stroke-width="3.0"/>
<circle cx="465.1" cy="1332.4" r="5.6" fill="#d65a3a" stroke="#000" stroke-width="3.0"/>
<circle cx="472.6" cy="1332.4" r="5.6" fill="#d65a3a" stroke="#000" stroke-width="3.0"/>
<circle cx="468.9" cy="1339.9" r="5.6" fill="#d65a3a" stroke="#000" stroke-width="3.0"/>
<circle cx="466.4" cy="1348.1" r="5.6" fill="#d65a3a" stroke="#000" stroke-width="3.0"/>
<circle cx="470.0" cy="1330.0" r="5.6" fill="#d65a3a" stroke="#000" stroke-width="3.0"/>
<line x1="504.6" y1="1251.6" x2="522.6" y2="1251.6" stroke="#000" stroke-width="3" stroke-linecap="butt"/>
<line x1="513.6" y1="1238.0" x2="513.6" y2="1265.2" stroke="#000" stroke-width="3" stroke-linecap="butt"/>
<circle cx="513.6" cy="1214.8" r="7.4" fill="#000" stroke="#000" stroke-width="0.4"/>
<circle cx="509.9" cy="1257.1" r="7.4" fill="#000" stroke="#000" stroke-width="0.4"/>
<circle cx="518.1" cy="1259.1" r="7.4" fill="#000" stroke="#000" stroke-width="0.4"/>
<circle cx="513.6" cy="1275.7" r="7.4" fill="#000" stroke="#000" stroke-width="0.4"/>
<line x1="532.2" y1="1257.8" x2="549.6" y2="1257.8" stroke="#000" stroke-width="3" stroke-linecap="butt"/>
<line x1="540.9" y1="1248.6" x2="540.9" y2="1267.0" stroke="#000" stroke-width="3" stroke-linecap="butt"/>
<circle cx="540.9" cy="1225.5" r="5.6" fill="#d65a3a" stroke="#000" stroke-width="3.0"/>
<circle cx="540.9" cy="1239.2" r="5.6" fill="#d65a3a" stroke="#000" stroke-width="3.0"/>
<circle cx="543.4" cy="1261.1" r="5.6" fill="#d65a3a" stroke="#000" stroke-width="3.0"/>
<circle cx="539.7" cy="1271.5" r="5.6" fill="#d65a3a" stroke="#000" stroke-width="3.0"/>
<circle cx="545.9" cy="1273.5" r="5.6" fill="#d65a3a" stroke="#000" stroke-width="3.0"/>
<circle cx="537.2" cy="1275.2" r="5.6" fill="#d65a3a" stroke="#000" stroke-width="3.0"/>
<line x1="576.6" y1="1298.5" x2="594.6" y2="1298.5" stroke="#000" stroke-width="3" stroke-linecap="butt"/>
<line x1="585.6" y1="1282.3" x2="585.6" y2="1314.7" stroke="#000" stroke-width="3" stroke-linecap="butt"/>
<circle cx="585.6" cy="1250.4" r="7.4" fill="#000" stroke="#000" stroke-width="0.4"/>
<circle cx="585.6" cy="1302.0" r="7.4" fill="#000" stroke="#000" stroke-width="0.4"/>
<circle cx="581.9" cy="1318.3" r="7.4" fill="#000" stroke="#000" stroke-width="0.4"/>
<circle cx="589.3" cy="1318.3" r="7.4" fill="#000" stroke="#000" stroke-width="0.4"/>
<line x1="604.7" y1="1325.0" x2="620.7" y2="1325.0" stroke="#000" stroke-width="3" stroke-linecap="butt"/>
<line x1="612.7" y1="1315.0" x2="612.7" y2="1335.0" stroke="#000" stroke-width="3" stroke-linecap="butt"/>
<circle cx="612.7" cy="1274.8" r="5.6" fill="#d65a3a" stroke="#000" stroke-width="3.0"/>
<circle cx="612.7" cy="1312.1" r="5.6" fill="#d65a3a" stroke="#000" stroke-width="3.0"/>
<circle cx="609.7" cy="1318.3" r="5.6" fill="#d65a3a" stroke="#000" stroke-width="3.0"/>
<circle cx="617.7" cy="1322.0" r="5.6" fill="#d65a3a" stroke="#000" stroke-width="3.0"/>
<circle cx="612.7" cy="1332.0" r="5.6" fill="#d65a3a" stroke="#000" stroke-width="3.0"/>
<circle cx="612.7" cy="1348.2" r="5.6" fill="#d65a3a" stroke="#000" stroke-width="3.0"/>
<line x1="650.1" y1="1215.2" x2="666.3" y2="1215.2" stroke="#000" stroke-width="3" stroke-linecap="butt"/>
<line x1="658.2" y1="1204.0" x2="658.2" y2="1226.4" stroke="#000" stroke-width="3" stroke-linecap="butt"/>
<circle cx="658.2" cy="1181.1" r="7.4" fill="#000" stroke="#000" stroke-width="0.4"/>
<circle cx="658.2" cy="1215.2" r="7.4" fill="#000" stroke="#000" stroke-width="0.4"/>
<circle cx="654.5" cy="1236.3" r="7.4" fill="#000" stroke="#000" stroke-width="0.4"/>
<circle cx="661.9" cy="1231.3" r="7.4" fill="#000" stroke="#000" stroke-width="0.4"/>
<line x1="676.2" y1="1257.4" x2="694.8" y2="1257.4" stroke="#000" stroke-width="3" stroke-linecap="butt"/>
<line x1="685.5" y1="1243.8" x2="685.5" y2="1271.1" stroke="#000" stroke-width="3" stroke-linecap="butt"/>
<circle cx="681.8" cy="1222.6" r="5.6" fill="#d65a3a" stroke="#000" stroke-width="3.0"/>
<circle cx="688.8" cy="1221.4" r="5.6" fill="#d65a3a" stroke="#000" stroke-width="3.0"/>
<circle cx="685.5" cy="1241.8" r="5.6" fill="#d65a3a" stroke="#000" stroke-width="3.0"/>
<circle cx="682.3" cy="1277.3" r="5.6" fill="#d65a3a" stroke="#000" stroke-width="3.0"/>
<circle cx="689.8" cy="1278.6" r="5.6" fill="#d65a3a" stroke="#000" stroke-width="3.0"/>
<circle cx="685.5" cy="1301.4" r="5.6" fill="#d65a3a" stroke="#000" stroke-width="3.0"/>
<line x1="721.2" y1="1289.8" x2="739.4" y2="1289.8" stroke="#000" stroke-width="3" stroke-linecap="butt"/>
<line x1="730.3" y1="1278.1" x2="730.3" y2="1301.5" stroke="#000" stroke-width="3" stroke-linecap="butt"/>
<circle cx="730.3" cy="1257.4" r="7.4" fill="#000" stroke="#000" stroke-width="0.4"/>
<circle cx="730.3" cy="1286.0" r="7.4" fill="#000" stroke="#000" stroke-width="0.4"/>
<circle cx="734.0" cy="1303.4" r="7.4" fill="#000" stroke="#000" stroke-width="0.4"/>
<circle cx="727.0" cy="1309.6" r="7.4" fill="#000" stroke="#000" stroke-width="0.4"/>
<line x1="749.6" y1="1327.0" x2="765.6" y2="1327.0" stroke="#000" stroke-width="3" stroke-linecap="butt"/>
<line x1="757.6" y1="1320.8" x2="757.6" y2="1333.2" stroke="#000" stroke-width="3" stroke-linecap="butt"/>
<circle cx="757.6" cy="1296.0" r="5.6" fill="#d65a3a" stroke="#000" stroke-width="3.0"/>
<circle cx="757.6" cy="1329.5" r="5.6" fill="#d65a3a" stroke="#000" stroke-width="3.0"/>
<circle cx="753.0" cy="1333.3" r="5.6" fill="#d65a3a" stroke="#000" stroke-width="3.0"/>
<circle cx="762.0" cy="1333.3" r="5.6" fill="#d65a3a" stroke="#000" stroke-width="3.0"/>
<circle cx="757.6" cy="1331.0" r="5.6" fill="#d65a3a" stroke="#000" stroke-width="3.0"/>
<circle cx="757.6" cy="1335.0" r="5.6" fill="#d65a3a" stroke="#000" stroke-width="3.0"/>
<line x1="794.7" y1="1221.4" x2="811.5" y2="1221.4" stroke="#000" stroke-width="3" stroke-linecap="butt"/>
<line x1="803.1" y1="1201.5" x2="803.1" y2="1241.3" stroke="#000" stroke-width="3" stroke-linecap="butt"/>
<circle cx="803.1" cy="1160.5" r="7.4" fill="#000" stroke="#000" stroke-width="0.4"/>
<circle cx="803.1" cy="1220.2" r="7.4" fill="#000" stroke="#000" stroke-width="0.4"/>
<circle cx="799.9" cy="1255.0" r="7.4" fill="#000" stroke="#000" stroke-width="0.4"/>
<circle cx="807.3" cy="1251.2" r="7.4" fill="#000" stroke="#000" stroke-width="0.4"/>
<line x1="821.7" y1="1272.4" x2="837.7" y2="1272.4" stroke="#000" stroke-width="3" stroke-linecap="butt"/>
<line x1="829.7" y1="1256.5" x2="829.7" y2="1288.3" stroke="#000" stroke-width="3" stroke-linecap="butt"/>
<circle cx="829.7" cy="1225.1" r="5.6" fill="#d65a3a" stroke="#000" stroke-width="3.0"/>
<circle cx="827.2" cy="1251.2" r="5.6" fill="#d65a3a" stroke="#000" stroke-width="3.0"/>
<circle cx="833.9" cy="1257.4" r="5.6" fill="#d65a3a" stroke="#000" stroke-width="3.0"/>
<circle cx="829.7" cy="1273.6" r="5.6" fill="#d65a3a" stroke="#000" stroke-width="3.0"/>
<circle cx="829.7" cy="1289.8" r="5.6" fill="#d65a3a" stroke="#000" stroke-width="3.0"/>
<circle cx="829.7" cy="1335.7" r="5.6" fill="#d65a3a" stroke="#000" stroke-width="3.0"/>
<line x1="865.9" y1="1285.8" x2="883.9" y2="1285.8" stroke="#000" stroke-width="3" stroke-linecap="butt"/>
<line x1="874.9" y1="1271.9" x2="874.9" y2="1298.7" stroke="#000" stroke-width="3" stroke-linecap="butt"/>
<circle cx="874.9" cy="1247.0" r="7.4" fill="#000" stroke="#000" stroke-width="0.4"/>
<circle cx="874.9" cy="1278.9" r="7.4" fill="#000" stroke="#000" stroke-width="0.4"/>
<circle cx="872.4" cy="1307.4" r="7.4" fill="#000" stroke="#000" stroke-width="0.4"/>
<circle cx="878.6" cy="1305.0" r="7.4" fill="#000" stroke="#000" stroke-width="0.4"/>
<line x1="893.5" y1="1326.1" x2="910.9" y2="1326.1" stroke="#000" stroke-width="3" stroke-linecap="butt"/>
<line x1="902.2" y1="1315.0" x2="902.2" y2="1337.0" stroke="#000" stroke-width="3" stroke-linecap="butt"/>
<circle cx="902.2" cy="1282.6" r="5.6" fill="#d65a3a" stroke="#000" stroke-width="3.0"/>
<circle cx="898.5" cy="1312.4" r="5.6" fill="#d65a3a" stroke="#000" stroke-width="3.0"/>
<circle cx="905.9" cy="1319.9" r="5.6" fill="#d65a3a" stroke="#000" stroke-width="3.0"/>
<circle cx="899.7" cy="1335.5" r="5.6" fill="#d65a3a" stroke="#000" stroke-width="3.0"/>
<circle cx="905.9" cy="1345.5" r="5.6" fill="#d65a3a" stroke="#000" stroke-width="3.0"/>
<circle cx="902.2" cy="1358.9" r="5.6" fill="#d65a3a" stroke="#000" stroke-width="3.0"/>
<line x1="938.7" y1="1221.2" x2="956.7" y2="1221.2" stroke="#000" stroke-width="3" stroke-linecap="butt"/>
<line x1="947.7" y1="1210.0" x2="947.7" y2="1232.0" stroke="#000" stroke-width="3" stroke-linecap="butt"/>
<circle cx="947.7" cy="1193.1" r="7.4" fill="#000" stroke="#000" stroke-width="0.4"/>
<circle cx="947.7" cy="1216.2" r="7.4" fill="#000" stroke="#000" stroke-width="0.4"/>
<circle cx="950.7" cy="1231.1" r="7.4" fill="#000" stroke="#000" stroke-width="0.4"/>
<circle cx="944.5" cy="1240.3" r="7.4" fill="#000" stroke="#000" stroke-width="0.4"/>
<line x1="965.6" y1="1251.5" x2="983.0" y2="1251.5" stroke="#000" stroke-width="3" stroke-linecap="butt"/>
<line x1="974.3" y1="1240.0" x2="974.3" y2="1263.0" stroke="#000" stroke-width="3" stroke-linecap="butt"/>
<circle cx="978.0" cy="1219.2" r="5.6" fill="#d65a3a" stroke="#000" stroke-width="3.0"/>
<circle cx="971.3" cy="1226.7" r="5.6" fill="#d65a3a" stroke="#000" stroke-width="3.0"/>
<circle cx="974.3" cy="1242.1" r="5.6" fill="#d65a3a" stroke="#000" stroke-width="3.0"/>
<circle cx="970.6" cy="1256.5" r="5.6" fill="#d65a3a" stroke="#000" stroke-width="3.0"/>
<circle cx="978.0" cy="1259.5" r="5.6" fill="#d65a3a" stroke="#000" stroke-width="3.0"/>
<circle cx="974.3" cy="1297.5" r="5.6" fill="#d65a3a" stroke="#000" stroke-width="3.0"/>
<line x1="1010.8" y1="1283.3" x2="1028.8" y2="1283.3" stroke="#000" stroke-width="3" stroke-linecap="butt"/>
<line x1="1019.8" y1="1268.9" x2="1019.8" y2="1297.7" stroke="#000" stroke-width="3" stroke-linecap="butt"/>
<circle cx="1019.8" cy="1246.0" r="7.4" fill="#000" stroke="#000" stroke-width="0.4"/>
<circle cx="1016.5" cy="1286.3" r="7.4" fill="#000" stroke="#000" stroke-width="0.4"/>
<circle cx="1022.8" cy="1286.3" r="7.4" fill="#000" stroke="#000" stroke-width="0.4"/>
<circle cx="1019.8" cy="1301.7" r="7.4" fill="#000" stroke="#000" stroke-width="0.4"/>
<line x1="1039.1" y1="1318.1" x2="1055.1" y2="1318.1" stroke="#000" stroke-width="3" stroke-linecap="butt"/>
<line x1="1047.1" y1="1309.0" x2="1047.1" y2="1327.0" stroke="#000" stroke-width="3" stroke-linecap="butt"/>
<circle cx="1047.1" cy="1283.3" r="5.6" fill="#d65a3a" stroke="#000" stroke-width="3.0"/>
<circle cx="1047.1" cy="1313.2" r="5.6" fill="#d65a3a" stroke="#000" stroke-width="3.0"/>
<circle cx="1048.9" cy="1319.9" r="5.6" fill="#d65a3a" stroke="#000" stroke-width="3.0"/>
<circle cx="1051.3" cy="1324.8" r="5.6" fill="#d65a3a" stroke="#000" stroke-width="3.0"/>
<circle cx="1043.9" cy="1331.6" r="5.6" fill="#d65a3a" stroke="#000" stroke-width="3.0"/>
<circle cx="1047.1" cy="1322.0" r="5.6" fill="#d65a3a" stroke="#000" stroke-width="3.0"/>
<line x1="1082.8" y1="1230.4" x2="1102.0" y2="1230.4" stroke="#000" stroke-width="3" stroke-linecap="butt"/>
<line x1="1092.4" y1="1208.0" x2="1092.4" y2="1252.8" stroke="#000" stroke-width="3" stroke-linecap="butt"/>
<circle cx="1092.4" cy="1167.0" r="7.4" fill="#000" stroke="#000" stroke-width="0.4"/>
<circle cx="1087.4" cy="1237.8" r="7.4" fill="#000" stroke="#000" stroke-width="0.4"/>
<circle cx="1094.8" cy="1247.0" r="7.4" fill="#000" stroke="#000" stroke-width="0.4"/>
<circle cx="1092.4" cy="1265.2" r="7.4" fill="#000" stroke="#000" stroke-width="0.4"/>
<line x1="1111.7" y1="1251.0" x2="1127.7" y2="1251.0" stroke="#000" stroke-width="3" stroke-linecap="butt"/>
<line x1="1119.7" y1="1240.3" x2="1119.7" y2="1261.7" stroke="#000" stroke-width="3" stroke-linecap="butt"/>
<circle cx="1117.2" cy="1219.2" r="5.6" fill="#d65a3a" stroke="#000" stroke-width="3.0"/>
<circle cx="1121.0" cy="1222.2" r="5.6" fill="#d65a3a" stroke="#000" stroke-width="3.0"/>
<circle cx="1114.7" cy="1252.8" r="5.6" fill="#d65a3a" stroke="#000" stroke-width="3.0"/>
<circle cx="1122.7" cy="1259.0" r="5.6" fill="#d65a3a" stroke="#000" stroke-width="3.0"/>
<circle cx="1118.5" cy="1265.2" r="5.6" fill="#d65a3a" stroke="#000" stroke-width="3.0"/>
<circle cx="1119.7" cy="1283.3" r="5.6" fill="#d65a3a" stroke="#000" stroke-width="3.0"/>
<text x="177.6" y="1221.8" font-size="29.5" text-anchor="start" transform="rotate(-90 177.6 1221.8)">p=0.092</text>
<line x1="152.0" y1="1232.7" x2="183.3" y2="1232.7" stroke="#000" stroke-width="2.8" stroke-linecap="butt"/>
<text x="322.5" y="1215.0" font-size="29.5" text-anchor="start" transform="rotate(-90 322.5 1215.0)">p=0.028</text>
<line x1="297.3" y1="1225.5" x2="327.2" y2="1225.5" stroke="#000" stroke-width="2.8" stroke-linecap="butt"/>
<text x="681.8" y="1153.7" font-size="29.5" text-anchor="start" transform="rotate(-90 681.8 1153.7)">p=0.065</text>
<line x1="659.4" y1="1164.2" x2="689.3" y2="1164.2" stroke="#000" stroke-width="2.8" stroke-linecap="butt"/>
<text x="755.1" y="1225.8" font-size="29.5" text-anchor="start" transform="rotate(-90 755.1 1225.8)">p=0.015</text>
<line x1="731.5" y1="1235.8" x2="760.1" y2="1235.8" stroke="#000" stroke-width="2.8" stroke-linecap="butt"/>
<text x="827.6" y="1143.1" font-size="29.5" text-anchor="start" transform="rotate(-90 827.6 1143.1)">p=0.089</text>
<line x1="803.1" y1="1149.4" x2="832.8" y2="1149.4" stroke="#000" stroke-width="2.8" stroke-linecap="butt"/>
<text x="901.0" y="1217.4" font-size="29.5" text-anchor="start" transform="rotate(-90 901.0 1217.4)">p=0.051</text>
<line x1="876.1" y1="1227.9" x2="904.7" y2="1227.9" stroke="#000" stroke-width="2.8" stroke-linecap="butt"/>
<text x="1043.9" y="1216.1" font-size="29.5" text-anchor="start" transform="rotate(-90 1043.9 1216.1)">p=0.025</text>
<line x1="1022.8" y1="1225.4" x2="1051.8" y2="1225.4" stroke="#000" stroke-width="2.8" stroke-linecap="butt"/>
<circle cx="1196.4" cy="1140.6" r="7.4" fill="#000" stroke="#000" stroke-width="0.4"/>
<text x="1223.0" y="1153.7" font-size="29" text-anchor="start" letter-spacing="-1">WT</text>
<circle cx="1196.4" cy="1175.2" r="5.6" fill="#d65a3a" stroke="#000" stroke-width="3.4"/>
<text x="1223.5" y="1182.6" font-size="28" text-anchor="start" letter-spacing="-1.5">Epac1PKO</text>
</svg>
</body></html>
